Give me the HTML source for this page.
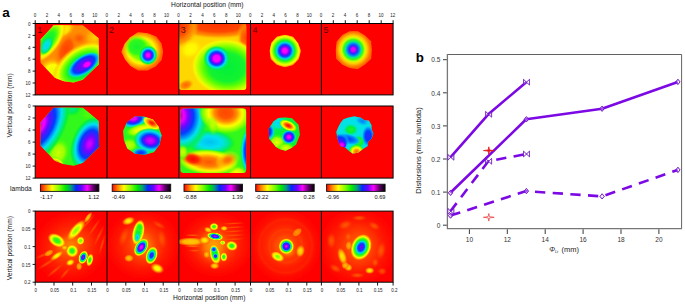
<!DOCTYPE html>
<html><head><meta charset="utf-8"><title>figure</title>
<style>html,body{margin:0;padding:0;background:#fff;width:685px;height:305px;overflow:hidden;font-family:"Liberation Sans",sans-serif}</style></head>
<body>
<svg width="685" height="305" viewBox="0 0 685 305" style="position:absolute;left:0;top:0;font-family:'Liberation Sans',sans-serif">
<defs><filter id="b1" x="-20%" y="-20%" width="140%" height="140%"><feGaussianBlur stdDeviation="1.0"/></filter><filter id="b2" x="-20%" y="-20%" width="140%" height="140%"><feGaussianBlur stdDeviation="2.0"/></filter><filter id="b05" x="-20%" y="-20%" width="140%" height="140%"><feGaussianBlur stdDeviation="0.5"/></filter><filter id="b3" x="-20%" y="-20%" width="140%" height="140%"><feGaussianBlur stdDeviation="3.0"/></filter><filter id="b07" x="-20%" y="-20%" width="140%" height="140%"><feGaussianBlur stdDeviation="0.7"/></filter><clipPath id="c00"><polygon points="18.5,1.8 47.8,1.8 63.6,14.9 64.0,41 47.8,56.7 38.5,59.6 29,58.2 19.8,54.7 5.4,39.6 5.4,16.2"/></clipPath><radialGradient id="g1"><stop offset="0.000" stop-color="#ffff00" stop-opacity="1.00"/><stop offset="0.071" stop-color="#fffa00" stop-opacity="1.00"/><stop offset="0.143" stop-color="#fff500" stop-opacity="1.00"/><stop offset="0.214" stop-color="#fff000" stop-opacity="1.00"/><stop offset="0.286" stop-color="#ffeb00" stop-opacity="1.00"/><stop offset="0.357" stop-color="#ffe600" stop-opacity="1.00"/><stop offset="0.429" stop-color="#ffe100" stop-opacity="1.00"/><stop offset="0.500" stop-color="#ffdc00" stop-opacity="1.00"/><stop offset="0.571" stop-color="#ffd100" stop-opacity="0.86"/><stop offset="0.643" stop-color="#ffc500" stop-opacity="0.71"/><stop offset="0.714" stop-color="#ffba00" stop-opacity="0.57"/><stop offset="0.786" stop-color="#ffae00" stop-opacity="0.43"/><stop offset="0.857" stop-color="#ffa300" stop-opacity="0.29"/><stop offset="0.929" stop-color="#ff9700" stop-opacity="0.14"/><stop offset="1.000" stop-color="#ff8c00" stop-opacity="0.00"/></radialGradient><radialGradient id="g2"><stop offset="0.000" stop-color="#ffd100" stop-opacity="1.00"/><stop offset="0.071" stop-color="#ffcc00" stop-opacity="1.00"/><stop offset="0.143" stop-color="#ffc700" stop-opacity="1.00"/><stop offset="0.214" stop-color="#ffc200" stop-opacity="1.00"/><stop offset="0.286" stop-color="#ffbd00" stop-opacity="1.00"/><stop offset="0.357" stop-color="#ffb800" stop-opacity="1.00"/><stop offset="0.429" stop-color="#ffb300" stop-opacity="1.00"/><stop offset="0.500" stop-color="#ffae00" stop-opacity="1.00"/><stop offset="0.571" stop-color="#ffa900" stop-opacity="0.86"/><stop offset="0.643" stop-color="#ffa400" stop-opacity="0.71"/><stop offset="0.714" stop-color="#ff9f00" stop-opacity="0.57"/><stop offset="0.786" stop-color="#ff9a00" stop-opacity="0.43"/><stop offset="0.857" stop-color="#ff9500" stop-opacity="0.29"/><stop offset="0.929" stop-color="#ff9000" stop-opacity="0.14"/><stop offset="1.000" stop-color="#ff8c00" stop-opacity="0.00"/></radialGradient><radialGradient id="g3"><stop offset="0.000" stop-color="#e6ff00" stop-opacity="1.00"/><stop offset="0.071" stop-color="#e9ff00" stop-opacity="1.00"/><stop offset="0.143" stop-color="#edff00" stop-opacity="1.00"/><stop offset="0.214" stop-color="#f0ff00" stop-opacity="1.00"/><stop offset="0.286" stop-color="#f4ff00" stop-opacity="1.00"/><stop offset="0.357" stop-color="#f8ff00" stop-opacity="1.00"/><stop offset="0.429" stop-color="#fbff00" stop-opacity="1.00"/><stop offset="0.500" stop-color="#ffff00" stop-opacity="1.00"/><stop offset="0.571" stop-color="#ffef00" stop-opacity="0.86"/><stop offset="0.643" stop-color="#ffde00" stop-opacity="0.71"/><stop offset="0.714" stop-color="#ffce00" stop-opacity="0.57"/><stop offset="0.786" stop-color="#ffbd00" stop-opacity="0.43"/><stop offset="0.857" stop-color="#ffad00" stop-opacity="0.29"/><stop offset="0.929" stop-color="#ff9c00" stop-opacity="0.14"/><stop offset="1.000" stop-color="#ff8c00" stop-opacity="0.00"/></radialGradient><radialGradient id="g4"><stop offset="0.000" stop-color="#ff4000" stop-opacity="1.00"/><stop offset="0.071" stop-color="#ff4300" stop-opacity="0.99"/><stop offset="0.143" stop-color="#ff4600" stop-opacity="0.99"/><stop offset="0.214" stop-color="#ff4900" stop-opacity="0.98"/><stop offset="0.286" stop-color="#ff4c00" stop-opacity="0.97"/><stop offset="0.357" stop-color="#ff4f00" stop-opacity="0.96"/><stop offset="0.429" stop-color="#ff5200" stop-opacity="0.96"/><stop offset="0.500" stop-color="#ff5500" stop-opacity="0.95"/><stop offset="0.571" stop-color="#ff5d00" stop-opacity="0.81"/><stop offset="0.643" stop-color="#ff6600" stop-opacity="0.68"/><stop offset="0.714" stop-color="#ff6e00" stop-opacity="0.54"/><stop offset="0.786" stop-color="#ff7600" stop-opacity="0.41"/><stop offset="0.857" stop-color="#ff7e00" stop-opacity="0.27"/><stop offset="0.929" stop-color="#ff8500" stop-opacity="0.14"/><stop offset="1.000" stop-color="#ff8c00" stop-opacity="0.00"/></radialGradient><radialGradient id="g5"><stop offset="0.000" stop-color="#ff5500" stop-opacity="1.00"/><stop offset="0.067" stop-color="#ff5900" stop-opacity="0.98"/><stop offset="0.133" stop-color="#ff5c00" stop-opacity="0.97"/><stop offset="0.200" stop-color="#ff6000" stop-opacity="0.95"/><stop offset="0.267" stop-color="#ff6400" stop-opacity="0.93"/><stop offset="0.333" stop-color="#ff6700" stop-opacity="0.92"/><stop offset="0.400" stop-color="#ff6b00" stop-opacity="0.90"/><stop offset="0.475" stop-color="#ff6f00" stop-opacity="0.79"/><stop offset="0.550" stop-color="#ff7400" stop-opacity="0.68"/><stop offset="0.625" stop-color="#ff7800" stop-opacity="0.56"/><stop offset="0.700" stop-color="#ff7c00" stop-opacity="0.45"/><stop offset="0.775" stop-color="#ff8100" stop-opacity="0.34"/><stop offset="0.850" stop-color="#ff8400" stop-opacity="0.22"/><stop offset="0.925" stop-color="#ff8800" stop-opacity="0.11"/><stop offset="1.000" stop-color="#ff8c00" stop-opacity="0.00"/></radialGradient><radialGradient id="g6"><stop offset="0.000" stop-color="#0af235" stop-opacity="1.00"/><stop offset="0.070" stop-color="#0ef233" stop-opacity="1.00"/><stop offset="0.140" stop-color="#12f330" stop-opacity="1.00"/><stop offset="0.210" stop-color="#16f42d" stop-opacity="1.00"/><stop offset="0.280" stop-color="#1af42b" stop-opacity="1.00"/><stop offset="0.350" stop-color="#1ef528" stop-opacity="1.00"/><stop offset="0.417" stop-color="#39f916" stop-opacity="1.00"/><stop offset="0.483" stop-color="#53fe04" stop-opacity="1.00"/><stop offset="0.550" stop-color="#73ff00" stop-opacity="1.00"/><stop offset="0.635" stop-color="#acff00" stop-opacity="1.00"/><stop offset="0.720" stop-color="#e6ff00" stop-opacity="1.00"/><stop offset="0.800" stop-color="#fff300" stop-opacity="0.90"/><stop offset="0.880" stop-color="#ffd100" stop-opacity="0.80"/><stop offset="0.940" stop-color="#ffba00" stop-opacity="0.40"/><stop offset="1.000" stop-color="#ffa300" stop-opacity="0.00"/></radialGradient><radialGradient id="g7"><stop offset="0.000" stop-color="#00d0f2" stop-opacity="1.00"/><stop offset="0.067" stop-color="#00d6f1" stop-opacity="1.00"/><stop offset="0.133" stop-color="#00dcf0" stop-opacity="1.00"/><stop offset="0.200" stop-color="#00e1f0" stop-opacity="1.00"/><stop offset="0.267" stop-color="#00e2e8" stop-opacity="1.00"/><stop offset="0.333" stop-color="#00e2e1" stop-opacity="1.00"/><stop offset="0.400" stop-color="#00e3d9" stop-opacity="1.00"/><stop offset="0.470" stop-color="#00e5c3" stop-opacity="1.00"/><stop offset="0.540" stop-color="#00e7ac" stop-opacity="1.00"/><stop offset="0.610" stop-color="#00e896" stop-opacity="1.00"/><stop offset="0.680" stop-color="#00ea80" stop-opacity="1.00"/><stop offset="0.750" stop-color="#00ec69" stop-opacity="1.00"/><stop offset="0.812" stop-color="#00ee53" stop-opacity="0.75"/><stop offset="0.875" stop-color="#00f03c" stop-opacity="0.50"/><stop offset="0.938" stop-color="#0af235" stop-opacity="0.25"/><stop offset="1.000" stop-color="#14f32f" stop-opacity="0.00"/></radialGradient><radialGradient id="g8"><stop offset="0.000" stop-color="#00e896" stop-opacity="1.00"/><stop offset="0.067" stop-color="#00e98e" stop-opacity="1.00"/><stop offset="0.133" stop-color="#00ea87" stop-opacity="1.00"/><stop offset="0.200" stop-color="#00ea80" stop-opacity="1.00"/><stop offset="0.267" stop-color="#00eb78" stop-opacity="1.00"/><stop offset="0.333" stop-color="#00ec71" stop-opacity="1.00"/><stop offset="0.400" stop-color="#00ec69" stop-opacity="1.00"/><stop offset="0.460" stop-color="#0af235" stop-opacity="1.00"/><stop offset="0.520" stop-color="#28f721" stop-opacity="1.00"/><stop offset="0.590" stop-color="#50fd07" stop-opacity="1.00"/><stop offset="0.660" stop-color="#80ff00" stop-opacity="1.00"/><stop offset="0.730" stop-color="#b9ff00" stop-opacity="1.00"/><stop offset="0.800" stop-color="#f2ff00" stop-opacity="1.00"/><stop offset="0.900" stop-color="#ffd100" stop-opacity="0.70"/><stop offset="1.000" stop-color="#ffa300" stop-opacity="0.00"/></radialGradient><radialGradient id="g9"><stop offset="0.000" stop-color="#8700ff" stop-opacity="1.00"/><stop offset="0.067" stop-color="#7d00ff" stop-opacity="1.00"/><stop offset="0.133" stop-color="#7402ff" stop-opacity="1.00"/><stop offset="0.200" stop-color="#6c06ff" stop-opacity="1.00"/><stop offset="0.267" stop-color="#640aff" stop-opacity="1.00"/><stop offset="0.333" stop-color="#5c0eff" stop-opacity="1.00"/><stop offset="0.400" stop-color="#5412ff" stop-opacity="1.00"/><stop offset="0.465" stop-color="#3f1cff" stop-opacity="1.00"/><stop offset="0.530" stop-color="#2a27ff" stop-opacity="1.00"/><stop offset="0.595" stop-color="#1532ff" stop-opacity="1.00"/><stop offset="0.660" stop-color="#003cff" stop-opacity="1.00"/><stop offset="0.727" stop-color="#0068fb" stop-opacity="1.00"/><stop offset="0.793" stop-color="#0094f7" stop-opacity="1.00"/><stop offset="0.860" stop-color="#00c0f3" stop-opacity="1.00"/><stop offset="0.930" stop-color="#00e3d9" stop-opacity="0.50"/><stop offset="1.000" stop-color="#00e896" stop-opacity="0.00"/></radialGradient><radialGradient id="g10"><stop offset="0.000" stop-color="#f000f1" stop-opacity="1.00"/><stop offset="0.071" stop-color="#f500f5" stop-opacity="1.00"/><stop offset="0.143" stop-color="#f900f9" stop-opacity="1.00"/><stop offset="0.214" stop-color="#fd00fd" stop-opacity="1.00"/><stop offset="0.286" stop-color="#fd00ff" stop-opacity="1.00"/><stop offset="0.357" stop-color="#f900ff" stop-opacity="1.00"/><stop offset="0.429" stop-color="#f400ff" stop-opacity="1.00"/><stop offset="0.500" stop-color="#f000ff" stop-opacity="1.00"/><stop offset="0.571" stop-color="#e100ff" stop-opacity="0.86"/><stop offset="0.643" stop-color="#d200ff" stop-opacity="0.71"/><stop offset="0.714" stop-color="#c300ff" stop-opacity="0.57"/><stop offset="0.786" stop-color="#b400ff" stop-opacity="0.43"/><stop offset="0.857" stop-color="#a500ff" stop-opacity="0.29"/><stop offset="0.929" stop-color="#9600ff" stop-opacity="0.14"/><stop offset="1.000" stop-color="#8700ff" stop-opacity="0.00"/></radialGradient><clipPath id="c01"><polygon points="56.3,28.5 54.8,36.9 48.8,43.3 40.7,47.4 31.3,47.5 23.6,42.9 18.2,36.4 14.5,28.5 17.7,20.4 23.4,13.9 31.1,8.9 40.6,9.8 49.4,13.0 54.7,20.2"/></clipPath><radialGradient id="g11"><stop offset="0.000" stop-color="#5aff00" stop-opacity="1.00"/><stop offset="0.070" stop-color="#60ff00" stop-opacity="1.00"/><stop offset="0.140" stop-color="#67ff00" stop-opacity="1.00"/><stop offset="0.210" stop-color="#6dff00" stop-opacity="1.00"/><stop offset="0.280" stop-color="#73ff00" stop-opacity="1.00"/><stop offset="0.350" stop-color="#7aff00" stop-opacity="1.00"/><stop offset="0.420" stop-color="#80ff00" stop-opacity="1.00"/><stop offset="0.500" stop-color="#b3ff00" stop-opacity="1.00"/><stop offset="0.580" stop-color="#e6ff00" stop-opacity="1.00"/><stop offset="0.660" stop-color="#ffee00" stop-opacity="1.00"/><stop offset="0.740" stop-color="#ffc500" stop-opacity="1.00"/><stop offset="0.820" stop-color="#ffa300" stop-opacity="1.00"/><stop offset="0.900" stop-color="#ff8000" stop-opacity="1.00"/><stop offset="1.000" stop-color="#ff6400" stop-opacity="0.00"/></radialGradient><radialGradient id="g12"><stop offset="0.000" stop-color="#14f32f" stop-opacity="1.00"/><stop offset="0.075" stop-color="#18f42c" stop-opacity="1.00"/><stop offset="0.150" stop-color="#1bf52a" stop-opacity="1.00"/><stop offset="0.225" stop-color="#1ff527" stop-opacity="1.00"/><stop offset="0.300" stop-color="#23f625" stop-opacity="1.00"/><stop offset="0.375" stop-color="#27f622" stop-opacity="1.00"/><stop offset="0.450" stop-color="#2af720" stop-opacity="1.00"/><stop offset="0.525" stop-color="#2ef81d" stop-opacity="1.00"/><stop offset="0.600" stop-color="#32f81b" stop-opacity="1.00"/><stop offset="0.667" stop-color="#41fb11" stop-opacity="0.83"/><stop offset="0.733" stop-color="#50fd07" stop-opacity="0.67"/><stop offset="0.800" stop-color="#60ff00" stop-opacity="0.50"/><stop offset="0.867" stop-color="#73ff00" stop-opacity="0.33"/><stop offset="0.933" stop-color="#86ff00" stop-opacity="0.17"/><stop offset="1.000" stop-color="#99ff00" stop-opacity="0.00"/></radialGradient><radialGradient id="g13"><stop offset="0.000" stop-color="#f000f1" stop-opacity="1.00"/><stop offset="0.067" stop-color="#ff00ff" stop-opacity="1.00"/><stop offset="0.133" stop-color="#f000ff" stop-opacity="1.00"/><stop offset="0.200" stop-color="#e100ff" stop-opacity="1.00"/><stop offset="0.280" stop-color="#9e00ff" stop-opacity="1.00"/><stop offset="0.360" stop-color="#600cff" stop-opacity="1.00"/><stop offset="0.440" stop-color="#242aff" stop-opacity="1.00"/><stop offset="0.520" stop-color="#005dfc" stop-opacity="1.00"/><stop offset="0.590" stop-color="#009ff6" stop-opacity="1.00"/><stop offset="0.660" stop-color="#00e1f0" stop-opacity="1.00"/><stop offset="0.740" stop-color="#00e896" stop-opacity="1.00"/><stop offset="0.820" stop-color="#00f03c" stop-opacity="1.00"/><stop offset="0.880" stop-color="#17f42c" stop-opacity="0.67"/><stop offset="0.940" stop-color="#2ff81d" stop-opacity="0.33"/><stop offset="1.000" stop-color="#46fc0d" stop-opacity="0.00"/></radialGradient><clipPath id="c02"><path d="M0 0 H64.5 Q67.8 0 67.8 3.3 V63.8 Q67.8 67.1 64.5 67.1 H3.3 Q0 67.1 0 63.8 Z"/></clipPath><radialGradient id="g14"><stop offset="0.000" stop-color="#ff3200" stop-opacity="1.00"/><stop offset="0.071" stop-color="#ff3500" stop-opacity="1.00"/><stop offset="0.143" stop-color="#ff3800" stop-opacity="1.00"/><stop offset="0.214" stop-color="#ff3b00" stop-opacity="1.00"/><stop offset="0.286" stop-color="#ff3e00" stop-opacity="1.00"/><stop offset="0.357" stop-color="#ff4100" stop-opacity="1.00"/><stop offset="0.429" stop-color="#ff4400" stop-opacity="1.00"/><stop offset="0.500" stop-color="#ff4700" stop-opacity="1.00"/><stop offset="0.570" stop-color="#ff5900" stop-opacity="0.97"/><stop offset="0.640" stop-color="#ff6b00" stop-opacity="0.95"/><stop offset="0.710" stop-color="#ff7c00" stop-opacity="0.93"/><stop offset="0.780" stop-color="#ff8c00" stop-opacity="0.90"/><stop offset="0.853" stop-color="#ffa300" stop-opacity="0.60"/><stop offset="0.927" stop-color="#ffba00" stop-opacity="0.30"/><stop offset="1.000" stop-color="#ffd100" stop-opacity="0.00"/></radialGradient><radialGradient id="g15"><stop offset="0.000" stop-color="#ff4700" stop-opacity="1.00"/><stop offset="0.071" stop-color="#ff4d00" stop-opacity="1.00"/><stop offset="0.143" stop-color="#ff5300" stop-opacity="1.00"/><stop offset="0.214" stop-color="#ff5900" stop-opacity="1.00"/><stop offset="0.286" stop-color="#ff5f00" stop-opacity="1.00"/><stop offset="0.357" stop-color="#ff6600" stop-opacity="1.00"/><stop offset="0.429" stop-color="#ff6c00" stop-opacity="1.00"/><stop offset="0.500" stop-color="#ff7200" stop-opacity="1.00"/><stop offset="0.571" stop-color="#ff8200" stop-opacity="0.86"/><stop offset="0.643" stop-color="#ff8f00" stop-opacity="0.71"/><stop offset="0.714" stop-color="#ff9c00" stop-opacity="0.57"/><stop offset="0.786" stop-color="#ffa900" stop-opacity="0.43"/><stop offset="0.857" stop-color="#ffb600" stop-opacity="0.29"/><stop offset="0.929" stop-color="#ffc400" stop-opacity="0.14"/><stop offset="1.000" stop-color="#ffd100" stop-opacity="0.00"/></radialGradient><radialGradient id="g16"><stop offset="0.000" stop-color="#ff2b00" stop-opacity="1.00"/><stop offset="0.075" stop-color="#ff3200" stop-opacity="1.00"/><stop offset="0.150" stop-color="#ff3900" stop-opacity="1.00"/><stop offset="0.225" stop-color="#ff4000" stop-opacity="1.00"/><stop offset="0.300" stop-color="#ff4700" stop-opacity="1.00"/><stop offset="0.375" stop-color="#ff4e00" stop-opacity="1.00"/><stop offset="0.450" stop-color="#ff5500" stop-opacity="1.00"/><stop offset="0.525" stop-color="#ff6700" stop-opacity="0.97"/><stop offset="0.600" stop-color="#ff7900" stop-opacity="0.95"/><stop offset="0.675" stop-color="#ff8900" stop-opacity="0.93"/><stop offset="0.750" stop-color="#ff9700" stop-opacity="0.90"/><stop offset="0.812" stop-color="#ffa600" stop-opacity="0.68"/><stop offset="0.875" stop-color="#ffb400" stop-opacity="0.45"/><stop offset="0.938" stop-color="#ffc200" stop-opacity="0.22"/><stop offset="1.000" stop-color="#ffd100" stop-opacity="0.00"/></radialGradient><radialGradient id="g17"><stop offset="0.000" stop-color="#ff6400" stop-opacity="1.00"/><stop offset="0.071" stop-color="#ff6a00" stop-opacity="1.00"/><stop offset="0.143" stop-color="#ff7000" stop-opacity="1.00"/><stop offset="0.214" stop-color="#ff7600" stop-opacity="1.00"/><stop offset="0.286" stop-color="#ff7c00" stop-opacity="1.00"/><stop offset="0.357" stop-color="#ff8200" stop-opacity="1.00"/><stop offset="0.429" stop-color="#ff8700" stop-opacity="1.00"/><stop offset="0.500" stop-color="#ff8c00" stop-opacity="1.00"/><stop offset="0.571" stop-color="#ff9500" stop-opacity="0.86"/><stop offset="0.643" stop-color="#ff9f00" stop-opacity="0.71"/><stop offset="0.714" stop-color="#ffa900" stop-opacity="0.57"/><stop offset="0.786" stop-color="#ffb300" stop-opacity="0.43"/><stop offset="0.857" stop-color="#ffbd00" stop-opacity="0.29"/><stop offset="0.929" stop-color="#ffc700" stop-opacity="0.14"/><stop offset="1.000" stop-color="#ffd100" stop-opacity="0.00"/></radialGradient><radialGradient id="g18"><stop offset="0.000" stop-color="#ffff00" stop-opacity="1.00"/><stop offset="0.071" stop-color="#fffd00" stop-opacity="1.00"/><stop offset="0.143" stop-color="#fffc00" stop-opacity="1.00"/><stop offset="0.214" stop-color="#fffa00" stop-opacity="1.00"/><stop offset="0.286" stop-color="#fff800" stop-opacity="1.00"/><stop offset="0.357" stop-color="#fff700" stop-opacity="1.00"/><stop offset="0.429" stop-color="#fff500" stop-opacity="1.00"/><stop offset="0.500" stop-color="#fff300" stop-opacity="1.00"/><stop offset="0.571" stop-color="#ffef00" stop-opacity="0.86"/><stop offset="0.643" stop-color="#ffeb00" stop-opacity="0.71"/><stop offset="0.714" stop-color="#ffe700" stop-opacity="0.57"/><stop offset="0.786" stop-color="#ffe300" stop-opacity="0.43"/><stop offset="0.857" stop-color="#ffdf00" stop-opacity="0.29"/><stop offset="0.929" stop-color="#ffdb00" stop-opacity="0.14"/><stop offset="1.000" stop-color="#ffd700" stop-opacity="0.00"/></radialGradient><radialGradient id="g19"><stop offset="0.000" stop-color="#00f03c" stop-opacity="1.00"/><stop offset="0.071" stop-color="#03f03a" stop-opacity="1.00"/><stop offset="0.143" stop-color="#06f138" stop-opacity="1.00"/><stop offset="0.214" stop-color="#09f136" stop-opacity="1.00"/><stop offset="0.286" stop-color="#0bf234" stop-opacity="1.00"/><stop offset="0.357" stop-color="#0ef232" stop-opacity="1.00"/><stop offset="0.429" stop-color="#11f331" stop-opacity="1.00"/><stop offset="0.500" stop-color="#14f32f" stop-opacity="1.00"/><stop offset="0.570" stop-color="#32f81b" stop-opacity="1.00"/><stop offset="0.640" stop-color="#50fd07" stop-opacity="1.00"/><stop offset="0.710" stop-color="#7aff00" stop-opacity="1.00"/><stop offset="0.780" stop-color="#a6ff00" stop-opacity="1.00"/><stop offset="0.840" stop-color="#ccff00" stop-opacity="0.95"/><stop offset="0.900" stop-color="#f2ff00" stop-opacity="0.90"/><stop offset="1.000" stop-color="#ffdc00" stop-opacity="0.00"/></radialGradient><radialGradient id="g20"><stop offset="0.000" stop-color="#f000f1" stop-opacity="1.00"/><stop offset="0.065" stop-color="#f800f8" stop-opacity="1.00"/><stop offset="0.130" stop-color="#ff00ff" stop-opacity="1.00"/><stop offset="0.195" stop-color="#f800ff" stop-opacity="1.00"/><stop offset="0.260" stop-color="#f000ff" stop-opacity="1.00"/><stop offset="0.330" stop-color="#a500ff" stop-opacity="1.00"/><stop offset="0.400" stop-color="#600cff" stop-opacity="1.00"/><stop offset="0.475" stop-color="#242aff" stop-opacity="1.00"/><stop offset="0.550" stop-color="#005dfc" stop-opacity="1.00"/><stop offset="0.615" stop-color="#009ff6" stop-opacity="1.00"/><stop offset="0.680" stop-color="#00e1f0" stop-opacity="1.00"/><stop offset="0.760" stop-color="#00e7ac" stop-opacity="1.00"/><stop offset="0.840" stop-color="#00ec69" stop-opacity="1.00"/><stop offset="0.920" stop-color="#00ef47" stop-opacity="0.50"/><stop offset="1.000" stop-color="#0af235" stop-opacity="0.00"/></radialGradient><clipPath id="c03"><polygon points="51.1,27.6 49.0,35.8 43.1,41.8 34.9,44.2 26.7,41.7 20.6,35.9 19.5,27.6 21.1,19.6 26.6,13.3 34.9,11.4 43.2,13.3 48.3,19.8"/></clipPath><radialGradient id="g21"><stop offset="0.000" stop-color="#f000f1" stop-opacity="1.00"/><stop offset="0.070" stop-color="#ff00ff" stop-opacity="1.00"/><stop offset="0.140" stop-color="#f000ff" stop-opacity="1.00"/><stop offset="0.200" stop-color="#a500ff" stop-opacity="1.00"/><stop offset="0.260" stop-color="#600cff" stop-opacity="1.00"/><stop offset="0.320" stop-color="#242aff" stop-opacity="1.00"/><stop offset="0.380" stop-color="#005dfc" stop-opacity="1.00"/><stop offset="0.440" stop-color="#00aff4" stop-opacity="1.00"/><stop offset="0.500" stop-color="#00e5c3" stop-opacity="1.00"/><stop offset="0.560" stop-color="#00ee53" stop-opacity="1.00"/><stop offset="0.620" stop-color="#28f721" stop-opacity="1.00"/><stop offset="0.680" stop-color="#60ff00" stop-opacity="1.00"/><stop offset="0.740" stop-color="#a6ff00" stop-opacity="1.00"/><stop offset="0.800" stop-color="#dfff00" stop-opacity="1.00"/><stop offset="0.860" stop-color="#ffe800" stop-opacity="1.00"/><stop offset="0.950" stop-color="#ff8c00" stop-opacity="1.00"/><stop offset="1.000" stop-color="#ff7200" stop-opacity="0.00"/></radialGradient><clipPath id="c04"><polygon points="50.6,26.7 50.0,35.5 43.7,41.3 36.7,46.0 28.5,44.8 21.2,41.5 14.9,35.5 14.4,26.7 15.5,18.2 21.0,11.6 28.4,7.9 36.6,7.8 43.7,12.0 49.8,18.0"/></clipPath><radialGradient id="g22"><stop offset="0.000" stop-color="#f000f1" stop-opacity="1.00"/><stop offset="0.100" stop-color="#d200ff" stop-opacity="1.00"/><stop offset="0.200" stop-color="#3024ff" stop-opacity="1.00"/><stop offset="0.300" stop-color="#007ef9" stop-opacity="1.00"/><stop offset="0.400" stop-color="#00e896" stop-opacity="1.00"/><stop offset="0.500" stop-color="#3cfa14" stop-opacity="1.00"/><stop offset="0.600" stop-color="#ccff00" stop-opacity="1.00"/><stop offset="0.700" stop-color="#ffd100" stop-opacity="1.00"/><stop offset="0.775" stop-color="#ffa800" stop-opacity="1.00"/><stop offset="0.850" stop-color="#ff8000" stop-opacity="1.00"/><stop offset="0.925" stop-color="#ff6b00" stop-opacity="0.50"/><stop offset="1.000" stop-color="#ff5500" stop-opacity="0.00"/></radialGradient><radialGradient id="g23"><stop offset="0.000" stop-color="#ccff00" stop-opacity="1.00"/><stop offset="0.071" stop-color="#c5ff00" stop-opacity="1.00"/><stop offset="0.143" stop-color="#beff00" stop-opacity="1.00"/><stop offset="0.214" stop-color="#b6ff00" stop-opacity="1.00"/><stop offset="0.286" stop-color="#afff00" stop-opacity="1.00"/><stop offset="0.357" stop-color="#a8ff00" stop-opacity="1.00"/><stop offset="0.429" stop-color="#a1ff00" stop-opacity="1.00"/><stop offset="0.500" stop-color="#99ff00" stop-opacity="1.00"/><stop offset="0.571" stop-color="#89ff00" stop-opacity="0.86"/><stop offset="0.643" stop-color="#79ff00" stop-opacity="0.71"/><stop offset="0.714" stop-color="#69ff00" stop-opacity="0.57"/><stop offset="0.786" stop-color="#59ff01" stop-opacity="0.43"/><stop offset="0.857" stop-color="#4cfd0a" stop-opacity="0.29"/><stop offset="0.929" stop-color="#3ffa12" stop-opacity="0.14"/><stop offset="1.000" stop-color="#32f81b" stop-opacity="0.00"/></radialGradient><radialGradient id="g24"><stop offset="0.000" stop-color="#00e896" stop-opacity="1.00"/><stop offset="0.071" stop-color="#00e98c" stop-opacity="1.00"/><stop offset="0.143" stop-color="#00ea83" stop-opacity="1.00"/><stop offset="0.214" stop-color="#00eb79" stop-opacity="1.00"/><stop offset="0.286" stop-color="#00ec6f" stop-opacity="1.00"/><stop offset="0.357" stop-color="#00ed66" stop-opacity="1.00"/><stop offset="0.429" stop-color="#00ed5c" stop-opacity="1.00"/><stop offset="0.500" stop-color="#00ee53" stop-opacity="1.00"/><stop offset="0.571" stop-color="#00f03f" stop-opacity="0.86"/><stop offset="0.643" stop-color="#07f137" stop-opacity="0.71"/><stop offset="0.714" stop-color="#10f332" stop-opacity="0.57"/><stop offset="0.786" stop-color="#18f42c" stop-opacity="0.43"/><stop offset="0.857" stop-color="#21f526" stop-opacity="0.29"/><stop offset="0.929" stop-color="#29f720" stop-opacity="0.14"/><stop offset="1.000" stop-color="#32f81b" stop-opacity="0.00"/></radialGradient><radialGradient id="g25"><stop offset="0.000" stop-color="#50fd07" stop-opacity="1.00"/><stop offset="0.071" stop-color="#4ffd08" stop-opacity="1.00"/><stop offset="0.143" stop-color="#4dfd09" stop-opacity="1.00"/><stop offset="0.214" stop-color="#4cfd0a" stop-opacity="1.00"/><stop offset="0.286" stop-color="#4afc0a" stop-opacity="1.00"/><stop offset="0.357" stop-color="#49fc0b" stop-opacity="1.00"/><stop offset="0.429" stop-color="#47fc0c" stop-opacity="1.00"/><stop offset="0.500" stop-color="#46fc0d" stop-opacity="1.00"/><stop offset="0.571" stop-color="#43fb0f" stop-opacity="0.86"/><stop offset="0.643" stop-color="#40fb11" stop-opacity="0.71"/><stop offset="0.714" stop-color="#3dfa13" stop-opacity="0.57"/><stop offset="0.786" stop-color="#3bfa15" stop-opacity="0.43"/><stop offset="0.857" stop-color="#38f917" stop-opacity="0.29"/><stop offset="0.929" stop-color="#35f919" stop-opacity="0.14"/><stop offset="1.000" stop-color="#32f81b" stop-opacity="0.00"/></radialGradient><radialGradient id="g26"><stop offset="0.000" stop-color="#b700bc" stop-opacity="1.00"/><stop offset="0.067" stop-color="#d400d7" stop-opacity="1.00"/><stop offset="0.133" stop-color="#f000f1" stop-opacity="1.00"/><stop offset="0.200" stop-color="#f000ff" stop-opacity="1.00"/><stop offset="0.270" stop-color="#a500ff" stop-opacity="1.00"/><stop offset="0.340" stop-color="#600cff" stop-opacity="1.00"/><stop offset="0.400" stop-color="#401cff" stop-opacity="1.00"/><stop offset="0.460" stop-color="#202cff" stop-opacity="1.00"/><stop offset="0.520" stop-color="#003cff" stop-opacity="1.00"/><stop offset="0.580" stop-color="#0076fa" stop-opacity="1.00"/><stop offset="0.640" stop-color="#00aff4" stop-opacity="1.00"/><stop offset="0.710" stop-color="#00e1f0" stop-opacity="1.00"/><stop offset="0.780" stop-color="#00e7ac" stop-opacity="1.00"/><stop offset="0.840" stop-color="#00eb74" stop-opacity="0.95"/><stop offset="0.900" stop-color="#00f03c" stop-opacity="0.90"/><stop offset="1.000" stop-color="#28f721" stop-opacity="0.00"/></radialGradient><radialGradient id="g27"><stop offset="0.000" stop-color="#e100ff" stop-opacity="1.00"/><stop offset="0.070" stop-color="#ca00ff" stop-opacity="1.00"/><stop offset="0.140" stop-color="#b400ff" stop-opacity="1.00"/><stop offset="0.220" stop-color="#8700ff" stop-opacity="1.00"/><stop offset="0.300" stop-color="#600cff" stop-opacity="1.00"/><stop offset="0.367" stop-color="#401cff" stop-opacity="1.00"/><stop offset="0.433" stop-color="#202cff" stop-opacity="1.00"/><stop offset="0.500" stop-color="#003cff" stop-opacity="1.00"/><stop offset="0.570" stop-color="#0076fa" stop-opacity="1.00"/><stop offset="0.640" stop-color="#00aff4" stop-opacity="1.00"/><stop offset="0.710" stop-color="#00e1f0" stop-opacity="1.00"/><stop offset="0.780" stop-color="#00e7ac" stop-opacity="1.00"/><stop offset="0.840" stop-color="#00eb74" stop-opacity="0.95"/><stop offset="0.900" stop-color="#00f03c" stop-opacity="0.90"/><stop offset="1.000" stop-color="#28f721" stop-opacity="0.00"/></radialGradient><radialGradient id="g28"><stop offset="0.000" stop-color="#ff0000" stop-opacity="1.00"/><stop offset="0.075" stop-color="#ff1c00" stop-opacity="1.00"/><stop offset="0.150" stop-color="#ff3900" stop-opacity="1.00"/><stop offset="0.225" stop-color="#ff5500" stop-opacity="1.00"/><stop offset="0.300" stop-color="#ff7200" stop-opacity="1.00"/><stop offset="0.375" stop-color="#ff9100" stop-opacity="1.00"/><stop offset="0.450" stop-color="#ffae00" stop-opacity="1.00"/><stop offset="0.525" stop-color="#ffcb00" stop-opacity="1.00"/><stop offset="0.600" stop-color="#ffe800" stop-opacity="1.00"/><stop offset="0.667" stop-color="#f2ff00" stop-opacity="0.97"/><stop offset="0.733" stop-color="#ccff00" stop-opacity="0.93"/><stop offset="0.800" stop-color="#a6ff00" stop-opacity="0.90"/><stop offset="0.867" stop-color="#89ff00" stop-opacity="0.60"/><stop offset="0.933" stop-color="#6bff00" stop-opacity="0.30"/><stop offset="1.000" stop-color="#50fd07" stop-opacity="0.00"/></radialGradient><clipPath id="c11"><polygon points="54.7,29.3 52.7,38.5 46.9,46.3 37.6,48.7 28.2,47.6 20.4,42.4 16.9,33.8 16.1,24.6 20.3,16.1 28.0,10.3 37.4,10.8 46.1,13.6 51.7,20.6"/></clipPath><radialGradient id="g29"><stop offset="0.000" stop-color="#c0ff00" stop-opacity="1.00"/><stop offset="0.071" stop-color="#b8ff00" stop-opacity="1.00"/><stop offset="0.143" stop-color="#b1ff00" stop-opacity="1.00"/><stop offset="0.214" stop-color="#aaff00" stop-opacity="1.00"/><stop offset="0.286" stop-color="#a3ff00" stop-opacity="1.00"/><stop offset="0.357" stop-color="#9bff00" stop-opacity="1.00"/><stop offset="0.429" stop-color="#94ff00" stop-opacity="1.00"/><stop offset="0.500" stop-color="#8dff00" stop-opacity="1.00"/><stop offset="0.571" stop-color="#7cff00" stop-opacity="0.86"/><stop offset="0.643" stop-color="#6cff00" stop-opacity="0.71"/><stop offset="0.714" stop-color="#5cff00" stop-opacity="0.57"/><stop offset="0.786" stop-color="#4ffd08" stop-opacity="0.43"/><stop offset="0.857" stop-color="#42fb10" stop-opacity="0.29"/><stop offset="0.929" stop-color="#35f919" stop-opacity="0.14"/><stop offset="1.000" stop-color="#28f721" stop-opacity="0.00"/></radialGradient><radialGradient id="g30"><stop offset="0.000" stop-color="#d400d7" stop-opacity="1.00"/><stop offset="0.062" stop-color="#f100f2" stop-opacity="1.00"/><stop offset="0.125" stop-color="#f000ff" stop-opacity="1.00"/><stop offset="0.188" stop-color="#d200ff" stop-opacity="1.00"/><stop offset="0.250" stop-color="#b400ff" stop-opacity="1.00"/><stop offset="0.317" stop-color="#8200ff" stop-opacity="1.00"/><stop offset="0.383" stop-color="#5810ff" stop-opacity="1.00"/><stop offset="0.450" stop-color="#3024ff" stop-opacity="1.00"/><stop offset="0.517" stop-color="#0838ff" stop-opacity="1.00"/><stop offset="0.583" stop-color="#0068fb" stop-opacity="1.00"/><stop offset="0.650" stop-color="#009ff6" stop-opacity="1.00"/><stop offset="0.717" stop-color="#00d0f2" stop-opacity="1.00"/><stop offset="0.783" stop-color="#00e5c3" stop-opacity="1.00"/><stop offset="0.850" stop-color="#00ea80" stop-opacity="1.00"/><stop offset="0.925" stop-color="#00ef47" stop-opacity="0.50"/><stop offset="1.000" stop-color="#14f32f" stop-opacity="0.00"/></radialGradient><radialGradient id="g31"><stop offset="0.000" stop-color="#ffff00" stop-opacity="1.00"/><stop offset="0.067" stop-color="#fbff00" stop-opacity="1.00"/><stop offset="0.133" stop-color="#f7ff00" stop-opacity="1.00"/><stop offset="0.200" stop-color="#f2ff00" stop-opacity="1.00"/><stop offset="0.267" stop-color="#eeff00" stop-opacity="1.00"/><stop offset="0.333" stop-color="#eaff00" stop-opacity="1.00"/><stop offset="0.400" stop-color="#e6ff00" stop-opacity="1.00"/><stop offset="0.475" stop-color="#cfff00" stop-opacity="1.00"/><stop offset="0.550" stop-color="#b9ff00" stop-opacity="1.00"/><stop offset="0.625" stop-color="#a3ff00" stop-opacity="1.00"/><stop offset="0.700" stop-color="#8dff00" stop-opacity="1.00"/><stop offset="0.775" stop-color="#73ff00" stop-opacity="0.75"/><stop offset="0.850" stop-color="#5aff00" stop-opacity="0.50"/><stop offset="0.925" stop-color="#46fc0d" stop-opacity="0.25"/><stop offset="1.000" stop-color="#32f81b" stop-opacity="0.00"/></radialGradient><radialGradient id="g32"><stop offset="0.000" stop-color="#ff0000" stop-opacity="1.00"/><stop offset="0.075" stop-color="#ff1200" stop-opacity="1.00"/><stop offset="0.150" stop-color="#ff2400" stop-opacity="1.00"/><stop offset="0.225" stop-color="#ff3500" stop-opacity="1.00"/><stop offset="0.300" stop-color="#ff4700" stop-opacity="1.00"/><stop offset="0.362" stop-color="#ff6400" stop-opacity="1.00"/><stop offset="0.425" stop-color="#ff8000" stop-opacity="1.00"/><stop offset="0.488" stop-color="#ff9700" stop-opacity="1.00"/><stop offset="0.550" stop-color="#ffae00" stop-opacity="1.00"/><stop offset="0.613" stop-color="#ffc200" stop-opacity="1.00"/><stop offset="0.675" stop-color="#ffd700" stop-opacity="1.00"/><stop offset="0.738" stop-color="#ffeb00" stop-opacity="1.00"/><stop offset="0.800" stop-color="#ffff00" stop-opacity="1.00"/><stop offset="0.867" stop-color="#eaff00" stop-opacity="0.67"/><stop offset="0.933" stop-color="#d5ff00" stop-opacity="0.33"/><stop offset="1.000" stop-color="#c0ff00" stop-opacity="0.00"/></radialGradient><radialGradient id="g33"><stop offset="0.000" stop-color="#e100ff" stop-opacity="1.00"/><stop offset="0.062" stop-color="#d200ff" stop-opacity="1.00"/><stop offset="0.125" stop-color="#c300ff" stop-opacity="1.00"/><stop offset="0.188" stop-color="#b400ff" stop-opacity="1.00"/><stop offset="0.250" stop-color="#a500ff" stop-opacity="1.00"/><stop offset="0.335" stop-color="#6c06ff" stop-opacity="1.00"/><stop offset="0.420" stop-color="#3c1eff" stop-opacity="1.00"/><stop offset="0.490" stop-color="#0c36ff" stop-opacity="1.00"/><stop offset="0.560" stop-color="#006efa" stop-opacity="1.00"/><stop offset="0.620" stop-color="#0094f7" stop-opacity="1.00"/><stop offset="0.680" stop-color="#00baf4" stop-opacity="1.00"/><stop offset="0.740" stop-color="#00e1f0" stop-opacity="1.00"/><stop offset="0.810" stop-color="#00e6b8" stop-opacity="0.95"/><stop offset="0.880" stop-color="#00ea80" stop-opacity="0.90"/><stop offset="0.940" stop-color="#00ef47" stop-opacity="0.45"/><stop offset="1.000" stop-color="#14f32f" stop-opacity="0.00"/></radialGradient><radialGradient id="g34"><stop offset="0.000" stop-color="#242aff" stop-opacity="1.00"/><stop offset="0.071" stop-color="#1631ff" stop-opacity="1.00"/><stop offset="0.143" stop-color="#0938ff" stop-opacity="1.00"/><stop offset="0.214" stop-color="#0043fe" stop-opacity="1.00"/><stop offset="0.286" stop-color="#0056fd" stop-opacity="1.00"/><stop offset="0.357" stop-color="#0069fb" stop-opacity="1.00"/><stop offset="0.429" stop-color="#007cf9" stop-opacity="1.00"/><stop offset="0.500" stop-color="#008ef8" stop-opacity="1.00"/><stop offset="0.571" stop-color="#00adf5" stop-opacity="0.86"/><stop offset="0.643" stop-color="#00ccf2" stop-opacity="0.71"/><stop offset="0.714" stop-color="#00e2e3" stop-opacity="0.57"/><stop offset="0.786" stop-color="#00e6b9" stop-opacity="0.43"/><stop offset="0.857" stop-color="#00e990" stop-opacity="0.29"/><stop offset="0.929" stop-color="#00ed66" stop-opacity="0.14"/><stop offset="1.000" stop-color="#00f03c" stop-opacity="0.00"/></radialGradient><clipPath id="c12"><rect x="1.6" y="2.5" width="66.0" height="64.4" rx="3.2"/></clipPath><radialGradient id="g35"><stop offset="0.000" stop-color="#00c0f3" stop-opacity="1.00"/><stop offset="0.075" stop-color="#00c5f2" stop-opacity="1.00"/><stop offset="0.150" stop-color="#00cbf2" stop-opacity="1.00"/><stop offset="0.225" stop-color="#00d0f2" stop-opacity="1.00"/><stop offset="0.300" stop-color="#00d6f1" stop-opacity="1.00"/><stop offset="0.375" stop-color="#00dcf0" stop-opacity="1.00"/><stop offset="0.450" stop-color="#00e1f0" stop-opacity="1.00"/><stop offset="0.525" stop-color="#00e3d4" stop-opacity="1.00"/><stop offset="0.600" stop-color="#00e6b8" stop-opacity="1.00"/><stop offset="0.675" stop-color="#00e89c" stop-opacity="1.00"/><stop offset="0.750" stop-color="#00ea80" stop-opacity="1.00"/><stop offset="0.812" stop-color="#00ee58" stop-opacity="0.75"/><stop offset="0.875" stop-color="#05f139" stop-opacity="0.50"/><stop offset="0.938" stop-color="#16f42d" stop-opacity="0.25"/><stop offset="1.000" stop-color="#28f721" stop-opacity="0.00"/></radialGradient><radialGradient id="g36"><stop offset="0.000" stop-color="#9a00a1" stop-opacity="1.00"/><stop offset="0.080" stop-color="#c500c9" stop-opacity="1.00"/><stop offset="0.160" stop-color="#f000f1" stop-opacity="1.00"/><stop offset="0.220" stop-color="#d200ff" stop-opacity="1.00"/><stop offset="0.280" stop-color="#9600ff" stop-opacity="1.00"/><stop offset="0.350" stop-color="#600cff" stop-opacity="1.00"/><stop offset="0.420" stop-color="#3024ff" stop-opacity="1.00"/><stop offset="0.490" stop-color="#0639ff" stop-opacity="1.00"/><stop offset="0.560" stop-color="#006efa" stop-opacity="1.00"/><stop offset="0.630" stop-color="#00a7f5" stop-opacity="1.00"/><stop offset="0.700" stop-color="#00e1f0" stop-opacity="1.00"/><stop offset="0.775" stop-color="#00e7ac" stop-opacity="1.00"/><stop offset="0.850" stop-color="#00ec69" stop-opacity="1.00"/><stop offset="0.925" stop-color="#0af235" stop-opacity="0.50"/><stop offset="1.000" stop-color="#28f721" stop-opacity="0.00"/></radialGradient><radialGradient id="g37"><stop offset="0.000" stop-color="#ff4700" stop-opacity="1.00"/><stop offset="0.062" stop-color="#ff4b00" stop-opacity="1.00"/><stop offset="0.125" stop-color="#ff4e00" stop-opacity="1.00"/><stop offset="0.188" stop-color="#ff5200" stop-opacity="1.00"/><stop offset="0.250" stop-color="#ff5500" stop-opacity="1.00"/><stop offset="0.335" stop-color="#ff7200" stop-opacity="1.00"/><stop offset="0.420" stop-color="#ff8c00" stop-opacity="1.00"/><stop offset="0.500" stop-color="#ffba00" stop-opacity="1.00"/><stop offset="0.580" stop-color="#ffe800" stop-opacity="1.00"/><stop offset="0.640" stop-color="#f7ff00" stop-opacity="1.00"/><stop offset="0.700" stop-color="#d5ff00" stop-opacity="1.00"/><stop offset="0.760" stop-color="#b3ff00" stop-opacity="1.00"/><stop offset="0.830" stop-color="#8dff00" stop-opacity="0.95"/><stop offset="0.900" stop-color="#67ff00" stop-opacity="0.90"/><stop offset="1.000" stop-color="#32f81b" stop-opacity="0.00"/></radialGradient><radialGradient id="g38"><stop offset="0.000" stop-color="#ccff00" stop-opacity="0.80"/><stop offset="0.071" stop-color="#c5ff00" stop-opacity="0.77"/><stop offset="0.143" stop-color="#beff00" stop-opacity="0.74"/><stop offset="0.214" stop-color="#b6ff00" stop-opacity="0.71"/><stop offset="0.286" stop-color="#afff00" stop-opacity="0.69"/><stop offset="0.357" stop-color="#a8ff00" stop-opacity="0.66"/><stop offset="0.429" stop-color="#a1ff00" stop-opacity="0.63"/><stop offset="0.500" stop-color="#99ff00" stop-opacity="0.60"/><stop offset="0.571" stop-color="#8bff00" stop-opacity="0.51"/><stop offset="0.643" stop-color="#7cff00" stop-opacity="0.43"/><stop offset="0.714" stop-color="#6eff00" stop-opacity="0.34"/><stop offset="0.786" stop-color="#5fff00" stop-opacity="0.26"/><stop offset="0.857" stop-color="#53fe05" stop-opacity="0.17"/><stop offset="0.929" stop-color="#47fc0c" stop-opacity="0.09"/><stop offset="1.000" stop-color="#3cfa14" stop-opacity="0.00"/></radialGradient><radialGradient id="g39"><stop offset="0.000" stop-color="#ffff00" stop-opacity="1.00"/><stop offset="0.071" stop-color="#f4ff00" stop-opacity="1.00"/><stop offset="0.143" stop-color="#e9ff00" stop-opacity="1.00"/><stop offset="0.214" stop-color="#deff00" stop-opacity="1.00"/><stop offset="0.286" stop-color="#d3ff00" stop-opacity="1.00"/><stop offset="0.357" stop-color="#c9ff00" stop-opacity="1.00"/><stop offset="0.429" stop-color="#beff00" stop-opacity="1.00"/><stop offset="0.500" stop-color="#b3ff00" stop-opacity="1.00"/><stop offset="0.571" stop-color="#9fff00" stop-opacity="0.86"/><stop offset="0.643" stop-color="#8bff00" stop-opacity="0.71"/><stop offset="0.714" stop-color="#77ff00" stop-opacity="0.57"/><stop offset="0.786" stop-color="#63ff00" stop-opacity="0.43"/><stop offset="0.857" stop-color="#51fe06" stop-opacity="0.29"/><stop offset="0.929" stop-color="#42fb10" stop-opacity="0.14"/><stop offset="1.000" stop-color="#32f81b" stop-opacity="0.00"/></radialGradient><radialGradient id="g40"><stop offset="0.000" stop-color="#ff5500" stop-opacity="1.00"/><stop offset="0.070" stop-color="#ff5e00" stop-opacity="1.00"/><stop offset="0.140" stop-color="#ff6600" stop-opacity="1.00"/><stop offset="0.210" stop-color="#ff6f00" stop-opacity="1.00"/><stop offset="0.280" stop-color="#ff7700" stop-opacity="1.00"/><stop offset="0.350" stop-color="#ff8000" stop-opacity="1.00"/><stop offset="0.417" stop-color="#ff9700" stop-opacity="1.00"/><stop offset="0.483" stop-color="#ffae00" stop-opacity="1.00"/><stop offset="0.550" stop-color="#ffc500" stop-opacity="1.00"/><stop offset="0.635" stop-color="#ffee00" stop-opacity="1.00"/><stop offset="0.720" stop-color="#e6ff00" stop-opacity="1.00"/><stop offset="0.790" stop-color="#b9ff00" stop-opacity="1.00"/><stop offset="0.860" stop-color="#8dff00" stop-opacity="1.00"/><stop offset="0.930" stop-color="#60ff00" stop-opacity="0.50"/><stop offset="1.000" stop-color="#3cfa14" stop-opacity="0.00"/></radialGradient><radialGradient id="g41"><stop offset="0.000" stop-color="#ff6400" stop-opacity="1.00"/><stop offset="0.075" stop-color="#ff6b00" stop-opacity="0.99"/><stop offset="0.150" stop-color="#ff7200" stop-opacity="0.97"/><stop offset="0.225" stop-color="#ff7900" stop-opacity="0.96"/><stop offset="0.300" stop-color="#ff8000" stop-opacity="0.95"/><stop offset="0.375" stop-color="#ff8e00" stop-opacity="0.86"/><stop offset="0.450" stop-color="#ff9d00" stop-opacity="0.77"/><stop offset="0.525" stop-color="#ffab00" stop-opacity="0.69"/><stop offset="0.600" stop-color="#ffba00" stop-opacity="0.60"/><stop offset="0.667" stop-color="#ffc900" stop-opacity="0.50"/><stop offset="0.733" stop-color="#ffd900" stop-opacity="0.40"/><stop offset="0.800" stop-color="#ffe800" stop-opacity="0.30"/><stop offset="0.867" stop-color="#fff700" stop-opacity="0.20"/><stop offset="0.933" stop-color="#f7ff00" stop-opacity="0.10"/><stop offset="1.000" stop-color="#e6ff00" stop-opacity="0.00"/></radialGradient><radialGradient id="g42"><stop offset="0.000" stop-color="#ff0000" stop-opacity="1.00"/><stop offset="0.071" stop-color="#ff0600" stop-opacity="1.00"/><stop offset="0.143" stop-color="#ff0c00" stop-opacity="1.00"/><stop offset="0.214" stop-color="#ff1200" stop-opacity="1.00"/><stop offset="0.286" stop-color="#ff1800" stop-opacity="1.00"/><stop offset="0.357" stop-color="#ff1e00" stop-opacity="1.00"/><stop offset="0.429" stop-color="#ff2500" stop-opacity="1.00"/><stop offset="0.500" stop-color="#ff2b00" stop-opacity="1.00"/><stop offset="0.571" stop-color="#ff3300" stop-opacity="0.86"/><stop offset="0.643" stop-color="#ff3b00" stop-opacity="0.71"/><stop offset="0.714" stop-color="#ff4300" stop-opacity="0.57"/><stop offset="0.786" stop-color="#ff4b00" stop-opacity="0.43"/><stop offset="0.857" stop-color="#ff5300" stop-opacity="0.29"/><stop offset="0.929" stop-color="#ff5b00" stop-opacity="0.14"/><stop offset="1.000" stop-color="#ff6400" stop-opacity="0.00"/></radialGradient><radialGradient id="g43"><stop offset="0.000" stop-color="#ccff00" stop-opacity="1.00"/><stop offset="0.071" stop-color="#c5ff00" stop-opacity="1.00"/><stop offset="0.143" stop-color="#beff00" stop-opacity="1.00"/><stop offset="0.214" stop-color="#b6ff00" stop-opacity="1.00"/><stop offset="0.286" stop-color="#afff00" stop-opacity="1.00"/><stop offset="0.357" stop-color="#a8ff00" stop-opacity="1.00"/><stop offset="0.429" stop-color="#a1ff00" stop-opacity="1.00"/><stop offset="0.500" stop-color="#99ff00" stop-opacity="1.00"/><stop offset="0.571" stop-color="#89ff00" stop-opacity="0.86"/><stop offset="0.643" stop-color="#79ff00" stop-opacity="0.71"/><stop offset="0.714" stop-color="#69ff00" stop-opacity="0.57"/><stop offset="0.786" stop-color="#59ff01" stop-opacity="0.43"/><stop offset="0.857" stop-color="#4cfd0a" stop-opacity="0.29"/><stop offset="0.929" stop-color="#3ffa12" stop-opacity="0.14"/><stop offset="1.000" stop-color="#32f81b" stop-opacity="0.00"/></radialGradient><radialGradient id="g44"><stop offset="0.000" stop-color="#600cff" stop-opacity="1.00"/><stop offset="0.070" stop-color="#5412ff" stop-opacity="1.00"/><stop offset="0.140" stop-color="#4818ff" stop-opacity="1.00"/><stop offset="0.210" stop-color="#3c1eff" stop-opacity="1.00"/><stop offset="0.280" stop-color="#3024ff" stop-opacity="1.00"/><stop offset="0.350" stop-color="#242aff" stop-opacity="1.00"/><stop offset="0.412" stop-color="#0c36ff" stop-opacity="1.00"/><stop offset="0.475" stop-color="#004cfe" stop-opacity="1.00"/><stop offset="0.537" stop-color="#006dfa" stop-opacity="1.00"/><stop offset="0.600" stop-color="#008ef8" stop-opacity="1.00"/><stop offset="0.667" stop-color="#00baf4" stop-opacity="1.00"/><stop offset="0.733" stop-color="#00e2e8" stop-opacity="1.00"/><stop offset="0.800" stop-color="#00e7ac" stop-opacity="1.00"/><stop offset="0.867" stop-color="#00eb78" stop-opacity="0.67"/><stop offset="0.933" stop-color="#00ef44" stop-opacity="0.33"/><stop offset="1.000" stop-color="#14f32f" stop-opacity="0.00"/></radialGradient><clipPath id="c13"><polygon points="28.4,11.9 35.7,11.5 42.3,12.2 48.8,18.8 50.2,28.6 46.4,38.4 41.5,42.0 35.7,44.7 30.0,43.3 25.9,40.9 19.0,32.7 18.5,22.9 23.4,15.5"/></clipPath><radialGradient id="g45"><stop offset="0.000" stop-color="#00d0f2" stop-opacity="1.00"/><stop offset="0.071" stop-color="#00d8f1" stop-opacity="1.00"/><stop offset="0.143" stop-color="#00dff0" stop-opacity="1.00"/><stop offset="0.214" stop-color="#00e2ea" stop-opacity="1.00"/><stop offset="0.286" stop-color="#00e2e0" stop-opacity="1.00"/><stop offset="0.357" stop-color="#00e3d6" stop-opacity="1.00"/><stop offset="0.429" stop-color="#00e4cd" stop-opacity="1.00"/><stop offset="0.500" stop-color="#00e5c3" stop-opacity="1.00"/><stop offset="0.571" stop-color="#00e6b0" stop-opacity="0.86"/><stop offset="0.643" stop-color="#00e89c" stop-opacity="0.71"/><stop offset="0.714" stop-color="#00ea89" stop-opacity="0.57"/><stop offset="0.786" stop-color="#00eb76" stop-opacity="0.43"/><stop offset="0.857" stop-color="#00ed63" stop-opacity="0.29"/><stop offset="0.929" stop-color="#00ee4f" stop-opacity="0.14"/><stop offset="1.000" stop-color="#00f03c" stop-opacity="0.00"/></radialGradient><radialGradient id="g46"><stop offset="0.000" stop-color="#e6ff00" stop-opacity="1.00"/><stop offset="0.071" stop-color="#ddff00" stop-opacity="1.00"/><stop offset="0.143" stop-color="#d3ff00" stop-opacity="1.00"/><stop offset="0.214" stop-color="#caff00" stop-opacity="1.00"/><stop offset="0.286" stop-color="#c1ff00" stop-opacity="1.00"/><stop offset="0.357" stop-color="#b8ff00" stop-opacity="1.00"/><stop offset="0.429" stop-color="#afff00" stop-opacity="1.00"/><stop offset="0.500" stop-color="#a6ff00" stop-opacity="1.00"/><stop offset="0.571" stop-color="#8fff00" stop-opacity="0.86"/><stop offset="0.643" stop-color="#77ff00" stop-opacity="0.71"/><stop offset="0.714" stop-color="#5fff00" stop-opacity="0.57"/><stop offset="0.786" stop-color="#4cfd0a" stop-opacity="0.43"/><stop offset="0.857" stop-color="#39fa16" stop-opacity="0.29"/><stop offset="0.929" stop-color="#27f622" stop-opacity="0.14"/><stop offset="1.000" stop-color="#14f32f" stop-opacity="0.00"/></radialGradient><radialGradient id="g47"><stop offset="0.000" stop-color="#e6ff00" stop-opacity="1.00"/><stop offset="0.071" stop-color="#dbff00" stop-opacity="1.00"/><stop offset="0.143" stop-color="#d0ff00" stop-opacity="1.00"/><stop offset="0.214" stop-color="#c5ff00" stop-opacity="1.00"/><stop offset="0.286" stop-color="#baff00" stop-opacity="1.00"/><stop offset="0.357" stop-color="#afff00" stop-opacity="1.00"/><stop offset="0.429" stop-color="#a4ff00" stop-opacity="1.00"/><stop offset="0.500" stop-color="#99ff00" stop-opacity="1.00"/><stop offset="0.571" stop-color="#84ff00" stop-opacity="0.86"/><stop offset="0.643" stop-color="#6eff00" stop-opacity="0.71"/><stop offset="0.714" stop-color="#59ff01" stop-opacity="0.57"/><stop offset="0.786" stop-color="#47fc0c" stop-opacity="0.43"/><stop offset="0.857" stop-color="#36f918" stop-opacity="0.29"/><stop offset="0.929" stop-color="#25f623" stop-opacity="0.14"/><stop offset="1.000" stop-color="#14f32f" stop-opacity="0.00"/></radialGradient><radialGradient id="g48"><stop offset="0.000" stop-color="#4818ff" stop-opacity="1.00"/><stop offset="0.067" stop-color="#3c1eff" stop-opacity="1.00"/><stop offset="0.133" stop-color="#3024ff" stop-opacity="1.00"/><stop offset="0.200" stop-color="#242aff" stop-opacity="1.00"/><stop offset="0.267" stop-color="#1830ff" stop-opacity="1.00"/><stop offset="0.333" stop-color="#0c36ff" stop-opacity="1.00"/><stop offset="0.400" stop-color="#003cff" stop-opacity="1.00"/><stop offset="0.475" stop-color="#0061fc" stop-opacity="1.00"/><stop offset="0.550" stop-color="#0086f8" stop-opacity="1.00"/><stop offset="0.625" stop-color="#00abf5" stop-opacity="1.00"/><stop offset="0.700" stop-color="#00d0f2" stop-opacity="1.00"/><stop offset="0.775" stop-color="#00e2df" stop-opacity="0.75"/><stop offset="0.850" stop-color="#00e6b8" stop-opacity="0.50"/><stop offset="0.925" stop-color="#00e990" stop-opacity="0.25"/><stop offset="1.000" stop-color="#00ec69" stop-opacity="0.00"/></radialGradient><radialGradient id="g49"><stop offset="0.000" stop-color="#ff0000" stop-opacity="1.00"/><stop offset="0.075" stop-color="#ff1200" stop-opacity="1.00"/><stop offset="0.150" stop-color="#ff2400" stop-opacity="1.00"/><stop offset="0.225" stop-color="#ff3500" stop-opacity="1.00"/><stop offset="0.300" stop-color="#ff4700" stop-opacity="1.00"/><stop offset="0.362" stop-color="#ff6700" stop-opacity="1.00"/><stop offset="0.425" stop-color="#ff8600" stop-opacity="1.00"/><stop offset="0.488" stop-color="#ffa000" stop-opacity="1.00"/><stop offset="0.550" stop-color="#ffba00" stop-opacity="1.00"/><stop offset="0.617" stop-color="#ffe000" stop-opacity="1.00"/><stop offset="0.683" stop-color="#f7ff00" stop-opacity="1.00"/><stop offset="0.750" stop-color="#ccff00" stop-opacity="1.00"/><stop offset="0.825" stop-color="#99ff00" stop-opacity="1.00"/><stop offset="0.900" stop-color="#67ff00" stop-opacity="1.00"/><stop offset="1.000" stop-color="#28f721" stop-opacity="0.00"/></radialGradient><radialGradient id="g50"><stop offset="0.000" stop-color="#f000f1" stop-opacity="1.00"/><stop offset="0.062" stop-color="#fb00fc" stop-opacity="1.00"/><stop offset="0.125" stop-color="#f800ff" stop-opacity="1.00"/><stop offset="0.188" stop-color="#ec00ff" stop-opacity="1.00"/><stop offset="0.250" stop-color="#e100ff" stop-opacity="1.00"/><stop offset="0.335" stop-color="#9e00ff" stop-opacity="1.00"/><stop offset="0.420" stop-color="#600cff" stop-opacity="1.00"/><stop offset="0.480" stop-color="#441aff" stop-opacity="1.00"/><stop offset="0.540" stop-color="#2828ff" stop-opacity="1.00"/><stop offset="0.600" stop-color="#0c36ff" stop-opacity="1.00"/><stop offset="0.660" stop-color="#0057fc" stop-opacity="1.00"/><stop offset="0.720" stop-color="#0084f8" stop-opacity="1.00"/><stop offset="0.780" stop-color="#00aff4" stop-opacity="1.00"/><stop offset="0.853" stop-color="#00e1f0" stop-opacity="0.67"/><stop offset="0.927" stop-color="#00e7ad" stop-opacity="0.33"/><stop offset="1.000" stop-color="#00ec69" stop-opacity="0.00"/></radialGradient><clipPath id="c14"><polygon points="26.2,11.7 32.9,10.3 39.6,11.7 43.6,14.4 47.7,14.4 50.4,19.2 50.4,23.2 52.2,27.3 50.4,32.6 47.1,35.3 46.3,40.2 41.0,43.4 36.9,46.6 31.5,47.4 27.5,44.7 23.5,41.2 19.4,40.2 16.8,35.3 16.0,31.3 14.9,25.9 16.8,21.3 19.4,16.5 22.1,13.3"/></clipPath><radialGradient id="g51"><stop offset="0.000" stop-color="#1ef528" stop-opacity="1.00"/><stop offset="0.071" stop-color="#1af42b" stop-opacity="1.00"/><stop offset="0.143" stop-color="#15f42e" stop-opacity="1.00"/><stop offset="0.214" stop-color="#11f331" stop-opacity="1.00"/><stop offset="0.286" stop-color="#0df233" stop-opacity="1.00"/><stop offset="0.357" stop-color="#09f136" stop-opacity="1.00"/><stop offset="0.429" stop-color="#04f139" stop-opacity="1.00"/><stop offset="0.500" stop-color="#00f03c" stop-opacity="1.00"/><stop offset="0.571" stop-color="#00ee53" stop-opacity="0.86"/><stop offset="0.643" stop-color="#00ec69" stop-opacity="0.71"/><stop offset="0.714" stop-color="#00ea80" stop-opacity="0.57"/><stop offset="0.786" stop-color="#00e896" stop-opacity="0.43"/><stop offset="0.857" stop-color="#00e7ac" stop-opacity="0.29"/><stop offset="0.929" stop-color="#00e5c3" stop-opacity="0.14"/><stop offset="1.000" stop-color="#00e3d9" stop-opacity="0.00"/></radialGradient><radialGradient id="g52"><stop offset="0.000" stop-color="#32f81b" stop-opacity="1.00"/><stop offset="0.071" stop-color="#2cf71e" stop-opacity="1.00"/><stop offset="0.143" stop-color="#27f622" stop-opacity="1.00"/><stop offset="0.214" stop-color="#21f526" stop-opacity="1.00"/><stop offset="0.286" stop-color="#1bf52a" stop-opacity="1.00"/><stop offset="0.357" stop-color="#15f42e" stop-opacity="1.00"/><stop offset="0.429" stop-color="#10f332" stop-opacity="1.00"/><stop offset="0.500" stop-color="#0af235" stop-opacity="1.00"/><stop offset="0.571" stop-color="#00f03f" stop-opacity="0.86"/><stop offset="0.643" stop-color="#00ee59" stop-opacity="0.71"/><stop offset="0.714" stop-color="#00eb73" stop-opacity="0.57"/><stop offset="0.786" stop-color="#00e98c" stop-opacity="0.43"/><stop offset="0.857" stop-color="#00e7a6" stop-opacity="0.29"/><stop offset="0.929" stop-color="#00e5c0" stop-opacity="0.14"/><stop offset="1.000" stop-color="#00e3d9" stop-opacity="0.00"/></radialGradient><radialGradient id="g53"><stop offset="0.000" stop-color="#007ef9" stop-opacity="1.00"/><stop offset="0.071" stop-color="#0085f8" stop-opacity="1.00"/><stop offset="0.143" stop-color="#008cf8" stop-opacity="1.00"/><stop offset="0.214" stop-color="#0093f7" stop-opacity="1.00"/><stop offset="0.286" stop-color="#009af6" stop-opacity="1.00"/><stop offset="0.357" stop-color="#00a1f6" stop-opacity="1.00"/><stop offset="0.429" stop-color="#00a8f5" stop-opacity="1.00"/><stop offset="0.500" stop-color="#00aff4" stop-opacity="1.00"/><stop offset="0.571" stop-color="#00b7f4" stop-opacity="0.86"/><stop offset="0.643" stop-color="#00bef3" stop-opacity="0.71"/><stop offset="0.714" stop-color="#00c5f3" stop-opacity="0.57"/><stop offset="0.786" stop-color="#00ccf2" stop-opacity="0.43"/><stop offset="0.857" stop-color="#00d3f1" stop-opacity="0.29"/><stop offset="0.929" stop-color="#00daf1" stop-opacity="0.14"/><stop offset="1.000" stop-color="#00e1f0" stop-opacity="0.00"/></radialGradient><radialGradient id="g54"><stop offset="0.000" stop-color="#3024ff" stop-opacity="1.00"/><stop offset="0.075" stop-color="#2828ff" stop-opacity="1.00"/><stop offset="0.150" stop-color="#202cff" stop-opacity="1.00"/><stop offset="0.225" stop-color="#1830ff" stop-opacity="1.00"/><stop offset="0.300" stop-color="#1034ff" stop-opacity="1.00"/><stop offset="0.375" stop-color="#0838ff" stop-opacity="1.00"/><stop offset="0.450" stop-color="#003cff" stop-opacity="1.00"/><stop offset="0.525" stop-color="#0055fd" stop-opacity="1.00"/><stop offset="0.600" stop-color="#006dfa" stop-opacity="1.00"/><stop offset="0.675" stop-color="#0086f8" stop-opacity="1.00"/><stop offset="0.750" stop-color="#009ff6" stop-opacity="1.00"/><stop offset="0.812" stop-color="#00aff4" stop-opacity="0.75"/><stop offset="0.875" stop-color="#00c0f3" stop-opacity="0.50"/><stop offset="0.938" stop-color="#00d0f2" stop-opacity="0.25"/><stop offset="1.000" stop-color="#00e1f0" stop-opacity="0.00"/></radialGradient><radialGradient id="g55"><stop offset="0.000" stop-color="#003cff" stop-opacity="1.00"/><stop offset="0.075" stop-color="#0044fe" stop-opacity="1.00"/><stop offset="0.150" stop-color="#004dfe" stop-opacity="1.00"/><stop offset="0.225" stop-color="#0055fd" stop-opacity="1.00"/><stop offset="0.300" stop-color="#005dfc" stop-opacity="1.00"/><stop offset="0.375" stop-color="#0065fb" stop-opacity="1.00"/><stop offset="0.450" stop-color="#006efa" stop-opacity="1.00"/><stop offset="0.525" stop-color="#007ef9" stop-opacity="1.00"/><stop offset="0.600" stop-color="#008ef8" stop-opacity="1.00"/><stop offset="0.675" stop-color="#009ff6" stop-opacity="1.00"/><stop offset="0.750" stop-color="#00aff4" stop-opacity="1.00"/><stop offset="0.812" stop-color="#00bcf3" stop-opacity="0.75"/><stop offset="0.875" stop-color="#00c8f2" stop-opacity="0.50"/><stop offset="0.938" stop-color="#00d5f1" stop-opacity="0.25"/><stop offset="1.000" stop-color="#00e1f0" stop-opacity="0.00"/></radialGradient><radialGradient id="g56"><stop offset="0.000" stop-color="#600cff" stop-opacity="1.00"/><stop offset="0.067" stop-color="#5611ff" stop-opacity="1.00"/><stop offset="0.133" stop-color="#4c16ff" stop-opacity="1.00"/><stop offset="0.200" stop-color="#421bff" stop-opacity="1.00"/><stop offset="0.267" stop-color="#3820ff" stop-opacity="1.00"/><stop offset="0.333" stop-color="#2e25ff" stop-opacity="1.00"/><stop offset="0.400" stop-color="#242aff" stop-opacity="1.00"/><stop offset="0.475" stop-color="#0f34ff" stop-opacity="1.00"/><stop offset="0.550" stop-color="#0044fe" stop-opacity="1.00"/><stop offset="0.625" stop-color="#0061fc" stop-opacity="1.00"/><stop offset="0.700" stop-color="#007ef9" stop-opacity="1.00"/><stop offset="0.775" stop-color="#0097f7" stop-opacity="0.75"/><stop offset="0.850" stop-color="#00aff4" stop-opacity="0.50"/><stop offset="0.925" stop-color="#00c8f2" stop-opacity="0.25"/><stop offset="1.000" stop-color="#00e1f0" stop-opacity="0.00"/></radialGradient><radialGradient id="g57"><stop offset="0.000" stop-color="#d400d7" stop-opacity="1.00"/><stop offset="0.067" stop-color="#e200e4" stop-opacity="1.00"/><stop offset="0.133" stop-color="#f100f2" stop-opacity="1.00"/><stop offset="0.200" stop-color="#ff00ff" stop-opacity="1.00"/><stop offset="0.267" stop-color="#f000ff" stop-opacity="1.00"/><stop offset="0.333" stop-color="#e100ff" stop-opacity="1.00"/><stop offset="0.400" stop-color="#d200ff" stop-opacity="1.00"/><stop offset="0.470" stop-color="#bd00ff" stop-opacity="1.00"/><stop offset="0.540" stop-color="#a800ff" stop-opacity="1.00"/><stop offset="0.610" stop-color="#9300ff" stop-opacity="1.00"/><stop offset="0.680" stop-color="#7e00ff" stop-opacity="1.00"/><stop offset="0.750" stop-color="#6c06ff" stop-opacity="1.00"/><stop offset="0.812" stop-color="#5d0dff" stop-opacity="0.75"/><stop offset="0.875" stop-color="#4e15ff" stop-opacity="0.50"/><stop offset="0.938" stop-color="#3f1cff" stop-opacity="0.25"/><stop offset="1.000" stop-color="#3024ff" stop-opacity="0.00"/></radialGradient><radialGradient id="g58"><stop offset="0.000" stop-color="#ff6400" stop-opacity="1.00"/><stop offset="0.075" stop-color="#ff7500" stop-opacity="1.00"/><stop offset="0.150" stop-color="#ff8600" stop-opacity="1.00"/><stop offset="0.225" stop-color="#ff9400" stop-opacity="1.00"/><stop offset="0.300" stop-color="#ffa300" stop-opacity="1.00"/><stop offset="0.362" stop-color="#ffc000" stop-opacity="1.00"/><stop offset="0.425" stop-color="#ffdc00" stop-opacity="1.00"/><stop offset="0.488" stop-color="#fff900" stop-opacity="1.00"/><stop offset="0.550" stop-color="#e6ff00" stop-opacity="1.00"/><stop offset="0.627" stop-color="#b3ff00" stop-opacity="1.00"/><stop offset="0.703" stop-color="#80ff00" stop-opacity="1.00"/><stop offset="0.780" stop-color="#50fd07" stop-opacity="1.00"/><stop offset="0.853" stop-color="#2bf71f" stop-opacity="0.67"/><stop offset="0.927" stop-color="#07f138" stop-opacity="0.33"/><stop offset="1.000" stop-color="#00ea80" stop-opacity="0.00"/></radialGradient><radialGradient id="g59"><stop offset="0.000" stop-color="#ff4e00" stop-opacity="0.90"/><stop offset="0.071" stop-color="#ff4c00" stop-opacity="0.86"/><stop offset="0.143" stop-color="#ff4a00" stop-opacity="0.82"/><stop offset="0.214" stop-color="#ff4800" stop-opacity="0.78"/><stop offset="0.286" stop-color="#ff4500" stop-opacity="0.75"/><stop offset="0.357" stop-color="#ff4300" stop-opacity="0.71"/><stop offset="0.429" stop-color="#ff4100" stop-opacity="0.67"/><stop offset="0.500" stop-color="#ff3f00" stop-opacity="0.63"/><stop offset="0.571" stop-color="#ff3c00" stop-opacity="0.54"/><stop offset="0.643" stop-color="#ff3900" stop-opacity="0.45"/><stop offset="0.714" stop-color="#ff3600" stop-opacity="0.36"/><stop offset="0.786" stop-color="#ff3300" stop-opacity="0.27"/><stop offset="0.857" stop-color="#ff3000" stop-opacity="0.18"/><stop offset="0.929" stop-color="#ff2e00" stop-opacity="0.09"/><stop offset="1.000" stop-color="#ff2b00" stop-opacity="0.00"/></radialGradient><radialGradient id="g60"><stop offset="0.000" stop-color="#ff6b00" stop-opacity="0.80"/><stop offset="0.071" stop-color="#ff6800" stop-opacity="0.77"/><stop offset="0.143" stop-color="#ff6500" stop-opacity="0.73"/><stop offset="0.214" stop-color="#ff6200" stop-opacity="0.70"/><stop offset="0.286" stop-color="#ff5e00" stop-opacity="0.66"/><stop offset="0.357" stop-color="#ff5b00" stop-opacity="0.63"/><stop offset="0.429" stop-color="#ff5800" stop-opacity="0.59"/><stop offset="0.500" stop-color="#ff5500" stop-opacity="0.56"/><stop offset="0.571" stop-color="#ff4f00" stop-opacity="0.48"/><stop offset="0.643" stop-color="#ff4900" stop-opacity="0.40"/><stop offset="0.714" stop-color="#ff4300" stop-opacity="0.32"/><stop offset="0.786" stop-color="#ff3d00" stop-opacity="0.24"/><stop offset="0.857" stop-color="#ff3700" stop-opacity="0.16"/><stop offset="0.929" stop-color="#ff3100" stop-opacity="0.08"/><stop offset="1.000" stop-color="#ff2b00" stop-opacity="0.00"/></radialGradient><radialGradient id="g61"><stop offset="0.000" stop-color="#ff6400" stop-opacity="0.70"/><stop offset="0.071" stop-color="#ff6100" stop-opacity="0.67"/><stop offset="0.143" stop-color="#ff5e00" stop-opacity="0.64"/><stop offset="0.214" stop-color="#ff5b00" stop-opacity="0.61"/><stop offset="0.286" stop-color="#ff5800" stop-opacity="0.58"/><stop offset="0.357" stop-color="#ff5500" stop-opacity="0.55"/><stop offset="0.429" stop-color="#ff5200" stop-opacity="0.52"/><stop offset="0.500" stop-color="#ff5000" stop-opacity="0.49"/><stop offset="0.571" stop-color="#ff4a00" stop-opacity="0.42"/><stop offset="0.643" stop-color="#ff4500" stop-opacity="0.35"/><stop offset="0.714" stop-color="#ff4000" stop-opacity="0.28"/><stop offset="0.786" stop-color="#ff3b00" stop-opacity="0.21"/><stop offset="0.857" stop-color="#ff3500" stop-opacity="0.14"/><stop offset="0.929" stop-color="#ff3000" stop-opacity="0.07"/><stop offset="1.000" stop-color="#ff2b00" stop-opacity="0.00"/></radialGradient><radialGradient id="g62"><stop offset="0.000" stop-color="#ff6400" stop-opacity="0.70"/><stop offset="0.071" stop-color="#ff6100" stop-opacity="0.67"/><stop offset="0.143" stop-color="#ff5e00" stop-opacity="0.64"/><stop offset="0.214" stop-color="#ff5b00" stop-opacity="0.61"/><stop offset="0.286" stop-color="#ff5800" stop-opacity="0.58"/><stop offset="0.357" stop-color="#ff5500" stop-opacity="0.55"/><stop offset="0.429" stop-color="#ff5200" stop-opacity="0.52"/><stop offset="0.500" stop-color="#ff5000" stop-opacity="0.49"/><stop offset="0.571" stop-color="#ff4a00" stop-opacity="0.42"/><stop offset="0.643" stop-color="#ff4500" stop-opacity="0.35"/><stop offset="0.714" stop-color="#ff4000" stop-opacity="0.28"/><stop offset="0.786" stop-color="#ff3b00" stop-opacity="0.21"/><stop offset="0.857" stop-color="#ff3500" stop-opacity="0.14"/><stop offset="0.929" stop-color="#ff3000" stop-opacity="0.07"/><stop offset="1.000" stop-color="#ff2b00" stop-opacity="0.00"/></radialGradient><radialGradient id="g63"><stop offset="0.000" stop-color="#ff6400" stop-opacity="0.70"/><stop offset="0.071" stop-color="#ff6100" stop-opacity="0.67"/><stop offset="0.143" stop-color="#ff5e00" stop-opacity="0.64"/><stop offset="0.214" stop-color="#ff5b00" stop-opacity="0.61"/><stop offset="0.286" stop-color="#ff5800" stop-opacity="0.58"/><stop offset="0.357" stop-color="#ff5500" stop-opacity="0.55"/><stop offset="0.429" stop-color="#ff5200" stop-opacity="0.52"/><stop offset="0.500" stop-color="#ff5000" stop-opacity="0.49"/><stop offset="0.571" stop-color="#ff4a00" stop-opacity="0.42"/><stop offset="0.643" stop-color="#ff4500" stop-opacity="0.35"/><stop offset="0.714" stop-color="#ff4000" stop-opacity="0.28"/><stop offset="0.786" stop-color="#ff3b00" stop-opacity="0.21"/><stop offset="0.857" stop-color="#ff3500" stop-opacity="0.14"/><stop offset="0.929" stop-color="#ff3000" stop-opacity="0.07"/><stop offset="1.000" stop-color="#ff2b00" stop-opacity="0.00"/></radialGradient><radialGradient id="g64"><stop offset="0.000" stop-color="#ff6400" stop-opacity="0.70"/><stop offset="0.071" stop-color="#ff6100" stop-opacity="0.67"/><stop offset="0.143" stop-color="#ff5e00" stop-opacity="0.64"/><stop offset="0.214" stop-color="#ff5b00" stop-opacity="0.61"/><stop offset="0.286" stop-color="#ff5800" stop-opacity="0.58"/><stop offset="0.357" stop-color="#ff5500" stop-opacity="0.55"/><stop offset="0.429" stop-color="#ff5200" stop-opacity="0.52"/><stop offset="0.500" stop-color="#ff5000" stop-opacity="0.49"/><stop offset="0.571" stop-color="#ff4a00" stop-opacity="0.42"/><stop offset="0.643" stop-color="#ff4500" stop-opacity="0.35"/><stop offset="0.714" stop-color="#ff4000" stop-opacity="0.28"/><stop offset="0.786" stop-color="#ff3b00" stop-opacity="0.21"/><stop offset="0.857" stop-color="#ff3500" stop-opacity="0.14"/><stop offset="0.929" stop-color="#ff3000" stop-opacity="0.07"/><stop offset="1.000" stop-color="#ff2b00" stop-opacity="0.00"/></radialGradient><radialGradient id="g65"><stop offset="0.000" stop-color="#ff6b00" stop-opacity="0.70"/><stop offset="0.071" stop-color="#ff6800" stop-opacity="0.67"/><stop offset="0.143" stop-color="#ff6500" stop-opacity="0.64"/><stop offset="0.214" stop-color="#ff6200" stop-opacity="0.61"/><stop offset="0.286" stop-color="#ff5e00" stop-opacity="0.58"/><stop offset="0.357" stop-color="#ff5b00" stop-opacity="0.55"/><stop offset="0.429" stop-color="#ff5800" stop-opacity="0.52"/><stop offset="0.500" stop-color="#ff5500" stop-opacity="0.49"/><stop offset="0.571" stop-color="#ff4f00" stop-opacity="0.42"/><stop offset="0.643" stop-color="#ff4900" stop-opacity="0.35"/><stop offset="0.714" stop-color="#ff4300" stop-opacity="0.28"/><stop offset="0.786" stop-color="#ff3d00" stop-opacity="0.21"/><stop offset="0.857" stop-color="#ff3700" stop-opacity="0.14"/><stop offset="0.929" stop-color="#ff3100" stop-opacity="0.07"/><stop offset="1.000" stop-color="#ff2b00" stop-opacity="0.00"/></radialGradient><radialGradient id="g66"><stop offset="0.000" stop-color="#ff6b00" stop-opacity="0.70"/><stop offset="0.071" stop-color="#ff6800" stop-opacity="0.67"/><stop offset="0.143" stop-color="#ff6500" stop-opacity="0.64"/><stop offset="0.214" stop-color="#ff6200" stop-opacity="0.61"/><stop offset="0.286" stop-color="#ff5e00" stop-opacity="0.58"/><stop offset="0.357" stop-color="#ff5b00" stop-opacity="0.55"/><stop offset="0.429" stop-color="#ff5800" stop-opacity="0.52"/><stop offset="0.500" stop-color="#ff5500" stop-opacity="0.49"/><stop offset="0.571" stop-color="#ff4f00" stop-opacity="0.42"/><stop offset="0.643" stop-color="#ff4900" stop-opacity="0.35"/><stop offset="0.714" stop-color="#ff4300" stop-opacity="0.28"/><stop offset="0.786" stop-color="#ff3d00" stop-opacity="0.21"/><stop offset="0.857" stop-color="#ff3700" stop-opacity="0.14"/><stop offset="0.929" stop-color="#ff3100" stop-opacity="0.07"/><stop offset="1.000" stop-color="#ff2b00" stop-opacity="0.00"/></radialGradient><radialGradient id="g67"><stop offset="0.000" stop-color="#ff6b00" stop-opacity="0.70"/><stop offset="0.071" stop-color="#ff6800" stop-opacity="0.67"/><stop offset="0.143" stop-color="#ff6500" stop-opacity="0.64"/><stop offset="0.214" stop-color="#ff6200" stop-opacity="0.61"/><stop offset="0.286" stop-color="#ff5e00" stop-opacity="0.58"/><stop offset="0.357" stop-color="#ff5b00" stop-opacity="0.55"/><stop offset="0.429" stop-color="#ff5800" stop-opacity="0.52"/><stop offset="0.500" stop-color="#ff5500" stop-opacity="0.49"/><stop offset="0.571" stop-color="#ff4f00" stop-opacity="0.42"/><stop offset="0.643" stop-color="#ff4900" stop-opacity="0.35"/><stop offset="0.714" stop-color="#ff4300" stop-opacity="0.28"/><stop offset="0.786" stop-color="#ff3d00" stop-opacity="0.21"/><stop offset="0.857" stop-color="#ff3700" stop-opacity="0.14"/><stop offset="0.929" stop-color="#ff3100" stop-opacity="0.07"/><stop offset="1.000" stop-color="#ff2b00" stop-opacity="0.00"/></radialGradient><radialGradient id="g68"><stop offset="0.000" stop-color="#ff6b00" stop-opacity="0.70"/><stop offset="0.071" stop-color="#ff6800" stop-opacity="0.67"/><stop offset="0.143" stop-color="#ff6500" stop-opacity="0.64"/><stop offset="0.214" stop-color="#ff6200" stop-opacity="0.61"/><stop offset="0.286" stop-color="#ff5e00" stop-opacity="0.58"/><stop offset="0.357" stop-color="#ff5b00" stop-opacity="0.55"/><stop offset="0.429" stop-color="#ff5800" stop-opacity="0.52"/><stop offset="0.500" stop-color="#ff5500" stop-opacity="0.49"/><stop offset="0.571" stop-color="#ff4f00" stop-opacity="0.42"/><stop offset="0.643" stop-color="#ff4900" stop-opacity="0.35"/><stop offset="0.714" stop-color="#ff4300" stop-opacity="0.28"/><stop offset="0.786" stop-color="#ff3d00" stop-opacity="0.21"/><stop offset="0.857" stop-color="#ff3700" stop-opacity="0.14"/><stop offset="0.929" stop-color="#ff3100" stop-opacity="0.07"/><stop offset="1.000" stop-color="#ff2b00" stop-opacity="0.00"/></radialGradient><radialGradient id="g69"><stop offset="0.000" stop-color="#ff9700" stop-opacity="0.65"/><stop offset="0.071" stop-color="#ff9300" stop-opacity="0.62"/><stop offset="0.143" stop-color="#ff9000" stop-opacity="0.59"/><stop offset="0.214" stop-color="#ff8c00" stop-opacity="0.57"/><stop offset="0.286" stop-color="#ff8900" stop-opacity="0.54"/><stop offset="0.357" stop-color="#ff8500" stop-opacity="0.51"/><stop offset="0.429" stop-color="#ff8100" stop-opacity="0.48"/><stop offset="0.500" stop-color="#ff7d00" stop-opacity="0.45"/><stop offset="0.571" stop-color="#ff7100" stop-opacity="0.39"/><stop offset="0.643" stop-color="#ff6600" stop-opacity="0.32"/><stop offset="0.714" stop-color="#ff5a00" stop-opacity="0.26"/><stop offset="0.786" stop-color="#ff4e00" stop-opacity="0.20"/><stop offset="0.857" stop-color="#ff4200" stop-opacity="0.13"/><stop offset="0.929" stop-color="#ff3600" stop-opacity="0.07"/><stop offset="1.000" stop-color="#ff2b00" stop-opacity="0.00"/></radialGradient><radialGradient id="g70"><stop offset="0.000" stop-color="#1ef528" stop-opacity="1.00"/><stop offset="0.075" stop-color="#25f623" stop-opacity="1.00"/><stop offset="0.150" stop-color="#2df81e" stop-opacity="1.00"/><stop offset="0.225" stop-color="#35f919" stop-opacity="1.00"/><stop offset="0.300" stop-color="#3cfa14" stop-opacity="1.00"/><stop offset="0.367" stop-color="#62ff00" stop-opacity="1.00"/><stop offset="0.433" stop-color="#91ff00" stop-opacity="1.00"/><stop offset="0.500" stop-color="#c0ff00" stop-opacity="1.00"/><stop offset="0.560" stop-color="#ddff00" stop-opacity="1.00"/><stop offset="0.620" stop-color="#fbff00" stop-opacity="1.00"/><stop offset="0.680" stop-color="#ffe800" stop-opacity="1.00"/><stop offset="0.760" stop-color="#ffc000" stop-opacity="0.90"/><stop offset="0.840" stop-color="#ff9700" stop-opacity="0.80"/><stop offset="0.920" stop-color="#ff7200" stop-opacity="0.40"/><stop offset="1.000" stop-color="#ff4700" stop-opacity="0.00"/></radialGradient><radialGradient id="g71"><stop offset="0.000" stop-color="#80ff00" stop-opacity="1.00"/><stop offset="0.075" stop-color="#8dff00" stop-opacity="1.00"/><stop offset="0.150" stop-color="#99ff00" stop-opacity="1.00"/><stop offset="0.225" stop-color="#a6ff00" stop-opacity="1.00"/><stop offset="0.300" stop-color="#b3ff00" stop-opacity="1.00"/><stop offset="0.362" stop-color="#c9ff00" stop-opacity="1.00"/><stop offset="0.425" stop-color="#dfff00" stop-opacity="1.00"/><stop offset="0.488" stop-color="#f5ff00" stop-opacity="1.00"/><stop offset="0.550" stop-color="#fff300" stop-opacity="1.00"/><stop offset="0.613" stop-color="#ffdc00" stop-opacity="0.95"/><stop offset="0.675" stop-color="#ffc500" stop-opacity="0.90"/><stop offset="0.738" stop-color="#ffae00" stop-opacity="0.85"/><stop offset="0.800" stop-color="#ff9700" stop-opacity="0.80"/><stop offset="0.867" stop-color="#ff8000" stop-opacity="0.53"/><stop offset="0.933" stop-color="#ff6400" stop-opacity="0.27"/><stop offset="1.000" stop-color="#ff4700" stop-opacity="0.00"/></radialGradient><radialGradient id="g72"><stop offset="0.000" stop-color="#ffc500" stop-opacity="1.00"/><stop offset="0.067" stop-color="#ffc100" stop-opacity="1.00"/><stop offset="0.133" stop-color="#ffbd00" stop-opacity="1.00"/><stop offset="0.200" stop-color="#ffb800" stop-opacity="1.00"/><stop offset="0.267" stop-color="#ffb400" stop-opacity="1.00"/><stop offset="0.333" stop-color="#ffb000" stop-opacity="1.00"/><stop offset="0.400" stop-color="#ffab00" stop-opacity="1.00"/><stop offset="0.475" stop-color="#ffa300" stop-opacity="0.95"/><stop offset="0.550" stop-color="#ff9b00" stop-opacity="0.90"/><stop offset="0.625" stop-color="#ff9300" stop-opacity="0.85"/><stop offset="0.700" stop-color="#ff8c00" stop-opacity="0.80"/><stop offset="0.775" stop-color="#ff7900" stop-opacity="0.60"/><stop offset="0.850" stop-color="#ff6400" stop-opacity="0.40"/><stop offset="0.925" stop-color="#ff4e00" stop-opacity="0.20"/><stop offset="1.000" stop-color="#ff3900" stop-opacity="0.00"/></radialGradient><radialGradient id="g73"><stop offset="0.000" stop-color="#73ff00" stop-opacity="1.00"/><stop offset="0.075" stop-color="#7dff00" stop-opacity="1.00"/><stop offset="0.150" stop-color="#86ff00" stop-opacity="1.00"/><stop offset="0.225" stop-color="#90ff00" stop-opacity="1.00"/><stop offset="0.300" stop-color="#99ff00" stop-opacity="1.00"/><stop offset="0.367" stop-color="#a6ff00" stop-opacity="1.00"/><stop offset="0.433" stop-color="#b3ff00" stop-opacity="1.00"/><stop offset="0.500" stop-color="#c0ff00" stop-opacity="1.00"/><stop offset="0.560" stop-color="#ddff00" stop-opacity="1.00"/><stop offset="0.620" stop-color="#fbff00" stop-opacity="1.00"/><stop offset="0.680" stop-color="#ffe800" stop-opacity="1.00"/><stop offset="0.760" stop-color="#ffc000" stop-opacity="0.90"/><stop offset="0.840" stop-color="#ff9700" stop-opacity="0.80"/><stop offset="0.920" stop-color="#ff7200" stop-opacity="0.40"/><stop offset="1.000" stop-color="#ff4700" stop-opacity="0.00"/></radialGradient><radialGradient id="g74"><stop offset="0.000" stop-color="#14f32f" stop-opacity="1.00"/><stop offset="0.075" stop-color="#1bf52a" stop-opacity="1.00"/><stop offset="0.150" stop-color="#23f625" stop-opacity="1.00"/><stop offset="0.225" stop-color="#2af720" stop-opacity="1.00"/><stop offset="0.300" stop-color="#32f81b" stop-opacity="1.00"/><stop offset="0.367" stop-color="#5aff00" stop-opacity="1.00"/><stop offset="0.433" stop-color="#8dff00" stop-opacity="1.00"/><stop offset="0.500" stop-color="#c0ff00" stop-opacity="1.00"/><stop offset="0.560" stop-color="#ddff00" stop-opacity="1.00"/><stop offset="0.620" stop-color="#fbff00" stop-opacity="1.00"/><stop offset="0.680" stop-color="#ffe800" stop-opacity="1.00"/><stop offset="0.760" stop-color="#ffc000" stop-opacity="0.90"/><stop offset="0.840" stop-color="#ff9700" stop-opacity="0.80"/><stop offset="0.920" stop-color="#ff7200" stop-opacity="0.40"/><stop offset="1.000" stop-color="#ff4700" stop-opacity="0.00"/></radialGradient><radialGradient id="g75"><stop offset="0.000" stop-color="#b400ff" stop-opacity="1.00"/><stop offset="0.073" stop-color="#9600ff" stop-opacity="1.00"/><stop offset="0.147" stop-color="#7800ff" stop-opacity="1.00"/><stop offset="0.220" stop-color="#600cff" stop-opacity="1.00"/><stop offset="0.300" stop-color="#242aff" stop-opacity="1.00"/><stop offset="0.380" stop-color="#005dfc" stop-opacity="1.00"/><stop offset="0.440" stop-color="#00aff4" stop-opacity="1.00"/><stop offset="0.500" stop-color="#00e5c3" stop-opacity="1.00"/><stop offset="0.560" stop-color="#00ee53" stop-opacity="1.00"/><stop offset="0.620" stop-color="#28f721" stop-opacity="1.00"/><stop offset="0.680" stop-color="#73ff00" stop-opacity="1.00"/><stop offset="0.740" stop-color="#ccff00" stop-opacity="1.00"/><stop offset="0.805" stop-color="#fff900" stop-opacity="0.95"/><stop offset="0.870" stop-color="#ffc500" stop-opacity="0.90"/><stop offset="0.935" stop-color="#ff9100" stop-opacity="0.45"/><stop offset="1.000" stop-color="#ff5500" stop-opacity="0.00"/></radialGradient><radialGradient id="g76"><stop offset="0.000" stop-color="#14f32f" stop-opacity="1.00"/><stop offset="0.075" stop-color="#1bf52a" stop-opacity="1.00"/><stop offset="0.150" stop-color="#23f625" stop-opacity="1.00"/><stop offset="0.225" stop-color="#2af720" stop-opacity="1.00"/><stop offset="0.300" stop-color="#32f81b" stop-opacity="1.00"/><stop offset="0.367" stop-color="#5aff00" stop-opacity="1.00"/><stop offset="0.433" stop-color="#8dff00" stop-opacity="1.00"/><stop offset="0.500" stop-color="#c0ff00" stop-opacity="1.00"/><stop offset="0.560" stop-color="#ddff00" stop-opacity="1.00"/><stop offset="0.620" stop-color="#fbff00" stop-opacity="1.00"/><stop offset="0.680" stop-color="#ffe800" stop-opacity="1.00"/><stop offset="0.760" stop-color="#ffc000" stop-opacity="0.90"/><stop offset="0.840" stop-color="#ff9700" stop-opacity="0.80"/><stop offset="0.920" stop-color="#ff7200" stop-opacity="0.40"/><stop offset="1.000" stop-color="#ff4700" stop-opacity="0.00"/></radialGradient><radialGradient id="g77"><stop offset="0.000" stop-color="#ffff00" stop-opacity="1.00"/><stop offset="0.067" stop-color="#fff900" stop-opacity="1.00"/><stop offset="0.133" stop-color="#fff300" stop-opacity="1.00"/><stop offset="0.200" stop-color="#ffee00" stop-opacity="1.00"/><stop offset="0.267" stop-color="#ffe800" stop-opacity="1.00"/><stop offset="0.333" stop-color="#ffe200" stop-opacity="1.00"/><stop offset="0.400" stop-color="#ffdc00" stop-opacity="1.00"/><stop offset="0.475" stop-color="#ffc800" stop-opacity="0.95"/><stop offset="0.550" stop-color="#ffb400" stop-opacity="0.90"/><stop offset="0.625" stop-color="#ffa000" stop-opacity="0.85"/><stop offset="0.700" stop-color="#ff8c00" stop-opacity="0.80"/><stop offset="0.775" stop-color="#ff7900" stop-opacity="0.60"/><stop offset="0.850" stop-color="#ff6400" stop-opacity="0.40"/><stop offset="0.925" stop-color="#ff4e00" stop-opacity="0.20"/><stop offset="1.000" stop-color="#ff3900" stop-opacity="0.00"/></radialGradient><radialGradient id="g78"><stop offset="0.000" stop-color="#f2ff00" stop-opacity="1.00"/><stop offset="0.067" stop-color="#f9ff00" stop-opacity="1.00"/><stop offset="0.133" stop-color="#fffe00" stop-opacity="1.00"/><stop offset="0.200" stop-color="#fff800" stop-opacity="1.00"/><stop offset="0.267" stop-color="#fff200" stop-opacity="1.00"/><stop offset="0.333" stop-color="#ffec00" stop-opacity="1.00"/><stop offset="0.400" stop-color="#ffe600" stop-opacity="1.00"/><stop offset="0.475" stop-color="#ffd000" stop-opacity="0.95"/><stop offset="0.550" stop-color="#ffb900" stop-opacity="0.90"/><stop offset="0.625" stop-color="#ffa200" stop-opacity="0.85"/><stop offset="0.700" stop-color="#ff8c00" stop-opacity="0.80"/><stop offset="0.775" stop-color="#ff7900" stop-opacity="0.60"/><stop offset="0.850" stop-color="#ff6400" stop-opacity="0.40"/><stop offset="0.925" stop-color="#ff4e00" stop-opacity="0.20"/><stop offset="1.000" stop-color="#ff3900" stop-opacity="0.00"/></radialGradient><radialGradient id="g79"><stop offset="0.000" stop-color="#ffae00" stop-opacity="1.00"/><stop offset="0.067" stop-color="#ffaa00" stop-opacity="1.00"/><stop offset="0.133" stop-color="#ffa700" stop-opacity="1.00"/><stop offset="0.200" stop-color="#ffa300" stop-opacity="1.00"/><stop offset="0.267" stop-color="#ff9f00" stop-opacity="1.00"/><stop offset="0.333" stop-color="#ff9b00" stop-opacity="1.00"/><stop offset="0.400" stop-color="#ff9800" stop-opacity="1.00"/><stop offset="0.475" stop-color="#ff9500" stop-opacity="0.95"/><stop offset="0.550" stop-color="#ff9200" stop-opacity="0.90"/><stop offset="0.625" stop-color="#ff8f00" stop-opacity="0.85"/><stop offset="0.700" stop-color="#ff8c00" stop-opacity="0.80"/><stop offset="0.775" stop-color="#ff7900" stop-opacity="0.60"/><stop offset="0.850" stop-color="#ff6400" stop-opacity="0.40"/><stop offset="0.925" stop-color="#ff4e00" stop-opacity="0.20"/><stop offset="1.000" stop-color="#ff3900" stop-opacity="0.00"/></radialGradient><radialGradient id="g80"><stop offset="0.000" stop-color="#ffd100" stop-opacity="1.00"/><stop offset="0.067" stop-color="#ffcc00" stop-opacity="1.00"/><stop offset="0.133" stop-color="#ffc800" stop-opacity="1.00"/><stop offset="0.200" stop-color="#ffc300" stop-opacity="1.00"/><stop offset="0.267" stop-color="#ffbe00" stop-opacity="1.00"/><stop offset="0.333" stop-color="#ffba00" stop-opacity="1.00"/><stop offset="0.400" stop-color="#ffb500" stop-opacity="1.00"/><stop offset="0.475" stop-color="#ffab00" stop-opacity="0.95"/><stop offset="0.550" stop-color="#ffa000" stop-opacity="0.90"/><stop offset="0.625" stop-color="#ff9600" stop-opacity="0.85"/><stop offset="0.700" stop-color="#ff8c00" stop-opacity="0.80"/><stop offset="0.775" stop-color="#ff7900" stop-opacity="0.60"/><stop offset="0.850" stop-color="#ff6400" stop-opacity="0.40"/><stop offset="0.925" stop-color="#ff4e00" stop-opacity="0.20"/><stop offset="1.000" stop-color="#ff3900" stop-opacity="0.00"/></radialGradient><radialGradient id="g81"><stop offset="0.000" stop-color="#ffae00" stop-opacity="1.00"/><stop offset="0.067" stop-color="#ffaa00" stop-opacity="1.00"/><stop offset="0.133" stop-color="#ffa700" stop-opacity="1.00"/><stop offset="0.200" stop-color="#ffa300" stop-opacity="1.00"/><stop offset="0.267" stop-color="#ff9f00" stop-opacity="1.00"/><stop offset="0.333" stop-color="#ff9b00" stop-opacity="1.00"/><stop offset="0.400" stop-color="#ff9800" stop-opacity="1.00"/><stop offset="0.475" stop-color="#ff9500" stop-opacity="0.95"/><stop offset="0.550" stop-color="#ff9200" stop-opacity="0.90"/><stop offset="0.625" stop-color="#ff8f00" stop-opacity="0.85"/><stop offset="0.700" stop-color="#ff8c00" stop-opacity="0.80"/><stop offset="0.775" stop-color="#ff7900" stop-opacity="0.60"/><stop offset="0.850" stop-color="#ff6400" stop-opacity="0.40"/><stop offset="0.925" stop-color="#ff4e00" stop-opacity="0.20"/><stop offset="1.000" stop-color="#ff3900" stop-opacity="0.00"/></radialGradient><radialGradient id="g82"><stop offset="0.000" stop-color="#ff4e00" stop-opacity="0.90"/><stop offset="0.071" stop-color="#ff4c00" stop-opacity="0.86"/><stop offset="0.143" stop-color="#ff4a00" stop-opacity="0.82"/><stop offset="0.214" stop-color="#ff4800" stop-opacity="0.78"/><stop offset="0.286" stop-color="#ff4500" stop-opacity="0.75"/><stop offset="0.357" stop-color="#ff4300" stop-opacity="0.71"/><stop offset="0.429" stop-color="#ff4100" stop-opacity="0.67"/><stop offset="0.500" stop-color="#ff3f00" stop-opacity="0.63"/><stop offset="0.571" stop-color="#ff3c00" stop-opacity="0.54"/><stop offset="0.643" stop-color="#ff3900" stop-opacity="0.45"/><stop offset="0.714" stop-color="#ff3600" stop-opacity="0.36"/><stop offset="0.786" stop-color="#ff3300" stop-opacity="0.27"/><stop offset="0.857" stop-color="#ff3000" stop-opacity="0.18"/><stop offset="0.929" stop-color="#ff2e00" stop-opacity="0.09"/><stop offset="1.000" stop-color="#ff2b00" stop-opacity="0.00"/></radialGradient><radialGradient id="g83"><stop offset="0.000" stop-color="#ff6b00" stop-opacity="0.80"/><stop offset="0.071" stop-color="#ff6800" stop-opacity="0.77"/><stop offset="0.143" stop-color="#ff6500" stop-opacity="0.73"/><stop offset="0.214" stop-color="#ff6200" stop-opacity="0.70"/><stop offset="0.286" stop-color="#ff5e00" stop-opacity="0.66"/><stop offset="0.357" stop-color="#ff5b00" stop-opacity="0.63"/><stop offset="0.429" stop-color="#ff5800" stop-opacity="0.59"/><stop offset="0.500" stop-color="#ff5500" stop-opacity="0.56"/><stop offset="0.571" stop-color="#ff4f00" stop-opacity="0.48"/><stop offset="0.643" stop-color="#ff4900" stop-opacity="0.40"/><stop offset="0.714" stop-color="#ff4300" stop-opacity="0.32"/><stop offset="0.786" stop-color="#ff3d00" stop-opacity="0.24"/><stop offset="0.857" stop-color="#ff3700" stop-opacity="0.16"/><stop offset="0.929" stop-color="#ff3100" stop-opacity="0.08"/><stop offset="1.000" stop-color="#ff2b00" stop-opacity="0.00"/></radialGradient><radialGradient id="g84"><stop offset="0.000" stop-color="#ff9700" stop-opacity="0.70"/><stop offset="0.071" stop-color="#ff9300" stop-opacity="0.67"/><stop offset="0.143" stop-color="#ff9000" stop-opacity="0.64"/><stop offset="0.214" stop-color="#ff8c00" stop-opacity="0.61"/><stop offset="0.286" stop-color="#ff8900" stop-opacity="0.58"/><stop offset="0.357" stop-color="#ff8500" stop-opacity="0.55"/><stop offset="0.429" stop-color="#ff8100" stop-opacity="0.52"/><stop offset="0.500" stop-color="#ff7d00" stop-opacity="0.49"/><stop offset="0.571" stop-color="#ff7100" stop-opacity="0.42"/><stop offset="0.643" stop-color="#ff6600" stop-opacity="0.35"/><stop offset="0.714" stop-color="#ff5a00" stop-opacity="0.28"/><stop offset="0.786" stop-color="#ff4e00" stop-opacity="0.21"/><stop offset="0.857" stop-color="#ff4200" stop-opacity="0.14"/><stop offset="0.929" stop-color="#ff3600" stop-opacity="0.07"/><stop offset="1.000" stop-color="#ff2b00" stop-opacity="0.00"/></radialGradient><radialGradient id="g85"><stop offset="0.000" stop-color="#ff6b00" stop-opacity="0.70"/><stop offset="0.071" stop-color="#ff6800" stop-opacity="0.67"/><stop offset="0.143" stop-color="#ff6500" stop-opacity="0.64"/><stop offset="0.214" stop-color="#ff6200" stop-opacity="0.61"/><stop offset="0.286" stop-color="#ff5e00" stop-opacity="0.58"/><stop offset="0.357" stop-color="#ff5b00" stop-opacity="0.55"/><stop offset="0.429" stop-color="#ff5800" stop-opacity="0.52"/><stop offset="0.500" stop-color="#ff5500" stop-opacity="0.49"/><stop offset="0.571" stop-color="#ff4f00" stop-opacity="0.42"/><stop offset="0.643" stop-color="#ff4900" stop-opacity="0.35"/><stop offset="0.714" stop-color="#ff4300" stop-opacity="0.28"/><stop offset="0.786" stop-color="#ff3d00" stop-opacity="0.21"/><stop offset="0.857" stop-color="#ff3700" stop-opacity="0.14"/><stop offset="0.929" stop-color="#ff3100" stop-opacity="0.07"/><stop offset="1.000" stop-color="#ff2b00" stop-opacity="0.00"/></radialGradient><radialGradient id="g86"><stop offset="0.000" stop-color="#ff6b00" stop-opacity="0.70"/><stop offset="0.071" stop-color="#ff6800" stop-opacity="0.67"/><stop offset="0.143" stop-color="#ff6500" stop-opacity="0.64"/><stop offset="0.214" stop-color="#ff6200" stop-opacity="0.61"/><stop offset="0.286" stop-color="#ff5e00" stop-opacity="0.58"/><stop offset="0.357" stop-color="#ff5b00" stop-opacity="0.55"/><stop offset="0.429" stop-color="#ff5800" stop-opacity="0.52"/><stop offset="0.500" stop-color="#ff5500" stop-opacity="0.49"/><stop offset="0.571" stop-color="#ff4f00" stop-opacity="0.42"/><stop offset="0.643" stop-color="#ff4900" stop-opacity="0.35"/><stop offset="0.714" stop-color="#ff4300" stop-opacity="0.28"/><stop offset="0.786" stop-color="#ff3d00" stop-opacity="0.21"/><stop offset="0.857" stop-color="#ff3700" stop-opacity="0.14"/><stop offset="0.929" stop-color="#ff3100" stop-opacity="0.07"/><stop offset="1.000" stop-color="#ff2b00" stop-opacity="0.00"/></radialGradient><radialGradient id="g87"><stop offset="0.000" stop-color="#ff6400" stop-opacity="0.70"/><stop offset="0.071" stop-color="#ff6100" stop-opacity="0.67"/><stop offset="0.143" stop-color="#ff5e00" stop-opacity="0.64"/><stop offset="0.214" stop-color="#ff5b00" stop-opacity="0.61"/><stop offset="0.286" stop-color="#ff5800" stop-opacity="0.58"/><stop offset="0.357" stop-color="#ff5500" stop-opacity="0.55"/><stop offset="0.429" stop-color="#ff5200" stop-opacity="0.52"/><stop offset="0.500" stop-color="#ff5000" stop-opacity="0.49"/><stop offset="0.571" stop-color="#ff4a00" stop-opacity="0.42"/><stop offset="0.643" stop-color="#ff4500" stop-opacity="0.35"/><stop offset="0.714" stop-color="#ff4000" stop-opacity="0.28"/><stop offset="0.786" stop-color="#ff3b00" stop-opacity="0.21"/><stop offset="0.857" stop-color="#ff3500" stop-opacity="0.14"/><stop offset="0.929" stop-color="#ff3000" stop-opacity="0.07"/><stop offset="1.000" stop-color="#ff2b00" stop-opacity="0.00"/></radialGradient><radialGradient id="g88"><stop offset="0.000" stop-color="#fff300" stop-opacity="1.00"/><stop offset="0.067" stop-color="#ffee00" stop-opacity="1.00"/><stop offset="0.133" stop-color="#ffe800" stop-opacity="1.00"/><stop offset="0.200" stop-color="#ffe300" stop-opacity="1.00"/><stop offset="0.267" stop-color="#ffde00" stop-opacity="1.00"/><stop offset="0.333" stop-color="#ffd800" stop-opacity="1.00"/><stop offset="0.400" stop-color="#ffd300" stop-opacity="1.00"/><stop offset="0.475" stop-color="#ffc100" stop-opacity="0.95"/><stop offset="0.550" stop-color="#ffaf00" stop-opacity="0.90"/><stop offset="0.625" stop-color="#ff9d00" stop-opacity="0.85"/><stop offset="0.700" stop-color="#ff8c00" stop-opacity="0.80"/><stop offset="0.775" stop-color="#ff7900" stop-opacity="0.60"/><stop offset="0.850" stop-color="#ff6400" stop-opacity="0.40"/><stop offset="0.925" stop-color="#ff4e00" stop-opacity="0.20"/><stop offset="1.000" stop-color="#ff3900" stop-opacity="0.00"/></radialGradient><radialGradient id="g89"><stop offset="0.000" stop-color="#ecff00" stop-opacity="1.00"/><stop offset="0.067" stop-color="#f3ff00" stop-opacity="1.00"/><stop offset="0.133" stop-color="#faff00" stop-opacity="1.00"/><stop offset="0.200" stop-color="#fffe00" stop-opacity="1.00"/><stop offset="0.267" stop-color="#fff700" stop-opacity="1.00"/><stop offset="0.333" stop-color="#fff100" stop-opacity="1.00"/><stop offset="0.400" stop-color="#ffeb00" stop-opacity="1.00"/><stop offset="0.475" stop-color="#ffd300" stop-opacity="0.95"/><stop offset="0.550" stop-color="#ffbb00" stop-opacity="0.90"/><stop offset="0.625" stop-color="#ffa300" stop-opacity="0.85"/><stop offset="0.700" stop-color="#ff8c00" stop-opacity="0.80"/><stop offset="0.775" stop-color="#ff7900" stop-opacity="0.60"/><stop offset="0.850" stop-color="#ff6400" stop-opacity="0.40"/><stop offset="0.925" stop-color="#ff4e00" stop-opacity="0.20"/><stop offset="1.000" stop-color="#ff3900" stop-opacity="0.00"/></radialGradient><radialGradient id="g90"><stop offset="0.000" stop-color="#ffc500" stop-opacity="1.00"/><stop offset="0.067" stop-color="#ffc100" stop-opacity="1.00"/><stop offset="0.133" stop-color="#ffbd00" stop-opacity="1.00"/><stop offset="0.200" stop-color="#ffb800" stop-opacity="1.00"/><stop offset="0.267" stop-color="#ffb400" stop-opacity="1.00"/><stop offset="0.333" stop-color="#ffb000" stop-opacity="1.00"/><stop offset="0.400" stop-color="#ffab00" stop-opacity="1.00"/><stop offset="0.475" stop-color="#ffa300" stop-opacity="0.95"/><stop offset="0.550" stop-color="#ff9b00" stop-opacity="0.90"/><stop offset="0.625" stop-color="#ff9300" stop-opacity="0.85"/><stop offset="0.700" stop-color="#ff8c00" stop-opacity="0.80"/><stop offset="0.775" stop-color="#ff7900" stop-opacity="0.60"/><stop offset="0.850" stop-color="#ff6400" stop-opacity="0.40"/><stop offset="0.925" stop-color="#ff4e00" stop-opacity="0.20"/><stop offset="1.000" stop-color="#ff3900" stop-opacity="0.00"/></radialGradient><radialGradient id="g91"><stop offset="0.000" stop-color="#00ec69" stop-opacity="1.00"/><stop offset="0.075" stop-color="#00ee53" stop-opacity="1.00"/><stop offset="0.150" stop-color="#00f03c" stop-opacity="1.00"/><stop offset="0.225" stop-color="#0af235" stop-opacity="1.00"/><stop offset="0.300" stop-color="#14f32f" stop-opacity="1.00"/><stop offset="0.367" stop-color="#2ff81d" stop-opacity="1.00"/><stop offset="0.433" stop-color="#49fc0b" stop-opacity="1.00"/><stop offset="0.500" stop-color="#67ff00" stop-opacity="1.00"/><stop offset="0.580" stop-color="#99ff00" stop-opacity="1.00"/><stop offset="0.660" stop-color="#ccff00" stop-opacity="1.00"/><stop offset="0.730" stop-color="#f9ff00" stop-opacity="1.00"/><stop offset="0.800" stop-color="#ffdc00" stop-opacity="1.00"/><stop offset="0.900" stop-color="#ff9700" stop-opacity="0.80"/><stop offset="1.000" stop-color="#ff4700" stop-opacity="0.00"/></radialGradient><radialGradient id="g92"><stop offset="0.000" stop-color="#14f32f" stop-opacity="1.00"/><stop offset="0.071" stop-color="#17f42d" stop-opacity="1.00"/><stop offset="0.143" stop-color="#1af42b" stop-opacity="1.00"/><stop offset="0.214" stop-color="#1df529" stop-opacity="1.00"/><stop offset="0.286" stop-color="#1ff527" stop-opacity="1.00"/><stop offset="0.357" stop-color="#22f625" stop-opacity="1.00"/><stop offset="0.429" stop-color="#25f623" stop-opacity="1.00"/><stop offset="0.500" stop-color="#28f721" stop-opacity="1.00"/><stop offset="0.571" stop-color="#2ff81d" stop-opacity="0.86"/><stop offset="0.643" stop-color="#36f918" stop-opacity="0.71"/><stop offset="0.714" stop-color="#3dfa13" stop-opacity="0.57"/><stop offset="0.786" stop-color="#45fb0e" stop-opacity="0.43"/><stop offset="0.857" stop-color="#4cfd0a" stop-opacity="0.29"/><stop offset="0.929" stop-color="#53fe05" stop-opacity="0.14"/><stop offset="1.000" stop-color="#5aff00" stop-opacity="0.00"/></radialGradient><radialGradient id="g93"><stop offset="0.000" stop-color="#00aff4" stop-opacity="1.00"/><stop offset="0.071" stop-color="#00b9f4" stop-opacity="1.00"/><stop offset="0.143" stop-color="#00c2f3" stop-opacity="1.00"/><stop offset="0.214" stop-color="#00ccf2" stop-opacity="1.00"/><stop offset="0.286" stop-color="#00d5f1" stop-opacity="1.00"/><stop offset="0.357" stop-color="#00dff0" stop-opacity="1.00"/><stop offset="0.429" stop-color="#00e2e6" stop-opacity="1.00"/><stop offset="0.500" stop-color="#00e3d9" stop-opacity="1.00"/><stop offset="0.571" stop-color="#00e5c3" stop-opacity="0.86"/><stop offset="0.643" stop-color="#00e7ac" stop-opacity="0.71"/><stop offset="0.714" stop-color="#00e896" stop-opacity="0.57"/><stop offset="0.786" stop-color="#00ea80" stop-opacity="0.43"/><stop offset="0.857" stop-color="#00ec69" stop-opacity="0.29"/><stop offset="0.929" stop-color="#00ee53" stop-opacity="0.14"/><stop offset="1.000" stop-color="#00f03c" stop-opacity="0.00"/></radialGradient><radialGradient id="g94"><stop offset="0.000" stop-color="#f000f1" stop-opacity="1.00"/><stop offset="0.067" stop-color="#fa00ff" stop-opacity="1.00"/><stop offset="0.133" stop-color="#e600ff" stop-opacity="1.00"/><stop offset="0.200" stop-color="#d200ff" stop-opacity="1.00"/><stop offset="0.280" stop-color="#9600ff" stop-opacity="1.00"/><stop offset="0.360" stop-color="#600cff" stop-opacity="1.00"/><stop offset="0.430" stop-color="#242aff" stop-opacity="1.00"/><stop offset="0.500" stop-color="#005dfc" stop-opacity="1.00"/><stop offset="0.560" stop-color="#00b8f4" stop-opacity="1.00"/><stop offset="0.620" stop-color="#00e7ac" stop-opacity="1.00"/><stop offset="0.675" stop-color="#05f139" stop-opacity="1.00"/><stop offset="0.730" stop-color="#3cfa14" stop-opacity="1.00"/><stop offset="0.830" stop-color="#e6ff00" stop-opacity="1.00"/><stop offset="0.920" stop-color="#ffba00" stop-opacity="0.90"/><stop offset="1.000" stop-color="#ff5500" stop-opacity="0.00"/></radialGradient><radialGradient id="g95"><stop offset="0.000" stop-color="#4818ff" stop-opacity="1.00"/><stop offset="0.073" stop-color="#3820ff" stop-opacity="1.00"/><stop offset="0.147" stop-color="#2828ff" stop-opacity="1.00"/><stop offset="0.220" stop-color="#1830ff" stop-opacity="1.00"/><stop offset="0.300" stop-color="#005dfc" stop-opacity="1.00"/><stop offset="0.380" stop-color="#009ff6" stop-opacity="1.00"/><stop offset="0.450" stop-color="#00e1f0" stop-opacity="1.00"/><stop offset="0.520" stop-color="#00e896" stop-opacity="1.00"/><stop offset="0.580" stop-color="#0af235" stop-opacity="1.00"/><stop offset="0.640" stop-color="#3cfa14" stop-opacity="1.00"/><stop offset="0.710" stop-color="#8dff00" stop-opacity="1.00"/><stop offset="0.780" stop-color="#e6ff00" stop-opacity="1.00"/><stop offset="0.840" stop-color="#ffe200" stop-opacity="0.95"/><stop offset="0.900" stop-color="#ffae00" stop-opacity="0.90"/><stop offset="1.000" stop-color="#ff5500" stop-opacity="0.00"/></radialGradient><radialGradient id="g96"><stop offset="0.000" stop-color="#ff4e00" stop-opacity="0.90"/><stop offset="0.071" stop-color="#ff4c00" stop-opacity="0.86"/><stop offset="0.143" stop-color="#ff4a00" stop-opacity="0.82"/><stop offset="0.214" stop-color="#ff4800" stop-opacity="0.78"/><stop offset="0.286" stop-color="#ff4500" stop-opacity="0.75"/><stop offset="0.357" stop-color="#ff4300" stop-opacity="0.71"/><stop offset="0.429" stop-color="#ff4100" stop-opacity="0.67"/><stop offset="0.500" stop-color="#ff3f00" stop-opacity="0.63"/><stop offset="0.571" stop-color="#ff3c00" stop-opacity="0.54"/><stop offset="0.643" stop-color="#ff3900" stop-opacity="0.45"/><stop offset="0.714" stop-color="#ff3600" stop-opacity="0.36"/><stop offset="0.786" stop-color="#ff3300" stop-opacity="0.27"/><stop offset="0.857" stop-color="#ff3000" stop-opacity="0.18"/><stop offset="0.929" stop-color="#ff2e00" stop-opacity="0.09"/><stop offset="1.000" stop-color="#ff2b00" stop-opacity="0.00"/></radialGradient><radialGradient id="g97"><stop offset="0.000" stop-color="#ff7200" stop-opacity="0.80"/><stop offset="0.071" stop-color="#ff6f00" stop-opacity="0.77"/><stop offset="0.143" stop-color="#ff6b00" stop-opacity="0.73"/><stop offset="0.214" stop-color="#ff6800" stop-opacity="0.70"/><stop offset="0.286" stop-color="#ff6500" stop-opacity="0.66"/><stop offset="0.357" stop-color="#ff6200" stop-opacity="0.63"/><stop offset="0.429" stop-color="#ff5e00" stop-opacity="0.59"/><stop offset="0.500" stop-color="#ff5b00" stop-opacity="0.56"/><stop offset="0.571" stop-color="#ff5400" stop-opacity="0.48"/><stop offset="0.643" stop-color="#ff4d00" stop-opacity="0.40"/><stop offset="0.714" stop-color="#ff4600" stop-opacity="0.32"/><stop offset="0.786" stop-color="#ff3f00" stop-opacity="0.24"/><stop offset="0.857" stop-color="#ff3800" stop-opacity="0.16"/><stop offset="0.929" stop-color="#ff3200" stop-opacity="0.08"/><stop offset="1.000" stop-color="#ff2b00" stop-opacity="0.00"/></radialGradient><radialGradient id="g98"><stop offset="0.000" stop-color="#ffba00" stop-opacity="0.80"/><stop offset="0.071" stop-color="#ffb500" stop-opacity="0.77"/><stop offset="0.143" stop-color="#ffb000" stop-opacity="0.73"/><stop offset="0.214" stop-color="#ffac00" stop-opacity="0.70"/><stop offset="0.286" stop-color="#ffa700" stop-opacity="0.66"/><stop offset="0.357" stop-color="#ffa300" stop-opacity="0.63"/><stop offset="0.429" stop-color="#ff9e00" stop-opacity="0.59"/><stop offset="0.500" stop-color="#ff9900" stop-opacity="0.56"/><stop offset="0.571" stop-color="#ff8c00" stop-opacity="0.48"/><stop offset="0.643" stop-color="#ff7e00" stop-opacity="0.40"/><stop offset="0.714" stop-color="#ff6d00" stop-opacity="0.32"/><stop offset="0.786" stop-color="#ff5d00" stop-opacity="0.24"/><stop offset="0.857" stop-color="#ff4c00" stop-opacity="0.16"/><stop offset="0.929" stop-color="#ff3b00" stop-opacity="0.08"/><stop offset="1.000" stop-color="#ff2b00" stop-opacity="0.00"/></radialGradient><radialGradient id="g99"><stop offset="0.000" stop-color="#ff6b00" stop-opacity="0.70"/><stop offset="0.071" stop-color="#ff6800" stop-opacity="0.67"/><stop offset="0.143" stop-color="#ff6500" stop-opacity="0.64"/><stop offset="0.214" stop-color="#ff6200" stop-opacity="0.61"/><stop offset="0.286" stop-color="#ff5e00" stop-opacity="0.58"/><stop offset="0.357" stop-color="#ff5b00" stop-opacity="0.55"/><stop offset="0.429" stop-color="#ff5800" stop-opacity="0.52"/><stop offset="0.500" stop-color="#ff5500" stop-opacity="0.49"/><stop offset="0.571" stop-color="#ff4f00" stop-opacity="0.42"/><stop offset="0.643" stop-color="#ff4900" stop-opacity="0.35"/><stop offset="0.714" stop-color="#ff4300" stop-opacity="0.28"/><stop offset="0.786" stop-color="#ff3d00" stop-opacity="0.21"/><stop offset="0.857" stop-color="#ff3700" stop-opacity="0.14"/><stop offset="0.929" stop-color="#ff3100" stop-opacity="0.07"/><stop offset="1.000" stop-color="#ff2b00" stop-opacity="0.00"/></radialGradient><radialGradient id="g100"><stop offset="0.000" stop-color="#ff6b00" stop-opacity="0.70"/><stop offset="0.071" stop-color="#ff6800" stop-opacity="0.67"/><stop offset="0.143" stop-color="#ff6500" stop-opacity="0.64"/><stop offset="0.214" stop-color="#ff6200" stop-opacity="0.61"/><stop offset="0.286" stop-color="#ff5e00" stop-opacity="0.58"/><stop offset="0.357" stop-color="#ff5b00" stop-opacity="0.55"/><stop offset="0.429" stop-color="#ff5800" stop-opacity="0.52"/><stop offset="0.500" stop-color="#ff5500" stop-opacity="0.49"/><stop offset="0.571" stop-color="#ff4f00" stop-opacity="0.42"/><stop offset="0.643" stop-color="#ff4900" stop-opacity="0.35"/><stop offset="0.714" stop-color="#ff4300" stop-opacity="0.28"/><stop offset="0.786" stop-color="#ff3d00" stop-opacity="0.21"/><stop offset="0.857" stop-color="#ff3700" stop-opacity="0.14"/><stop offset="0.929" stop-color="#ff3100" stop-opacity="0.07"/><stop offset="1.000" stop-color="#ff2b00" stop-opacity="0.00"/></radialGradient><radialGradient id="g101"><stop offset="0.000" stop-color="#ff6b00" stop-opacity="0.70"/><stop offset="0.071" stop-color="#ff6800" stop-opacity="0.67"/><stop offset="0.143" stop-color="#ff6500" stop-opacity="0.64"/><stop offset="0.214" stop-color="#ff6200" stop-opacity="0.61"/><stop offset="0.286" stop-color="#ff5e00" stop-opacity="0.58"/><stop offset="0.357" stop-color="#ff5b00" stop-opacity="0.55"/><stop offset="0.429" stop-color="#ff5800" stop-opacity="0.52"/><stop offset="0.500" stop-color="#ff5500" stop-opacity="0.49"/><stop offset="0.571" stop-color="#ff4f00" stop-opacity="0.42"/><stop offset="0.643" stop-color="#ff4900" stop-opacity="0.35"/><stop offset="0.714" stop-color="#ff4300" stop-opacity="0.28"/><stop offset="0.786" stop-color="#ff3d00" stop-opacity="0.21"/><stop offset="0.857" stop-color="#ff3700" stop-opacity="0.14"/><stop offset="0.929" stop-color="#ff3100" stop-opacity="0.07"/><stop offset="1.000" stop-color="#ff2b00" stop-opacity="0.00"/></radialGradient><radialGradient id="g102"><stop offset="0.000" stop-color="#ff6b00" stop-opacity="0.70"/><stop offset="0.071" stop-color="#ff6800" stop-opacity="0.67"/><stop offset="0.143" stop-color="#ff6500" stop-opacity="0.64"/><stop offset="0.214" stop-color="#ff6200" stop-opacity="0.61"/><stop offset="0.286" stop-color="#ff5e00" stop-opacity="0.58"/><stop offset="0.357" stop-color="#ff5b00" stop-opacity="0.55"/><stop offset="0.429" stop-color="#ff5800" stop-opacity="0.52"/><stop offset="0.500" stop-color="#ff5500" stop-opacity="0.49"/><stop offset="0.571" stop-color="#ff4f00" stop-opacity="0.42"/><stop offset="0.643" stop-color="#ff4900" stop-opacity="0.35"/><stop offset="0.714" stop-color="#ff4300" stop-opacity="0.28"/><stop offset="0.786" stop-color="#ff3d00" stop-opacity="0.21"/><stop offset="0.857" stop-color="#ff3700" stop-opacity="0.14"/><stop offset="0.929" stop-color="#ff3100" stop-opacity="0.07"/><stop offset="1.000" stop-color="#ff2b00" stop-opacity="0.00"/></radialGradient><radialGradient id="g103"><stop offset="0.000" stop-color="#ff6b00" stop-opacity="0.70"/><stop offset="0.071" stop-color="#ff6800" stop-opacity="0.67"/><stop offset="0.143" stop-color="#ff6500" stop-opacity="0.64"/><stop offset="0.214" stop-color="#ff6200" stop-opacity="0.61"/><stop offset="0.286" stop-color="#ff5e00" stop-opacity="0.58"/><stop offset="0.357" stop-color="#ff5b00" stop-opacity="0.55"/><stop offset="0.429" stop-color="#ff5800" stop-opacity="0.52"/><stop offset="0.500" stop-color="#ff5500" stop-opacity="0.49"/><stop offset="0.571" stop-color="#ff4f00" stop-opacity="0.42"/><stop offset="0.643" stop-color="#ff4900" stop-opacity="0.35"/><stop offset="0.714" stop-color="#ff4300" stop-opacity="0.28"/><stop offset="0.786" stop-color="#ff3d00" stop-opacity="0.21"/><stop offset="0.857" stop-color="#ff3700" stop-opacity="0.14"/><stop offset="0.929" stop-color="#ff3100" stop-opacity="0.07"/><stop offset="1.000" stop-color="#ff2b00" stop-opacity="0.00"/></radialGradient><radialGradient id="g104"><stop offset="0.000" stop-color="#ffcb00" stop-opacity="1.00"/><stop offset="0.071" stop-color="#ffc900" stop-opacity="0.99"/><stop offset="0.143" stop-color="#ffc800" stop-opacity="0.99"/><stop offset="0.214" stop-color="#ffc600" stop-opacity="0.98"/><stop offset="0.286" stop-color="#ffc400" stop-opacity="0.97"/><stop offset="0.357" stop-color="#ffc300" stop-opacity="0.96"/><stop offset="0.429" stop-color="#ffc100" stop-opacity="0.96"/><stop offset="0.500" stop-color="#ffc000" stop-opacity="0.95"/><stop offset="0.575" stop-color="#ffb300" stop-opacity="0.89"/><stop offset="0.650" stop-color="#ffa600" stop-opacity="0.82"/><stop offset="0.725" stop-color="#ff9900" stop-opacity="0.76"/><stop offset="0.800" stop-color="#ff8c00" stop-opacity="0.70"/><stop offset="0.867" stop-color="#ff7200" stop-opacity="0.47"/><stop offset="0.933" stop-color="#ff5500" stop-opacity="0.23"/><stop offset="1.000" stop-color="#ff3900" stop-opacity="0.00"/></radialGradient><radialGradient id="g105"><stop offset="0.000" stop-color="#ff8c00" stop-opacity="0.80"/><stop offset="0.071" stop-color="#ff8800" stop-opacity="0.77"/><stop offset="0.143" stop-color="#ff8500" stop-opacity="0.73"/><stop offset="0.214" stop-color="#ff8200" stop-opacity="0.70"/><stop offset="0.286" stop-color="#ff7e00" stop-opacity="0.66"/><stop offset="0.357" stop-color="#ff7a00" stop-opacity="0.63"/><stop offset="0.429" stop-color="#ff7600" stop-opacity="0.59"/><stop offset="0.500" stop-color="#ff7200" stop-opacity="0.56"/><stop offset="0.571" stop-color="#ff6800" stop-opacity="0.48"/><stop offset="0.643" stop-color="#ff5d00" stop-opacity="0.40"/><stop offset="0.714" stop-color="#ff5300" stop-opacity="0.32"/><stop offset="0.786" stop-color="#ff4900" stop-opacity="0.24"/><stop offset="0.857" stop-color="#ff3f00" stop-opacity="0.16"/><stop offset="0.929" stop-color="#ff3500" stop-opacity="0.08"/><stop offset="1.000" stop-color="#ff2b00" stop-opacity="0.00"/></radialGradient><radialGradient id="g106"><stop offset="0.000" stop-color="#ff7900" stop-opacity="0.70"/><stop offset="0.071" stop-color="#ff7500" stop-opacity="0.67"/><stop offset="0.143" stop-color="#ff7200" stop-opacity="0.64"/><stop offset="0.214" stop-color="#ff6f00" stop-opacity="0.61"/><stop offset="0.286" stop-color="#ff6b00" stop-opacity="0.58"/><stop offset="0.357" stop-color="#ff6800" stop-opacity="0.55"/><stop offset="0.429" stop-color="#ff6400" stop-opacity="0.52"/><stop offset="0.500" stop-color="#ff6100" stop-opacity="0.49"/><stop offset="0.571" stop-color="#ff5900" stop-opacity="0.42"/><stop offset="0.643" stop-color="#ff5100" stop-opacity="0.35"/><stop offset="0.714" stop-color="#ff4a00" stop-opacity="0.28"/><stop offset="0.786" stop-color="#ff4200" stop-opacity="0.21"/><stop offset="0.857" stop-color="#ff3a00" stop-opacity="0.14"/><stop offset="0.929" stop-color="#ff3200" stop-opacity="0.07"/><stop offset="1.000" stop-color="#ff2b00" stop-opacity="0.00"/></radialGradient><radialGradient id="g107"><stop offset="0.000" stop-color="#ff7200" stop-opacity="0.70"/><stop offset="0.071" stop-color="#ff6f00" stop-opacity="0.67"/><stop offset="0.143" stop-color="#ff6b00" stop-opacity="0.64"/><stop offset="0.214" stop-color="#ff6800" stop-opacity="0.61"/><stop offset="0.286" stop-color="#ff6500" stop-opacity="0.58"/><stop offset="0.357" stop-color="#ff6200" stop-opacity="0.55"/><stop offset="0.429" stop-color="#ff5e00" stop-opacity="0.52"/><stop offset="0.500" stop-color="#ff5b00" stop-opacity="0.49"/><stop offset="0.571" stop-color="#ff5400" stop-opacity="0.42"/><stop offset="0.643" stop-color="#ff4d00" stop-opacity="0.35"/><stop offset="0.714" stop-color="#ff4600" stop-opacity="0.28"/><stop offset="0.786" stop-color="#ff3f00" stop-opacity="0.21"/><stop offset="0.857" stop-color="#ff3800" stop-opacity="0.14"/><stop offset="0.929" stop-color="#ff3200" stop-opacity="0.07"/><stop offset="1.000" stop-color="#ff2b00" stop-opacity="0.00"/></radialGradient><radialGradient id="g108"><stop offset="0.000" stop-color="#fff300" stop-opacity="1.00"/><stop offset="0.067" stop-color="#ffee00" stop-opacity="1.00"/><stop offset="0.133" stop-color="#ffe800" stop-opacity="1.00"/><stop offset="0.200" stop-color="#ffe300" stop-opacity="1.00"/><stop offset="0.267" stop-color="#ffde00" stop-opacity="1.00"/><stop offset="0.333" stop-color="#ffd800" stop-opacity="1.00"/><stop offset="0.400" stop-color="#ffd300" stop-opacity="1.00"/><stop offset="0.475" stop-color="#ffc100" stop-opacity="0.95"/><stop offset="0.550" stop-color="#ffaf00" stop-opacity="0.90"/><stop offset="0.625" stop-color="#ff9d00" stop-opacity="0.85"/><stop offset="0.700" stop-color="#ff8c00" stop-opacity="0.80"/><stop offset="0.775" stop-color="#ff7900" stop-opacity="0.60"/><stop offset="0.850" stop-color="#ff6400" stop-opacity="0.40"/><stop offset="0.925" stop-color="#ff4e00" stop-opacity="0.20"/><stop offset="1.000" stop-color="#ff3900" stop-opacity="0.00"/></radialGradient><radialGradient id="g109"><stop offset="0.000" stop-color="#ffdc00" stop-opacity="1.00"/><stop offset="0.067" stop-color="#ffd700" stop-opacity="1.00"/><stop offset="0.133" stop-color="#ffd300" stop-opacity="1.00"/><stop offset="0.200" stop-color="#ffce00" stop-opacity="1.00"/><stop offset="0.267" stop-color="#ffc900" stop-opacity="1.00"/><stop offset="0.333" stop-color="#ffc400" stop-opacity="1.00"/><stop offset="0.400" stop-color="#ffbf00" stop-opacity="1.00"/><stop offset="0.475" stop-color="#ffb200" stop-opacity="0.95"/><stop offset="0.550" stop-color="#ffa500" stop-opacity="0.90"/><stop offset="0.625" stop-color="#ff9800" stop-opacity="0.85"/><stop offset="0.700" stop-color="#ff8c00" stop-opacity="0.80"/><stop offset="0.775" stop-color="#ff7900" stop-opacity="0.60"/><stop offset="0.850" stop-color="#ff6400" stop-opacity="0.40"/><stop offset="0.925" stop-color="#ff4e00" stop-opacity="0.20"/><stop offset="1.000" stop-color="#ff3900" stop-opacity="0.00"/></radialGradient><radialGradient id="g110"><stop offset="0.000" stop-color="#ffe800" stop-opacity="1.00"/><stop offset="0.067" stop-color="#ffe300" stop-opacity="1.00"/><stop offset="0.133" stop-color="#ffde00" stop-opacity="1.00"/><stop offset="0.200" stop-color="#ffd800" stop-opacity="1.00"/><stop offset="0.267" stop-color="#ffd300" stop-opacity="1.00"/><stop offset="0.333" stop-color="#ffce00" stop-opacity="1.00"/><stop offset="0.400" stop-color="#ffc900" stop-opacity="1.00"/><stop offset="0.475" stop-color="#ffb900" stop-opacity="0.95"/><stop offset="0.550" stop-color="#ffaa00" stop-opacity="0.90"/><stop offset="0.625" stop-color="#ff9b00" stop-opacity="0.85"/><stop offset="0.700" stop-color="#ff8c00" stop-opacity="0.80"/><stop offset="0.775" stop-color="#ff7900" stop-opacity="0.60"/><stop offset="0.850" stop-color="#ff6400" stop-opacity="0.40"/><stop offset="0.925" stop-color="#ff4e00" stop-opacity="0.20"/><stop offset="1.000" stop-color="#ff3900" stop-opacity="0.00"/></radialGradient><radialGradient id="g111"><stop offset="0.000" stop-color="#ffe800" stop-opacity="1.00"/><stop offset="0.067" stop-color="#ffe300" stop-opacity="1.00"/><stop offset="0.133" stop-color="#ffde00" stop-opacity="1.00"/><stop offset="0.200" stop-color="#ffd800" stop-opacity="1.00"/><stop offset="0.267" stop-color="#ffd300" stop-opacity="1.00"/><stop offset="0.333" stop-color="#ffce00" stop-opacity="1.00"/><stop offset="0.400" stop-color="#ffc900" stop-opacity="1.00"/><stop offset="0.475" stop-color="#ffb900" stop-opacity="0.95"/><stop offset="0.550" stop-color="#ffaa00" stop-opacity="0.90"/><stop offset="0.625" stop-color="#ff9b00" stop-opacity="0.85"/><stop offset="0.700" stop-color="#ff8c00" stop-opacity="0.80"/><stop offset="0.775" stop-color="#ff7900" stop-opacity="0.60"/><stop offset="0.850" stop-color="#ff6400" stop-opacity="0.40"/><stop offset="0.925" stop-color="#ff4e00" stop-opacity="0.20"/><stop offset="1.000" stop-color="#ff3900" stop-opacity="0.00"/></radialGradient><radialGradient id="g112"><stop offset="0.000" stop-color="#ffc500" stop-opacity="1.00"/><stop offset="0.067" stop-color="#ffc100" stop-opacity="1.00"/><stop offset="0.133" stop-color="#ffbd00" stop-opacity="1.00"/><stop offset="0.200" stop-color="#ffb800" stop-opacity="1.00"/><stop offset="0.267" stop-color="#ffb400" stop-opacity="1.00"/><stop offset="0.333" stop-color="#ffb000" stop-opacity="1.00"/><stop offset="0.400" stop-color="#ffab00" stop-opacity="1.00"/><stop offset="0.475" stop-color="#ffa300" stop-opacity="0.95"/><stop offset="0.550" stop-color="#ff9b00" stop-opacity="0.90"/><stop offset="0.625" stop-color="#ff9300" stop-opacity="0.85"/><stop offset="0.700" stop-color="#ff8c00" stop-opacity="0.80"/><stop offset="0.775" stop-color="#ff7900" stop-opacity="0.60"/><stop offset="0.850" stop-color="#ff6400" stop-opacity="0.40"/><stop offset="0.925" stop-color="#ff4e00" stop-opacity="0.20"/><stop offset="1.000" stop-color="#ff3900" stop-opacity="0.00"/></radialGradient><radialGradient id="g113"><stop offset="0.000" stop-color="#28f721" stop-opacity="1.00"/><stop offset="0.075" stop-color="#30f81c" stop-opacity="1.00"/><stop offset="0.150" stop-color="#37f917" stop-opacity="1.00"/><stop offset="0.225" stop-color="#3ffa12" stop-opacity="1.00"/><stop offset="0.300" stop-color="#46fc0d" stop-opacity="1.00"/><stop offset="0.367" stop-color="#6bff00" stop-opacity="1.00"/><stop offset="0.433" stop-color="#95ff00" stop-opacity="1.00"/><stop offset="0.500" stop-color="#c0ff00" stop-opacity="1.00"/><stop offset="0.560" stop-color="#ddff00" stop-opacity="1.00"/><stop offset="0.620" stop-color="#fbff00" stop-opacity="1.00"/><stop offset="0.680" stop-color="#ffe800" stop-opacity="1.00"/><stop offset="0.760" stop-color="#ffc000" stop-opacity="0.90"/><stop offset="0.840" stop-color="#ff9700" stop-opacity="0.80"/><stop offset="0.920" stop-color="#ff7200" stop-opacity="0.40"/><stop offset="1.000" stop-color="#ff4700" stop-opacity="0.00"/></radialGradient><radialGradient id="g114"><stop offset="0.000" stop-color="#d200ff" stop-opacity="1.00"/><stop offset="0.075" stop-color="#b400ff" stop-opacity="1.00"/><stop offset="0.150" stop-color="#9600ff" stop-opacity="1.00"/><stop offset="0.225" stop-color="#7800ff" stop-opacity="1.00"/><stop offset="0.300" stop-color="#600cff" stop-opacity="1.00"/><stop offset="0.380" stop-color="#242aff" stop-opacity="1.00"/><stop offset="0.460" stop-color="#005dfc" stop-opacity="1.00"/><stop offset="0.520" stop-color="#00c0f3" stop-opacity="1.00"/><stop offset="0.580" stop-color="#00e896" stop-opacity="1.00"/><stop offset="0.640" stop-color="#14f32f" stop-opacity="1.00"/><stop offset="0.700" stop-color="#50fd07" stop-opacity="1.00"/><stop offset="0.760" stop-color="#a6ff00" stop-opacity="1.00"/><stop offset="0.820" stop-color="#ffff00" stop-opacity="1.00"/><stop offset="0.920" stop-color="#ffa300" stop-opacity="0.90"/><stop offset="1.000" stop-color="#ff5500" stop-opacity="0.00"/></radialGradient><radialGradient id="g115"><stop offset="0.000" stop-color="#14f32f" stop-opacity="1.00"/><stop offset="0.075" stop-color="#1bf52a" stop-opacity="1.00"/><stop offset="0.150" stop-color="#23f625" stop-opacity="1.00"/><stop offset="0.225" stop-color="#2af720" stop-opacity="1.00"/><stop offset="0.300" stop-color="#32f81b" stop-opacity="1.00"/><stop offset="0.367" stop-color="#5aff00" stop-opacity="1.00"/><stop offset="0.433" stop-color="#8dff00" stop-opacity="1.00"/><stop offset="0.500" stop-color="#c0ff00" stop-opacity="1.00"/><stop offset="0.560" stop-color="#ddff00" stop-opacity="1.00"/><stop offset="0.620" stop-color="#fbff00" stop-opacity="1.00"/><stop offset="0.680" stop-color="#ffe800" stop-opacity="1.00"/><stop offset="0.760" stop-color="#ffc000" stop-opacity="0.90"/><stop offset="0.840" stop-color="#ff9700" stop-opacity="0.80"/><stop offset="0.920" stop-color="#ff7200" stop-opacity="0.40"/><stop offset="1.000" stop-color="#ff4700" stop-opacity="0.00"/></radialGradient><radialGradient id="g116"><stop offset="0.000" stop-color="#00ec69" stop-opacity="1.00"/><stop offset="0.067" stop-color="#00ed5e" stop-opacity="1.00"/><stop offset="0.133" stop-color="#00ee53" stop-opacity="1.00"/><stop offset="0.200" stop-color="#00ef47" stop-opacity="1.00"/><stop offset="0.267" stop-color="#00f03c" stop-opacity="1.00"/><stop offset="0.333" stop-color="#05f139" stop-opacity="1.00"/><stop offset="0.400" stop-color="#0af235" stop-opacity="1.00"/><stop offset="0.460" stop-color="#2ff81d" stop-opacity="1.00"/><stop offset="0.520" stop-color="#53fe04" stop-opacity="1.00"/><stop offset="0.580" stop-color="#80ff00" stop-opacity="1.00"/><stop offset="0.660" stop-color="#c6ff00" stop-opacity="1.00"/><stop offset="0.740" stop-color="#fff300" stop-opacity="1.00"/><stop offset="0.810" stop-color="#ffcb00" stop-opacity="0.95"/><stop offset="0.880" stop-color="#ffa300" stop-opacity="0.90"/><stop offset="0.940" stop-color="#ff8000" stop-opacity="0.45"/><stop offset="1.000" stop-color="#ff5500" stop-opacity="0.00"/></radialGradient><radialGradient id="g117"><stop offset="0.000" stop-color="#4818ff" stop-opacity="1.00"/><stop offset="0.067" stop-color="#3820ff" stop-opacity="1.00"/><stop offset="0.133" stop-color="#2828ff" stop-opacity="1.00"/><stop offset="0.200" stop-color="#1830ff" stop-opacity="1.00"/><stop offset="0.267" stop-color="#0838ff" stop-opacity="1.00"/><stop offset="0.333" stop-color="#0047fe" stop-opacity="1.00"/><stop offset="0.400" stop-color="#005dfc" stop-opacity="1.00"/><stop offset="0.475" stop-color="#007ef9" stop-opacity="1.00"/><stop offset="0.550" stop-color="#009ff6" stop-opacity="1.00"/><stop offset="0.625" stop-color="#00c0f3" stop-opacity="1.00"/><stop offset="0.700" stop-color="#00e1f0" stop-opacity="1.00"/><stop offset="0.775" stop-color="#00e4c9" stop-opacity="0.75"/><stop offset="0.850" stop-color="#00e8a1" stop-opacity="0.50"/><stop offset="0.925" stop-color="#00eb7a" stop-opacity="0.25"/><stop offset="1.000" stop-color="#00ee53" stop-opacity="0.00"/></radialGradient><radialGradient id="g118"><stop offset="0.000" stop-color="#b400ff" stop-opacity="1.00"/><stop offset="0.067" stop-color="#9600ff" stop-opacity="1.00"/><stop offset="0.133" stop-color="#7800ff" stop-opacity="1.00"/><stop offset="0.200" stop-color="#600cff" stop-opacity="1.00"/><stop offset="0.267" stop-color="#4818ff" stop-opacity="1.00"/><stop offset="0.333" stop-color="#3024ff" stop-opacity="1.00"/><stop offset="0.400" stop-color="#1830ff" stop-opacity="1.00"/><stop offset="0.475" stop-color="#0044fe" stop-opacity="1.00"/><stop offset="0.550" stop-color="#006dfa" stop-opacity="1.00"/><stop offset="0.625" stop-color="#0097f7" stop-opacity="1.00"/><stop offset="0.700" stop-color="#00c0f3" stop-opacity="1.00"/><stop offset="0.775" stop-color="#00e1ea" stop-opacity="0.75"/><stop offset="0.850" stop-color="#00e6b8" stop-opacity="0.50"/><stop offset="0.925" stop-color="#00ea85" stop-opacity="0.25"/><stop offset="1.000" stop-color="#00ee53" stop-opacity="0.00"/></radialGradient><radialGradient id="g119"><stop offset="0.000" stop-color="#14f32f" stop-opacity="1.00"/><stop offset="0.075" stop-color="#1bf52a" stop-opacity="1.00"/><stop offset="0.150" stop-color="#23f625" stop-opacity="1.00"/><stop offset="0.225" stop-color="#2af720" stop-opacity="1.00"/><stop offset="0.300" stop-color="#32f81b" stop-opacity="1.00"/><stop offset="0.367" stop-color="#5aff00" stop-opacity="1.00"/><stop offset="0.433" stop-color="#8dff00" stop-opacity="1.00"/><stop offset="0.500" stop-color="#c0ff00" stop-opacity="1.00"/><stop offset="0.560" stop-color="#ddff00" stop-opacity="1.00"/><stop offset="0.620" stop-color="#fbff00" stop-opacity="1.00"/><stop offset="0.680" stop-color="#ffe800" stop-opacity="1.00"/><stop offset="0.760" stop-color="#ffc000" stop-opacity="0.90"/><stop offset="0.840" stop-color="#ff9700" stop-opacity="0.80"/><stop offset="0.920" stop-color="#ff7200" stop-opacity="0.40"/><stop offset="1.000" stop-color="#ff4700" stop-opacity="0.00"/></radialGradient><radialGradient id="g120"><stop offset="0.000" stop-color="#80ff00" stop-opacity="1.00"/><stop offset="0.075" stop-color="#8aff00" stop-opacity="1.00"/><stop offset="0.150" stop-color="#93ff00" stop-opacity="1.00"/><stop offset="0.225" stop-color="#9dff00" stop-opacity="1.00"/><stop offset="0.300" stop-color="#a6ff00" stop-opacity="1.00"/><stop offset="0.367" stop-color="#afff00" stop-opacity="1.00"/><stop offset="0.433" stop-color="#b7ff00" stop-opacity="1.00"/><stop offset="0.500" stop-color="#c0ff00" stop-opacity="1.00"/><stop offset="0.560" stop-color="#ddff00" stop-opacity="1.00"/><stop offset="0.620" stop-color="#fbff00" stop-opacity="1.00"/><stop offset="0.680" stop-color="#ffe800" stop-opacity="1.00"/><stop offset="0.760" stop-color="#ffc000" stop-opacity="0.90"/><stop offset="0.840" stop-color="#ff9700" stop-opacity="0.80"/><stop offset="0.920" stop-color="#ff7200" stop-opacity="0.40"/><stop offset="1.000" stop-color="#ff4700" stop-opacity="0.00"/></radialGradient><radialGradient id="g121"><stop offset="0.000" stop-color="#ff4e00" stop-opacity="0.90"/><stop offset="0.071" stop-color="#ff4c00" stop-opacity="0.86"/><stop offset="0.143" stop-color="#ff4a00" stop-opacity="0.82"/><stop offset="0.214" stop-color="#ff4800" stop-opacity="0.78"/><stop offset="0.286" stop-color="#ff4500" stop-opacity="0.75"/><stop offset="0.357" stop-color="#ff4300" stop-opacity="0.71"/><stop offset="0.429" stop-color="#ff4100" stop-opacity="0.67"/><stop offset="0.500" stop-color="#ff3f00" stop-opacity="0.63"/><stop offset="0.571" stop-color="#ff3c00" stop-opacity="0.54"/><stop offset="0.643" stop-color="#ff3900" stop-opacity="0.45"/><stop offset="0.714" stop-color="#ff3600" stop-opacity="0.36"/><stop offset="0.786" stop-color="#ff3300" stop-opacity="0.27"/><stop offset="0.857" stop-color="#ff3000" stop-opacity="0.18"/><stop offset="0.929" stop-color="#ff2e00" stop-opacity="0.09"/><stop offset="1.000" stop-color="#ff2b00" stop-opacity="0.00"/></radialGradient><radialGradient id="g122"><stop offset="0.000" stop-color="#ff7200" stop-opacity="0.80"/><stop offset="0.071" stop-color="#ff6f00" stop-opacity="0.77"/><stop offset="0.143" stop-color="#ff6b00" stop-opacity="0.73"/><stop offset="0.214" stop-color="#ff6800" stop-opacity="0.70"/><stop offset="0.286" stop-color="#ff6500" stop-opacity="0.66"/><stop offset="0.357" stop-color="#ff6200" stop-opacity="0.63"/><stop offset="0.429" stop-color="#ff5e00" stop-opacity="0.59"/><stop offset="0.500" stop-color="#ff5b00" stop-opacity="0.56"/><stop offset="0.571" stop-color="#ff5400" stop-opacity="0.48"/><stop offset="0.643" stop-color="#ff4d00" stop-opacity="0.40"/><stop offset="0.714" stop-color="#ff4600" stop-opacity="0.32"/><stop offset="0.786" stop-color="#ff3f00" stop-opacity="0.24"/><stop offset="0.857" stop-color="#ff3800" stop-opacity="0.16"/><stop offset="0.929" stop-color="#ff3200" stop-opacity="0.08"/><stop offset="1.000" stop-color="#ff2b00" stop-opacity="0.00"/></radialGradient><radialGradient id="g123"><stop offset="0.000" stop-color="#ff2b00" stop-opacity="0.00"/><stop offset="0.069" stop-color="#ff2b00" stop-opacity="0.00"/><stop offset="0.138" stop-color="#ff2b00" stop-opacity="0.00"/><stop offset="0.207" stop-color="#ff2b00" stop-opacity="0.00"/><stop offset="0.276" stop-color="#ff2b00" stop-opacity="0.00"/><stop offset="0.344" stop-color="#ff2b00" stop-opacity="0.00"/><stop offset="0.413" stop-color="#ff2b00" stop-opacity="0.00"/><stop offset="0.482" stop-color="#ff2b00" stop-opacity="0.00"/><stop offset="0.551" stop-color="#ff2b00" stop-opacity="0.00"/><stop offset="0.620" stop-color="#ff2b00" stop-opacity="0.00"/><stop offset="0.690" stop-color="#ff4400" stop-opacity="0.15"/><stop offset="0.760" stop-color="#ff5c00" stop-opacity="0.30"/><stop offset="0.830" stop-color="#ff4400" stop-opacity="0.15"/><stop offset="0.900" stop-color="#ff2b00" stop-opacity="0.00"/><stop offset="1.000" stop-color="#ff2b00" stop-opacity="0.00"/></radialGradient><radialGradient id="g124"><stop offset="0.000" stop-color="#ff2b00" stop-opacity="0.00"/><stop offset="0.069" stop-color="#ff2b00" stop-opacity="0.00"/><stop offset="0.138" stop-color="#ff2b00" stop-opacity="0.00"/><stop offset="0.207" stop-color="#ff2b00" stop-opacity="0.00"/><stop offset="0.276" stop-color="#ff2b00" stop-opacity="0.00"/><stop offset="0.345" stop-color="#ff2b00" stop-opacity="0.00"/><stop offset="0.415" stop-color="#ff2b00" stop-opacity="0.00"/><stop offset="0.484" stop-color="#ff2b00" stop-opacity="0.00"/><stop offset="0.553" stop-color="#ff2b00" stop-opacity="0.00"/><stop offset="0.622" stop-color="#ff2b00" stop-opacity="0.00"/><stop offset="0.691" stop-color="#ff2b00" stop-opacity="0.00"/><stop offset="0.760" stop-color="#ff2b00" stop-opacity="0.00"/><stop offset="0.815" stop-color="#ff4000" stop-opacity="0.11"/><stop offset="0.870" stop-color="#ff5500" stop-opacity="0.22"/><stop offset="0.970" stop-color="#ff2b00" stop-opacity="0.00"/><stop offset="1.000" stop-color="#ff2b00" stop-opacity="0.00"/></radialGradient><radialGradient id="g125"><stop offset="0.000" stop-color="#ff9700" stop-opacity="1.00"/><stop offset="0.067" stop-color="#ff9400" stop-opacity="1.00"/><stop offset="0.133" stop-color="#ff9100" stop-opacity="1.00"/><stop offset="0.200" stop-color="#ff8e00" stop-opacity="1.00"/><stop offset="0.267" stop-color="#ff8a00" stop-opacity="1.00"/><stop offset="0.333" stop-color="#ff8700" stop-opacity="1.00"/><stop offset="0.400" stop-color="#ff8400" stop-opacity="1.00"/><stop offset="0.475" stop-color="#ff8600" stop-opacity="0.95"/><stop offset="0.550" stop-color="#ff8800" stop-opacity="0.90"/><stop offset="0.625" stop-color="#ff8a00" stop-opacity="0.85"/><stop offset="0.700" stop-color="#ff8c00" stop-opacity="0.80"/><stop offset="0.775" stop-color="#ff7900" stop-opacity="0.60"/><stop offset="0.850" stop-color="#ff6400" stop-opacity="0.40"/><stop offset="0.925" stop-color="#ff4e00" stop-opacity="0.20"/><stop offset="1.000" stop-color="#ff3900" stop-opacity="0.00"/></radialGradient><radialGradient id="g126"><stop offset="0.000" stop-color="#73ff00" stop-opacity="1.00"/><stop offset="0.075" stop-color="#80ff00" stop-opacity="1.00"/><stop offset="0.150" stop-color="#8dff00" stop-opacity="1.00"/><stop offset="0.225" stop-color="#99ff00" stop-opacity="1.00"/><stop offset="0.300" stop-color="#a6ff00" stop-opacity="1.00"/><stop offset="0.362" stop-color="#c0ff00" stop-opacity="1.00"/><stop offset="0.425" stop-color="#d9ff00" stop-opacity="1.00"/><stop offset="0.488" stop-color="#f2ff00" stop-opacity="1.00"/><stop offset="0.550" stop-color="#fff300" stop-opacity="1.00"/><stop offset="0.613" stop-color="#ffdf00" stop-opacity="0.97"/><stop offset="0.675" stop-color="#ffcb00" stop-opacity="0.95"/><stop offset="0.738" stop-color="#ffb700" stop-opacity="0.93"/><stop offset="0.800" stop-color="#ffa300" stop-opacity="0.90"/><stop offset="0.867" stop-color="#ff8800" stop-opacity="0.60"/><stop offset="0.933" stop-color="#ff6800" stop-opacity="0.30"/><stop offset="1.000" stop-color="#ff4700" stop-opacity="0.00"/></radialGradient><radialGradient id="g127"><stop offset="0.000" stop-color="#ffe200" stop-opacity="1.00"/><stop offset="0.067" stop-color="#ffdd00" stop-opacity="1.00"/><stop offset="0.133" stop-color="#ffd800" stop-opacity="1.00"/><stop offset="0.200" stop-color="#ffd300" stop-opacity="1.00"/><stop offset="0.267" stop-color="#ffce00" stop-opacity="1.00"/><stop offset="0.333" stop-color="#ffc900" stop-opacity="1.00"/><stop offset="0.400" stop-color="#ffc400" stop-opacity="1.00"/><stop offset="0.475" stop-color="#ffb600" stop-opacity="0.95"/><stop offset="0.550" stop-color="#ffa800" stop-opacity="0.90"/><stop offset="0.625" stop-color="#ff9a00" stop-opacity="0.85"/><stop offset="0.700" stop-color="#ff8c00" stop-opacity="0.80"/><stop offset="0.775" stop-color="#ff7900" stop-opacity="0.60"/><stop offset="0.850" stop-color="#ff6400" stop-opacity="0.40"/><stop offset="0.925" stop-color="#ff4e00" stop-opacity="0.20"/><stop offset="1.000" stop-color="#ff3900" stop-opacity="0.00"/></radialGradient><radialGradient id="g128"><stop offset="0.000" stop-color="#ffae00" stop-opacity="0.70"/><stop offset="0.071" stop-color="#ffaa00" stop-opacity="0.67"/><stop offset="0.143" stop-color="#ffa600" stop-opacity="0.64"/><stop offset="0.214" stop-color="#ffa100" stop-opacity="0.61"/><stop offset="0.286" stop-color="#ff9d00" stop-opacity="0.58"/><stop offset="0.357" stop-color="#ff9900" stop-opacity="0.55"/><stop offset="0.429" stop-color="#ff9400" stop-opacity="0.52"/><stop offset="0.500" stop-color="#ff9000" stop-opacity="0.49"/><stop offset="0.571" stop-color="#ff8400" stop-opacity="0.42"/><stop offset="0.643" stop-color="#ff7600" stop-opacity="0.35"/><stop offset="0.714" stop-color="#ff6700" stop-opacity="0.28"/><stop offset="0.786" stop-color="#ff5800" stop-opacity="0.21"/><stop offset="0.857" stop-color="#ff4900" stop-opacity="0.14"/><stop offset="0.929" stop-color="#ff3a00" stop-opacity="0.07"/><stop offset="1.000" stop-color="#ff2b00" stop-opacity="0.00"/></radialGradient><radialGradient id="g129"><stop offset="0.000" stop-color="#f000f1" stop-opacity="1.00"/><stop offset="0.100" stop-color="#f000ff" stop-opacity="1.00"/><stop offset="0.200" stop-color="#7800ff" stop-opacity="1.00"/><stop offset="0.273" stop-color="#5810ff" stop-opacity="1.00"/><stop offset="0.347" stop-color="#3820ff" stop-opacity="1.00"/><stop offset="0.420" stop-color="#1830ff" stop-opacity="1.00"/><stop offset="0.520" stop-color="#00c0f3" stop-opacity="1.00"/><stop offset="0.620" stop-color="#14f32f" stop-opacity="1.00"/><stop offset="0.680" stop-color="#60ff00" stop-opacity="1.00"/><stop offset="0.740" stop-color="#c0ff00" stop-opacity="1.00"/><stop offset="0.795" stop-color="#f2ff00" stop-opacity="0.95"/><stop offset="0.850" stop-color="#ffdc00" stop-opacity="0.90"/><stop offset="0.925" stop-color="#ff9d00" stop-opacity="0.45"/><stop offset="1.000" stop-color="#ff5500" stop-opacity="0.00"/></radialGradient><radialGradient id="g130"><stop offset="0.000" stop-color="#ff4e00" stop-opacity="0.90"/><stop offset="0.071" stop-color="#ff4c00" stop-opacity="0.86"/><stop offset="0.143" stop-color="#ff4a00" stop-opacity="0.82"/><stop offset="0.214" stop-color="#ff4800" stop-opacity="0.78"/><stop offset="0.286" stop-color="#ff4500" stop-opacity="0.75"/><stop offset="0.357" stop-color="#ff4300" stop-opacity="0.71"/><stop offset="0.429" stop-color="#ff4100" stop-opacity="0.67"/><stop offset="0.500" stop-color="#ff3f00" stop-opacity="0.63"/><stop offset="0.571" stop-color="#ff3c00" stop-opacity="0.54"/><stop offset="0.643" stop-color="#ff3900" stop-opacity="0.45"/><stop offset="0.714" stop-color="#ff3600" stop-opacity="0.36"/><stop offset="0.786" stop-color="#ff3300" stop-opacity="0.27"/><stop offset="0.857" stop-color="#ff3000" stop-opacity="0.18"/><stop offset="0.929" stop-color="#ff2e00" stop-opacity="0.09"/><stop offset="1.000" stop-color="#ff2b00" stop-opacity="0.00"/></radialGradient><radialGradient id="g131"><stop offset="0.000" stop-color="#ff6b00" stop-opacity="0.80"/><stop offset="0.071" stop-color="#ff6800" stop-opacity="0.77"/><stop offset="0.143" stop-color="#ff6500" stop-opacity="0.73"/><stop offset="0.214" stop-color="#ff6200" stop-opacity="0.70"/><stop offset="0.286" stop-color="#ff5e00" stop-opacity="0.66"/><stop offset="0.357" stop-color="#ff5b00" stop-opacity="0.63"/><stop offset="0.429" stop-color="#ff5800" stop-opacity="0.59"/><stop offset="0.500" stop-color="#ff5500" stop-opacity="0.56"/><stop offset="0.571" stop-color="#ff4f00" stop-opacity="0.48"/><stop offset="0.643" stop-color="#ff4900" stop-opacity="0.40"/><stop offset="0.714" stop-color="#ff4300" stop-opacity="0.32"/><stop offset="0.786" stop-color="#ff3d00" stop-opacity="0.24"/><stop offset="0.857" stop-color="#ff3700" stop-opacity="0.16"/><stop offset="0.929" stop-color="#ff3100" stop-opacity="0.08"/><stop offset="1.000" stop-color="#ff2b00" stop-opacity="0.00"/></radialGradient><radialGradient id="g132"><stop offset="0.000" stop-color="#ff7200" stop-opacity="0.75"/><stop offset="0.071" stop-color="#ff6f00" stop-opacity="0.72"/><stop offset="0.143" stop-color="#ff6b00" stop-opacity="0.69"/><stop offset="0.214" stop-color="#ff6800" stop-opacity="0.65"/><stop offset="0.286" stop-color="#ff6500" stop-opacity="0.62"/><stop offset="0.357" stop-color="#ff6200" stop-opacity="0.59"/><stop offset="0.429" stop-color="#ff5e00" stop-opacity="0.56"/><stop offset="0.500" stop-color="#ff5b00" stop-opacity="0.52"/><stop offset="0.571" stop-color="#ff5400" stop-opacity="0.45"/><stop offset="0.643" stop-color="#ff4d00" stop-opacity="0.37"/><stop offset="0.714" stop-color="#ff4600" stop-opacity="0.30"/><stop offset="0.786" stop-color="#ff3f00" stop-opacity="0.22"/><stop offset="0.857" stop-color="#ff3800" stop-opacity="0.15"/><stop offset="0.929" stop-color="#ff3200" stop-opacity="0.08"/><stop offset="1.000" stop-color="#ff2b00" stop-opacity="0.00"/></radialGradient><radialGradient id="g133"><stop offset="0.000" stop-color="#ff7200" stop-opacity="0.75"/><stop offset="0.071" stop-color="#ff6f00" stop-opacity="0.72"/><stop offset="0.143" stop-color="#ff6b00" stop-opacity="0.69"/><stop offset="0.214" stop-color="#ff6800" stop-opacity="0.65"/><stop offset="0.286" stop-color="#ff6500" stop-opacity="0.62"/><stop offset="0.357" stop-color="#ff6200" stop-opacity="0.59"/><stop offset="0.429" stop-color="#ff5e00" stop-opacity="0.56"/><stop offset="0.500" stop-color="#ff5b00" stop-opacity="0.52"/><stop offset="0.571" stop-color="#ff5400" stop-opacity="0.45"/><stop offset="0.643" stop-color="#ff4d00" stop-opacity="0.37"/><stop offset="0.714" stop-color="#ff4600" stop-opacity="0.30"/><stop offset="0.786" stop-color="#ff3f00" stop-opacity="0.22"/><stop offset="0.857" stop-color="#ff3800" stop-opacity="0.15"/><stop offset="0.929" stop-color="#ff3200" stop-opacity="0.08"/><stop offset="1.000" stop-color="#ff2b00" stop-opacity="0.00"/></radialGradient><radialGradient id="g134"><stop offset="0.000" stop-color="#ff7200" stop-opacity="0.75"/><stop offset="0.071" stop-color="#ff6f00" stop-opacity="0.72"/><stop offset="0.143" stop-color="#ff6b00" stop-opacity="0.69"/><stop offset="0.214" stop-color="#ff6800" stop-opacity="0.65"/><stop offset="0.286" stop-color="#ff6500" stop-opacity="0.62"/><stop offset="0.357" stop-color="#ff6200" stop-opacity="0.59"/><stop offset="0.429" stop-color="#ff5e00" stop-opacity="0.56"/><stop offset="0.500" stop-color="#ff5b00" stop-opacity="0.52"/><stop offset="0.571" stop-color="#ff5400" stop-opacity="0.45"/><stop offset="0.643" stop-color="#ff4d00" stop-opacity="0.37"/><stop offset="0.714" stop-color="#ff4600" stop-opacity="0.30"/><stop offset="0.786" stop-color="#ff3f00" stop-opacity="0.22"/><stop offset="0.857" stop-color="#ff3800" stop-opacity="0.15"/><stop offset="0.929" stop-color="#ff3200" stop-opacity="0.08"/><stop offset="1.000" stop-color="#ff2b00" stop-opacity="0.00"/></radialGradient><radialGradient id="g135"><stop offset="0.000" stop-color="#ff7200" stop-opacity="0.75"/><stop offset="0.071" stop-color="#ff6f00" stop-opacity="0.72"/><stop offset="0.143" stop-color="#ff6b00" stop-opacity="0.69"/><stop offset="0.214" stop-color="#ff6800" stop-opacity="0.65"/><stop offset="0.286" stop-color="#ff6500" stop-opacity="0.62"/><stop offset="0.357" stop-color="#ff6200" stop-opacity="0.59"/><stop offset="0.429" stop-color="#ff5e00" stop-opacity="0.56"/><stop offset="0.500" stop-color="#ff5b00" stop-opacity="0.52"/><stop offset="0.571" stop-color="#ff5400" stop-opacity="0.45"/><stop offset="0.643" stop-color="#ff4d00" stop-opacity="0.37"/><stop offset="0.714" stop-color="#ff4600" stop-opacity="0.30"/><stop offset="0.786" stop-color="#ff3f00" stop-opacity="0.22"/><stop offset="0.857" stop-color="#ff3800" stop-opacity="0.15"/><stop offset="0.929" stop-color="#ff3200" stop-opacity="0.08"/><stop offset="1.000" stop-color="#ff2b00" stop-opacity="0.00"/></radialGradient><radialGradient id="g136"><stop offset="0.000" stop-color="#ff7200" stop-opacity="0.75"/><stop offset="0.071" stop-color="#ff6f00" stop-opacity="0.72"/><stop offset="0.143" stop-color="#ff6b00" stop-opacity="0.69"/><stop offset="0.214" stop-color="#ff6800" stop-opacity="0.65"/><stop offset="0.286" stop-color="#ff6500" stop-opacity="0.62"/><stop offset="0.357" stop-color="#ff6200" stop-opacity="0.59"/><stop offset="0.429" stop-color="#ff5e00" stop-opacity="0.56"/><stop offset="0.500" stop-color="#ff5b00" stop-opacity="0.52"/><stop offset="0.571" stop-color="#ff5400" stop-opacity="0.45"/><stop offset="0.643" stop-color="#ff4d00" stop-opacity="0.37"/><stop offset="0.714" stop-color="#ff4600" stop-opacity="0.30"/><stop offset="0.786" stop-color="#ff3f00" stop-opacity="0.22"/><stop offset="0.857" stop-color="#ff3800" stop-opacity="0.15"/><stop offset="0.929" stop-color="#ff3200" stop-opacity="0.08"/><stop offset="1.000" stop-color="#ff2b00" stop-opacity="0.00"/></radialGradient><radialGradient id="g137"><stop offset="0.000" stop-color="#ff7200" stop-opacity="0.75"/><stop offset="0.071" stop-color="#ff6f00" stop-opacity="0.72"/><stop offset="0.143" stop-color="#ff6b00" stop-opacity="0.69"/><stop offset="0.214" stop-color="#ff6800" stop-opacity="0.65"/><stop offset="0.286" stop-color="#ff6500" stop-opacity="0.62"/><stop offset="0.357" stop-color="#ff6200" stop-opacity="0.59"/><stop offset="0.429" stop-color="#ff5e00" stop-opacity="0.56"/><stop offset="0.500" stop-color="#ff5b00" stop-opacity="0.52"/><stop offset="0.571" stop-color="#ff5400" stop-opacity="0.45"/><stop offset="0.643" stop-color="#ff4d00" stop-opacity="0.37"/><stop offset="0.714" stop-color="#ff4600" stop-opacity="0.30"/><stop offset="0.786" stop-color="#ff3f00" stop-opacity="0.22"/><stop offset="0.857" stop-color="#ff3800" stop-opacity="0.15"/><stop offset="0.929" stop-color="#ff3200" stop-opacity="0.08"/><stop offset="1.000" stop-color="#ff2b00" stop-opacity="0.00"/></radialGradient><radialGradient id="g138"><stop offset="0.000" stop-color="#ff7200" stop-opacity="0.75"/><stop offset="0.071" stop-color="#ff6f00" stop-opacity="0.72"/><stop offset="0.143" stop-color="#ff6b00" stop-opacity="0.69"/><stop offset="0.214" stop-color="#ff6800" stop-opacity="0.65"/><stop offset="0.286" stop-color="#ff6500" stop-opacity="0.62"/><stop offset="0.357" stop-color="#ff6200" stop-opacity="0.59"/><stop offset="0.429" stop-color="#ff5e00" stop-opacity="0.56"/><stop offset="0.500" stop-color="#ff5b00" stop-opacity="0.52"/><stop offset="0.571" stop-color="#ff5400" stop-opacity="0.45"/><stop offset="0.643" stop-color="#ff4d00" stop-opacity="0.37"/><stop offset="0.714" stop-color="#ff4600" stop-opacity="0.30"/><stop offset="0.786" stop-color="#ff3f00" stop-opacity="0.22"/><stop offset="0.857" stop-color="#ff3800" stop-opacity="0.15"/><stop offset="0.929" stop-color="#ff3200" stop-opacity="0.08"/><stop offset="1.000" stop-color="#ff2b00" stop-opacity="0.00"/></radialGradient><radialGradient id="g139"><stop offset="0.000" stop-color="#ff7200" stop-opacity="0.75"/><stop offset="0.071" stop-color="#ff6f00" stop-opacity="0.72"/><stop offset="0.143" stop-color="#ff6b00" stop-opacity="0.69"/><stop offset="0.214" stop-color="#ff6800" stop-opacity="0.65"/><stop offset="0.286" stop-color="#ff6500" stop-opacity="0.62"/><stop offset="0.357" stop-color="#ff6200" stop-opacity="0.59"/><stop offset="0.429" stop-color="#ff5e00" stop-opacity="0.56"/><stop offset="0.500" stop-color="#ff5b00" stop-opacity="0.52"/><stop offset="0.571" stop-color="#ff5400" stop-opacity="0.45"/><stop offset="0.643" stop-color="#ff4d00" stop-opacity="0.37"/><stop offset="0.714" stop-color="#ff4600" stop-opacity="0.30"/><stop offset="0.786" stop-color="#ff3f00" stop-opacity="0.22"/><stop offset="0.857" stop-color="#ff3800" stop-opacity="0.15"/><stop offset="0.929" stop-color="#ff3200" stop-opacity="0.08"/><stop offset="1.000" stop-color="#ff2b00" stop-opacity="0.00"/></radialGradient><radialGradient id="g140"><stop offset="0.000" stop-color="#ff7200" stop-opacity="0.75"/><stop offset="0.071" stop-color="#ff6f00" stop-opacity="0.72"/><stop offset="0.143" stop-color="#ff6b00" stop-opacity="0.69"/><stop offset="0.214" stop-color="#ff6800" stop-opacity="0.65"/><stop offset="0.286" stop-color="#ff6500" stop-opacity="0.62"/><stop offset="0.357" stop-color="#ff6200" stop-opacity="0.59"/><stop offset="0.429" stop-color="#ff5e00" stop-opacity="0.56"/><stop offset="0.500" stop-color="#ff5b00" stop-opacity="0.52"/><stop offset="0.571" stop-color="#ff5400" stop-opacity="0.45"/><stop offset="0.643" stop-color="#ff4d00" stop-opacity="0.37"/><stop offset="0.714" stop-color="#ff4600" stop-opacity="0.30"/><stop offset="0.786" stop-color="#ff3f00" stop-opacity="0.22"/><stop offset="0.857" stop-color="#ff3800" stop-opacity="0.15"/><stop offset="0.929" stop-color="#ff3200" stop-opacity="0.08"/><stop offset="1.000" stop-color="#ff2b00" stop-opacity="0.00"/></radialGradient><radialGradient id="g141"><stop offset="0.000" stop-color="#ff7200" stop-opacity="0.75"/><stop offset="0.071" stop-color="#ff6f00" stop-opacity="0.72"/><stop offset="0.143" stop-color="#ff6b00" stop-opacity="0.69"/><stop offset="0.214" stop-color="#ff6800" stop-opacity="0.65"/><stop offset="0.286" stop-color="#ff6500" stop-opacity="0.62"/><stop offset="0.357" stop-color="#ff6200" stop-opacity="0.59"/><stop offset="0.429" stop-color="#ff5e00" stop-opacity="0.56"/><stop offset="0.500" stop-color="#ff5b00" stop-opacity="0.52"/><stop offset="0.571" stop-color="#ff5400" stop-opacity="0.45"/><stop offset="0.643" stop-color="#ff4d00" stop-opacity="0.37"/><stop offset="0.714" stop-color="#ff4600" stop-opacity="0.30"/><stop offset="0.786" stop-color="#ff3f00" stop-opacity="0.22"/><stop offset="0.857" stop-color="#ff3800" stop-opacity="0.15"/><stop offset="0.929" stop-color="#ff3200" stop-opacity="0.08"/><stop offset="1.000" stop-color="#ff2b00" stop-opacity="0.00"/></radialGradient><radialGradient id="g142"><stop offset="0.000" stop-color="#ffee00" stop-opacity="1.00"/><stop offset="0.067" stop-color="#ffe800" stop-opacity="1.00"/><stop offset="0.133" stop-color="#ffe300" stop-opacity="1.00"/><stop offset="0.200" stop-color="#ffde00" stop-opacity="1.00"/><stop offset="0.267" stop-color="#ffd800" stop-opacity="1.00"/><stop offset="0.333" stop-color="#ffd300" stop-opacity="1.00"/><stop offset="0.400" stop-color="#ffce00" stop-opacity="1.00"/><stop offset="0.475" stop-color="#ffbd00" stop-opacity="0.95"/><stop offset="0.550" stop-color="#ffad00" stop-opacity="0.90"/><stop offset="0.625" stop-color="#ff9c00" stop-opacity="0.85"/><stop offset="0.700" stop-color="#ff8c00" stop-opacity="0.80"/><stop offset="0.775" stop-color="#ff7900" stop-opacity="0.60"/><stop offset="0.850" stop-color="#ff6400" stop-opacity="0.40"/><stop offset="0.925" stop-color="#ff4e00" stop-opacity="0.20"/><stop offset="1.000" stop-color="#ff3900" stop-opacity="0.00"/></radialGradient><radialGradient id="g143"><stop offset="0.000" stop-color="#ffdc00" stop-opacity="1.00"/><stop offset="0.067" stop-color="#ffd700" stop-opacity="1.00"/><stop offset="0.133" stop-color="#ffd300" stop-opacity="1.00"/><stop offset="0.200" stop-color="#ffce00" stop-opacity="1.00"/><stop offset="0.267" stop-color="#ffc900" stop-opacity="1.00"/><stop offset="0.333" stop-color="#ffc400" stop-opacity="1.00"/><stop offset="0.400" stop-color="#ffbf00" stop-opacity="1.00"/><stop offset="0.475" stop-color="#ffb200" stop-opacity="0.95"/><stop offset="0.550" stop-color="#ffa500" stop-opacity="0.90"/><stop offset="0.625" stop-color="#ff9800" stop-opacity="0.85"/><stop offset="0.700" stop-color="#ff8c00" stop-opacity="0.80"/><stop offset="0.775" stop-color="#ff7900" stop-opacity="0.60"/><stop offset="0.850" stop-color="#ff6400" stop-opacity="0.40"/><stop offset="0.925" stop-color="#ff4e00" stop-opacity="0.20"/><stop offset="1.000" stop-color="#ff3900" stop-opacity="0.00"/></radialGradient><radialGradient id="g144"><stop offset="0.000" stop-color="#ffba00" stop-opacity="1.00"/><stop offset="0.067" stop-color="#ffb600" stop-opacity="1.00"/><stop offset="0.133" stop-color="#ffb200" stop-opacity="1.00"/><stop offset="0.200" stop-color="#ffae00" stop-opacity="1.00"/><stop offset="0.267" stop-color="#ffaa00" stop-opacity="1.00"/><stop offset="0.333" stop-color="#ffa600" stop-opacity="1.00"/><stop offset="0.400" stop-color="#ffa100" stop-opacity="1.00"/><stop offset="0.475" stop-color="#ff9c00" stop-opacity="0.95"/><stop offset="0.550" stop-color="#ff9700" stop-opacity="0.90"/><stop offset="0.625" stop-color="#ff9100" stop-opacity="0.85"/><stop offset="0.700" stop-color="#ff8c00" stop-opacity="0.80"/><stop offset="0.775" stop-color="#ff7900" stop-opacity="0.60"/><stop offset="0.850" stop-color="#ff6400" stop-opacity="0.40"/><stop offset="0.925" stop-color="#ff4e00" stop-opacity="0.20"/><stop offset="1.000" stop-color="#ff3900" stop-opacity="0.00"/></radialGradient><radialGradient id="g145"><stop offset="0.000" stop-color="#ffe800" stop-opacity="1.00"/><stop offset="0.067" stop-color="#ffe300" stop-opacity="1.00"/><stop offset="0.133" stop-color="#ffde00" stop-opacity="1.00"/><stop offset="0.200" stop-color="#ffd800" stop-opacity="1.00"/><stop offset="0.267" stop-color="#ffd300" stop-opacity="1.00"/><stop offset="0.333" stop-color="#ffce00" stop-opacity="1.00"/><stop offset="0.400" stop-color="#ffc900" stop-opacity="1.00"/><stop offset="0.475" stop-color="#ffb900" stop-opacity="0.95"/><stop offset="0.550" stop-color="#ffaa00" stop-opacity="0.90"/><stop offset="0.625" stop-color="#ff9b00" stop-opacity="0.85"/><stop offset="0.700" stop-color="#ff8c00" stop-opacity="0.80"/><stop offset="0.775" stop-color="#ff7900" stop-opacity="0.60"/><stop offset="0.850" stop-color="#ff6400" stop-opacity="0.40"/><stop offset="0.925" stop-color="#ff4e00" stop-opacity="0.20"/><stop offset="1.000" stop-color="#ff3900" stop-opacity="0.00"/></radialGradient><radialGradient id="g146"><stop offset="0.000" stop-color="#ffae00" stop-opacity="1.00"/><stop offset="0.067" stop-color="#ffaa00" stop-opacity="1.00"/><stop offset="0.133" stop-color="#ffa700" stop-opacity="1.00"/><stop offset="0.200" stop-color="#ffa300" stop-opacity="1.00"/><stop offset="0.267" stop-color="#ff9f00" stop-opacity="1.00"/><stop offset="0.333" stop-color="#ff9b00" stop-opacity="1.00"/><stop offset="0.400" stop-color="#ff9800" stop-opacity="1.00"/><stop offset="0.475" stop-color="#ff9500" stop-opacity="0.95"/><stop offset="0.550" stop-color="#ff9200" stop-opacity="0.90"/><stop offset="0.625" stop-color="#ff8f00" stop-opacity="0.85"/><stop offset="0.700" stop-color="#ff8c00" stop-opacity="0.80"/><stop offset="0.775" stop-color="#ff7900" stop-opacity="0.60"/><stop offset="0.850" stop-color="#ff6400" stop-opacity="0.40"/><stop offset="0.925" stop-color="#ff4e00" stop-opacity="0.20"/><stop offset="1.000" stop-color="#ff3900" stop-opacity="0.00"/></radialGradient><radialGradient id="g147"><stop offset="0.000" stop-color="#7800ff" stop-opacity="1.00"/><stop offset="0.080" stop-color="#600cff" stop-opacity="1.00"/><stop offset="0.160" stop-color="#4818ff" stop-opacity="1.00"/><stop offset="0.240" stop-color="#1830ff" stop-opacity="1.00"/><stop offset="0.320" stop-color="#005dfc" stop-opacity="1.00"/><stop offset="0.380" stop-color="#009ff6" stop-opacity="1.00"/><stop offset="0.440" stop-color="#00e1f0" stop-opacity="1.00"/><stop offset="0.500" stop-color="#00ea80" stop-opacity="1.00"/><stop offset="0.560" stop-color="#14f32f" stop-opacity="1.00"/><stop offset="0.620" stop-color="#3cfa14" stop-opacity="1.00"/><stop offset="0.680" stop-color="#67ff00" stop-opacity="1.00"/><stop offset="0.780" stop-color="#ffff00" stop-opacity="1.00"/><stop offset="0.840" stop-color="#ffd100" stop-opacity="0.95"/><stop offset="0.900" stop-color="#ffa300" stop-opacity="0.90"/><stop offset="1.000" stop-color="#ff4700" stop-opacity="0.00"/></radialGradient><linearGradient id="cb" x1="0" x2="1" y1="0" y2="0"><stop offset="0.00" stop-color="#ff0000"/><stop offset="0.09" stop-color="#ff8000"/><stop offset="0.20" stop-color="#ffff00"/><stop offset="0.32" stop-color="#80ff00"/><stop offset="0.43" stop-color="#00eb00"/><stop offset="0.52" stop-color="#00a078"/><stop offset="0.61" stop-color="#0028ff"/><stop offset="0.71" stop-color="#6e00ff"/><stop offset="0.80" stop-color="#ff00ff"/><stop offset="0.90" stop-color="#64006e"/><stop offset="1.00" stop-color="#000000"/></linearGradient><clipPath id="chartclip"><rect x="444.4" y="54.5" width="240.2" height="174.2"/></clipPath></defs>
<svg x="35.2" y="23.5" width="71.8" height="71.4" viewBox="0 0 72 72" preserveAspectRatio="none" overflow="hidden"><rect width="72" height="72" fill="#ff0000"/><g clip-path="url(#c00)"><rect width="72" height="72" fill="#ff8c00"/><ellipse cx="0" cy="0" rx="14.00" ry="9.00" transform="translate(28.00 6.00) rotate(-30.0)" fill="url(#g1)"/><ellipse cx="0" cy="0" rx="12.00" ry="14.00" transform="translate(60.00 14.00) rotate(30.0)" fill="url(#g2)"/><ellipse cx="0" cy="0" rx="18.00" ry="16.00" transform="translate(19.00 50.00) rotate(40.0)" fill="url(#g3)"/><ellipse cx="0" cy="0" rx="10.00" ry="19.00" transform="translate(31.00 26.00) rotate(25.0)" fill="url(#g4)"/><ellipse cx="0" cy="0" rx="9.00" ry="8.00" transform="translate(44.00 15.00) rotate(0.0)" fill="url(#g5)"/><ellipse cx="0" cy="0" rx="12.50" ry="27.00" transform="translate(12.50 17.00) rotate(36.0)" fill="url(#g6)"/><ellipse cx="0" cy="0" rx="5.80" ry="10.50" transform="translate(11.30 22.10) rotate(28.0)" fill="url(#g7)"/><ellipse cx="0" cy="0" rx="34.00" ry="21.00" transform="translate(47.00 43.50) rotate(-36.0)" fill="url(#g8)"/><ellipse cx="0" cy="0" rx="18.50" ry="9.20" transform="translate(48.80 41.60) rotate(-34.0)" fill="url(#g9)"/><ellipse cx="0" cy="0" rx="6.00" ry="3.80" transform="translate(52.00 41.40) rotate(-28.0)" fill="url(#g10)"/></g></svg>
<svg x="107.0" y="23.5" width="71.8" height="71.4" viewBox="0 0 72 72" preserveAspectRatio="none" overflow="hidden"><rect width="72" height="72" fill="#ff0000"/><g clip-path="url(#c01)"><rect width="72" height="72" fill="#ff6400"/><ellipse cx="0" cy="0" rx="21.50" ry="20.00" transform="translate(34.50 27.50) rotate(0.0)" fill="url(#g11)"/><ellipse cx="0" cy="0" rx="13.00" ry="12.00" transform="translate(30.00 23.50) rotate(0.0)" fill="url(#g12)"/><ellipse cx="0" cy="0" rx="9.80" ry="10.20" transform="translate(41.20 32.00) rotate(20.0)" fill="url(#g13)"/></g></svg>
<svg x="178.8" y="23.5" width="71.7" height="71.4" viewBox="0 0 72 72" preserveAspectRatio="none" overflow="hidden"><rect width="72" height="72" fill="#ff0000"/><g clip-path="url(#c02)"><rect width="72" height="72" fill="#ffd700"/><ellipse cx="0" cy="0" rx="50.00" ry="15.00" transform="translate(40.00 1.00) rotate(0.0)" fill="url(#g14)"/><ellipse cx="0" cy="0" rx="9.00" ry="16.00" transform="translate(67.00 14.00) rotate(0.0)" fill="url(#g15)"/><ellipse cx="0" cy="0" rx="20.00" ry="24.00" transform="translate(0.00 2.00) rotate(0.0)" fill="url(#g16)"/><ellipse cx="0" cy="0" rx="9.00" ry="6.00" transform="translate(7.00 62.00) rotate(-20.0)" fill="url(#g17)"/><ellipse cx="0" cy="0" rx="13.00" ry="10.00" transform="translate(12.00 26.00) rotate(-30.0)" fill="url(#g18)"/><ellipse cx="0" cy="0" rx="36.00" ry="29.00" transform="translate(48.00 44.00) rotate(6.0)" fill="url(#g19)"/><ellipse cx="0" cy="0" rx="13.50" ry="13.00" transform="translate(38.00 35.30) rotate(0.0)" fill="url(#g20)"/></g></svg>
<svg x="250.5" y="23.5" width="70.9" height="71.4" viewBox="0 0 72 72" preserveAspectRatio="none" overflow="hidden"><rect width="72" height="72" fill="#ff0000"/><g clip-path="url(#c03)"><rect width="72" height="72" fill="#ff7200"/><ellipse cx="0" cy="0" rx="17.20" ry="17.20" transform="translate(34.90 27.40) rotate(0.0)" fill="url(#g21)"/></g></svg>
<svg x="321.4" y="23.5" width="71.7" height="71.4" viewBox="0 0 72 72" preserveAspectRatio="none" overflow="hidden"><rect width="72" height="72" fill="#ff0000"/><g clip-path="url(#c04)"><rect width="72" height="72" fill="#ff6400"/><ellipse cx="0" cy="0" rx="19.50" ry="20.00" transform="translate(32.00 26.30) rotate(0.0)" fill="url(#g22)"/></g></svg>
<svg x="35.2" y="106.0" width="71.8" height="72.1" viewBox="0 0 72 72" preserveAspectRatio="none" overflow="hidden"><rect width="72" height="72" fill="#ff0000"/><g clip-path="url(#c00)"><rect width="72" height="72" fill="#32f81b"/><ellipse cx="0" cy="0" rx="12.00" ry="16.00" transform="translate(23.00 47.00) rotate(20.0)" fill="url(#g23)"/><ellipse cx="0" cy="0" rx="12.00" ry="8.00" transform="translate(36.00 3.00) rotate(0.0)" fill="url(#g24)"/><ellipse cx="0" cy="0" rx="12.00" ry="9.00" transform="translate(56.00 8.00) rotate(0.0)" fill="url(#g25)"/><ellipse cx="0" cy="0" rx="27.00" ry="47.00" transform="translate(3.00 19.00) rotate(30.0)" fill="url(#g26)"/><ellipse cx="0" cy="0" rx="18.50" ry="29.00" transform="translate(54.50 38.00) rotate(20.0)" fill="url(#g27)"/><ellipse cx="0" cy="0" rx="9.00" ry="7.00" transform="translate(21.00 58.00) rotate(30.0)" fill="url(#g28)"/></g></svg>
<svg x="107.0" y="106.0" width="71.8" height="72.1" viewBox="0 0 72 72" preserveAspectRatio="none" overflow="hidden"><rect width="72" height="72" fill="#ff0000"/><g clip-path="url(#c11)"><rect width="72" height="72" fill="#28f721"/><ellipse cx="0" cy="0" rx="10.00" ry="8.00" transform="translate(22.50 39.00) rotate(0.0)" fill="url(#g29)"/><ellipse cx="0" cy="0" rx="15.00" ry="10.00" transform="translate(26.50 12.50) rotate(-10.0)" fill="url(#g30)"/><ellipse cx="0" cy="0" rx="19.00" ry="6.50" transform="translate(36.00 23.50) rotate(-12.0)" fill="url(#g31)"/><ellipse cx="0" cy="0" rx="10.00" ry="5.50" transform="translate(45.00 17.00) rotate(30.0)" fill="url(#g32)"/><ellipse cx="0" cy="0" rx="17.00" ry="12.50" transform="translate(43.50 34.50) rotate(8.0)" fill="url(#g33)"/><ellipse cx="0" cy="0" rx="11.00" ry="6.50" transform="translate(34.00 47.00) rotate(0.0)" fill="url(#g34)"/></g></svg>
<svg x="178.8" y="106.0" width="71.7" height="72.1" viewBox="0 0 72 72" preserveAspectRatio="none" overflow="hidden"><rect width="72" height="72" fill="#ff0000"/><g clip-path="url(#c12)"><rect width="72" height="72" fill="#32f81b"/><ellipse cx="0" cy="0" rx="27.00" ry="13.00" transform="translate(31.00 36.00) rotate(3.0)" fill="url(#g35)"/><ellipse cx="0" cy="0" rx="30.00" ry="38.00" transform="translate(0.00 9.00) rotate(-8.0)" fill="url(#g36)"/><ellipse cx="0" cy="0" rx="27.00" ry="21.00" transform="translate(47.00 7.00) rotate(5.0)" fill="url(#g37)"/><ellipse cx="0" cy="0" rx="6.00" ry="10.00" transform="translate(34.00 20.00) rotate(-10.0)" fill="url(#g38)"/><ellipse cx="0" cy="0" rx="12.00" ry="7.00" transform="translate(58.00 66.00) rotate(0.0)" fill="url(#g39)"/><ellipse cx="0" cy="0" rx="31.00" ry="13.00" transform="translate(30.00 56.00) rotate(4.0)" fill="url(#g40)"/><ellipse cx="0" cy="0" rx="13.00" ry="9.00" transform="translate(49.00 54.00) rotate(-20.0)" fill="url(#g41)"/><ellipse cx="0" cy="0" rx="12.00" ry="7.00" transform="translate(14.00 53.00) rotate(12.0)" fill="url(#g42)"/><ellipse cx="0" cy="0" rx="6.00" ry="8.00" transform="translate(4.00 46.00) rotate(0.0)" fill="url(#g43)"/><ellipse cx="0" cy="0" rx="8.50" ry="24.00" transform="translate(70.00 45.00) rotate(0.0)" fill="url(#g44)"/></g></svg>
<svg x="250.5" y="106.0" width="70.9" height="72.1" viewBox="0 0 72 72" preserveAspectRatio="none" overflow="hidden"><rect width="72" height="72" fill="#ff0000"/><g clip-path="url(#c13)"><rect width="72" height="72" fill="#0af235"/><ellipse cx="0" cy="0" rx="12.00" ry="9.00" transform="translate(28.00 17.00) rotate(0.0)" fill="url(#g45)"/><ellipse cx="0" cy="0" rx="10.00" ry="9.00" transform="translate(27.00 36.50) rotate(0.0)" fill="url(#g46)"/><ellipse cx="0" cy="0" rx="10.00" ry="6.00" transform="translate(36.00 42.00) rotate(0.0)" fill="url(#g47)"/><ellipse cx="0" cy="0" rx="8.00" ry="10.00" transform="translate(17.50 25.50) rotate(0.0)" fill="url(#g48)"/><ellipse cx="0" cy="0" rx="9.50" ry="5.00" transform="translate(38.30 19.60) rotate(25.0)" fill="url(#g49)"/><ellipse cx="0" cy="0" rx="7.60" ry="7.20" transform="translate(39.00 31.00) rotate(0.0)" fill="url(#g50)"/></g></svg>
<svg x="321.4" y="106.0" width="71.7" height="72.1" viewBox="0 0 72 72" preserveAspectRatio="none" overflow="hidden"><rect width="72" height="72" fill="#ff0000"/><g clip-path="url(#c14)"><rect width="72" height="72" fill="#00e2e5"/><ellipse cx="0" cy="0" rx="8.00" ry="6.50" transform="translate(29.50 23.70) rotate(0.0)" fill="url(#g51)"/><ellipse cx="0" cy="0" rx="7.50" ry="7.00" transform="translate(37.70 35.50) rotate(0.0)" fill="url(#g52)"/><ellipse cx="0" cy="0" rx="8.00" ry="5.00" transform="translate(41.00 15.00) rotate(20.0)" fill="url(#g53)"/><ellipse cx="0" cy="0" rx="6.50" ry="11.00" transform="translate(47.00 30.00) rotate(0.0)" fill="url(#g54)"/><ellipse cx="0" cy="0" rx="13.00" ry="5.50" transform="translate(27.00 33.00) rotate(12.0)" fill="url(#g55)"/><ellipse cx="0" cy="0" rx="10.00" ry="8.50" transform="translate(18.50 35.50) rotate(0.0)" fill="url(#g56)"/><ellipse cx="0" cy="0" rx="5.00" ry="4.60" transform="translate(20.30 39.00) rotate(0.0)" fill="url(#g57)"/><ellipse cx="0" cy="0" rx="8.50" ry="7.50" transform="translate(35.30 45.50) rotate(0.0)" fill="url(#g58)"/></g></svg>
<svg x="35.2" y="211.1" width="71.8" height="71.1" viewBox="0 0 72 72" preserveAspectRatio="none" overflow="hidden"><rect width="72" height="72" fill="#ff0000"/><g filter="url(#b05)"><ellipse cx="0" cy="0" rx="40.00" ry="36.00" transform="translate(36.00 36.00) rotate(-30.0)" fill="url(#g59)"/><ellipse cx="0" cy="0" rx="26.00" ry="20.00" transform="translate(36.00 36.00) rotate(-30.0)" fill="url(#g60)"/><ellipse cx="0" cy="0" rx="12.00" ry="1.80" transform="translate(53.00 11.00) rotate(-50.0)" fill="url(#g61)"/><ellipse cx="0" cy="0" rx="13.00" ry="1.80" transform="translate(59.00 17.00) rotate(-56.0)" fill="url(#g62)"/><ellipse cx="0" cy="0" rx="13.00" ry="1.80" transform="translate(64.00 25.00) rotate(-64.0)" fill="url(#g63)"/><ellipse cx="0" cy="0" rx="12.00" ry="1.80" transform="translate(67.00 34.00) rotate(-74.0)" fill="url(#g64)"/><ellipse cx="0" cy="0" rx="13.00" ry="2.00" transform="translate(12.00 53.00) rotate(-32.0)" fill="url(#g65)"/><ellipse cx="0" cy="0" rx="12.00" ry="2.00" transform="translate(20.00 60.00) rotate(-40.0)" fill="url(#g66)"/><ellipse cx="0" cy="0" rx="8.00" ry="2.00" transform="translate(7.00 45.00) rotate(-25.0)" fill="url(#g67)"/><ellipse cx="0" cy="0" rx="9.00" ry="2.00" transform="translate(30.00 63.00) rotate(-50.0)" fill="url(#g68)"/><ellipse cx="0" cy="0" rx="18.00" ry="13.00" transform="translate(34.00 34.00) rotate(-20.0)" fill="url(#g69)"/><ellipse cx="0" cy="0" rx="10.20" ry="6.40" transform="translate(21.70 29.80) rotate(32.0)" fill="url(#g70)"/><ellipse cx="0" cy="0" rx="13.50" ry="5.20" transform="translate(41.00 19.50) rotate(-50.0)" fill="url(#g71)"/><ellipse cx="0" cy="0" rx="7.00" ry="2.40" transform="translate(53.00 6.50) rotate(-55.0)" fill="url(#g72)"/><ellipse cx="0" cy="0" rx="4.00" ry="4.40" transform="translate(45.50 30.00) rotate(10.0)" fill="url(#g73)"/><ellipse cx="0" cy="0" rx="6.60" ry="7.00" transform="translate(37.00 40.30) rotate(-15.0)" fill="url(#g74)"/><ellipse cx="0" cy="0" rx="4.70" ry="7.30" transform="translate(48.10 46.80) rotate(20.0)" fill="url(#g75)"/><ellipse cx="0" cy="0" rx="3.50" ry="6.80" transform="translate(54.80 49.50) rotate(14.0)" fill="url(#g76)"/><ellipse cx="0" cy="0" rx="8.50" ry="3.20" transform="translate(21.70 45.20) rotate(-35.0)" fill="url(#g77)"/><ellipse cx="0" cy="0" rx="5.00" ry="3.60" transform="translate(35.20 52.00) rotate(-25.0)" fill="url(#g78)"/><ellipse cx="0" cy="0" rx="5.50" ry="3.00" transform="translate(13.70 42.50) rotate(-30.0)" fill="url(#g79)"/><ellipse cx="0" cy="0" rx="3.80" ry="2.80" transform="translate(29.50 37.00) rotate(0.0)" fill="url(#g80)"/><ellipse cx="0" cy="0" rx="3.20" ry="4.20" transform="translate(44.00 56.00) rotate(0.0)" fill="url(#g81)"/></g></svg>
<svg x="107.0" y="211.1" width="71.8" height="71.1" viewBox="0 0 72 72" preserveAspectRatio="none" overflow="hidden"><rect width="72" height="72" fill="#ff0000"/><g filter="url(#b05)"><ellipse cx="0" cy="0" rx="38.00" ry="36.00" transform="translate(36.00 34.00) rotate(0.0)" fill="url(#g82)"/><ellipse cx="0" cy="0" rx="22.00" ry="26.00" transform="translate(36.00 33.00) rotate(-20.0)" fill="url(#g83)"/><ellipse cx="0" cy="0" rx="15.00" ry="19.00" transform="translate(36.00 34.00) rotate(-20.0)" fill="url(#g84)"/><ellipse cx="0" cy="0" rx="5.00" ry="11.00" transform="translate(17.00 26.00) rotate(20.0)" fill="url(#g85)"/><ellipse cx="0" cy="0" rx="5.00" ry="11.00" transform="translate(55.00 28.00) rotate(-10.0)" fill="url(#g86)"/><ellipse cx="0" cy="0" rx="8.00" ry="3.00" transform="translate(52.00 14.00) rotate(30.0)" fill="url(#g87)"/><ellipse cx="0" cy="0" rx="7.00" ry="4.20" transform="translate(21.50 10.00) rotate(-20.0)" fill="url(#g88)"/><ellipse cx="0" cy="0" rx="7.50" ry="5.20" transform="translate(50.40 58.00) rotate(25.0)" fill="url(#g89)"/><ellipse cx="0" cy="0" rx="5.00" ry="4.00" transform="translate(22.00 47.70) rotate(0.0)" fill="url(#g90)"/><ellipse cx="0" cy="0" rx="6.20" ry="13.50" transform="translate(31.40 21.80) rotate(12.0)" fill="url(#g91)"/><ellipse cx="0" cy="0" rx="3.80" ry="4.80" transform="translate(32.70 16.50) rotate(0.0)" fill="url(#g92)"/><ellipse cx="0" cy="0" rx="3.20" ry="5.50" transform="translate(30.40 26.50) rotate(10.0)" fill="url(#g93)"/><ellipse cx="0" cy="0" rx="10.00" ry="6.40" transform="translate(34.40 36.60) rotate(-58.0)" fill="url(#g94)"/><ellipse cx="0" cy="0" rx="6.00" ry="9.40" transform="translate(44.70 44.80) rotate(18.0)" fill="url(#g95)"/></g></svg>
<svg x="178.8" y="211.1" width="71.7" height="71.1" viewBox="0 0 72 72" preserveAspectRatio="none" overflow="hidden"><rect width="72" height="72" fill="#ff0000"/><g filter="url(#b05)"><ellipse cx="0" cy="0" rx="38.00" ry="34.00" transform="translate(38.00 34.00) rotate(0.0)" fill="url(#g96)"/><ellipse cx="0" cy="0" rx="24.00" ry="24.00" transform="translate(36.00 35.00) rotate(0.0)" fill="url(#g97)"/><ellipse cx="0" cy="0" rx="17.00" ry="20.00" transform="translate(35.00 35.00) rotate(0.0)" fill="url(#g98)"/><ellipse cx="0" cy="0" rx="13.00" ry="1.30" transform="translate(55.00 12.50) rotate(-3.0)" fill="url(#g99)"/><ellipse cx="0" cy="0" rx="13.00" ry="1.30" transform="translate(55.00 16.50) rotate(-3.0)" fill="url(#g100)"/><ellipse cx="0" cy="0" rx="13.00" ry="1.30" transform="translate(55.00 20.50) rotate(-3.0)" fill="url(#g101)"/><ellipse cx="0" cy="0" rx="13.00" ry="1.30" transform="translate(55.00 24.50) rotate(-3.0)" fill="url(#g102)"/><ellipse cx="0" cy="0" rx="13.00" ry="1.30" transform="translate(55.00 28.50) rotate(-3.0)" fill="url(#g103)"/><ellipse cx="0" cy="0" rx="15.00" ry="4.40" transform="translate(12.00 31.00) rotate(0.0)" fill="url(#g104)"/><ellipse cx="0" cy="0" rx="10.00" ry="1.70" transform="translate(14.00 35.50) rotate(0.0)" fill="url(#g105)"/><ellipse cx="0" cy="0" rx="9.00" ry="1.50" transform="translate(14.00 24.50) rotate(0.0)" fill="url(#g106)"/><ellipse cx="0" cy="0" rx="8.00" ry="1.50" transform="translate(16.00 40.00) rotate(0.0)" fill="url(#g107)"/><ellipse cx="0" cy="0" rx="6.00" ry="4.50" transform="translate(26.00 29.60) rotate(0.0)" fill="url(#g108)"/><ellipse cx="0" cy="0" rx="5.00" ry="3.50" transform="translate(36.00 55.50) rotate(0.0)" fill="url(#g109)"/><ellipse cx="0" cy="0" rx="4.00" ry="2.80" transform="translate(45.50 17.50) rotate(0.0)" fill="url(#g110)"/><ellipse cx="0" cy="0" rx="4.50" ry="3.00" transform="translate(29.50 19.00) rotate(20.0)" fill="url(#g111)"/><ellipse cx="0" cy="0" rx="3.50" ry="4.00" transform="translate(28.00 44.00) rotate(0.0)" fill="url(#g112)"/><ellipse cx="0" cy="0" rx="4.60" ry="4.00" transform="translate(35.40 15.80) rotate(0.0)" fill="url(#g113)"/><ellipse cx="0" cy="0" rx="8.40" ry="4.00" transform="translate(36.40 25.60) rotate(10.0)" fill="url(#g114)"/><ellipse cx="0" cy="0" rx="6.20" ry="5.20" transform="translate(53.20 35.20) rotate(15.0)" fill="url(#g115)"/><ellipse cx="0" cy="0" rx="5.60" ry="10.80" transform="translate(36.30 43.50) rotate(-12.0)" fill="url(#g116)"/><ellipse cx="0" cy="0" rx="3.20" ry="3.20" transform="translate(35.20 38.80) rotate(0.0)" fill="url(#g117)"/><ellipse cx="0" cy="0" rx="2.60" ry="2.80" transform="translate(36.80 45.60) rotate(0.0)" fill="url(#g118)"/><ellipse cx="0" cy="0" rx="3.80" ry="5.00" transform="translate(45.20 46.40) rotate(0.0)" fill="url(#g119)"/><ellipse cx="0" cy="0" rx="3.00" ry="2.50" transform="translate(44.00 32.00) rotate(0.0)" fill="url(#g120)"/></g></svg>
<svg x="250.5" y="211.1" width="70.9" height="71.1" viewBox="0 0 72 72" preserveAspectRatio="none" overflow="hidden"><rect width="72" height="72" fill="#ff0000"/><g filter="url(#b05)"><ellipse cx="0" cy="0" rx="38.00" ry="38.00" transform="translate(35.00 35.00) rotate(0.0)" fill="url(#g121)"/><ellipse cx="0" cy="0" rx="19.00" ry="19.00" transform="translate(35.00 36.00) rotate(0.0)" fill="url(#g122)"/><ellipse cx="0" cy="0" rx="22.00" ry="22.00" transform="translate(35.70 35.50) rotate(0.0)" fill="url(#g123)"/><ellipse cx="0" cy="0" rx="31.00" ry="31.00" transform="translate(35.70 35.50) rotate(0.0)" fill="url(#g124)"/><ellipse cx="0" cy="0" rx="6.00" ry="3.60" transform="translate(47.40 21.50) rotate(-40.0)" fill="url(#g125)"/><ellipse cx="0" cy="0" rx="7.50" ry="4.80" transform="translate(27.50 46.10) rotate(28.0)" fill="url(#g126)"/><ellipse cx="0" cy="0" rx="4.80" ry="6.80" transform="translate(50.60 40.50) rotate(12.0)" fill="url(#g127)"/><ellipse cx="0" cy="0" rx="11.00" ry="8.00" transform="translate(37.00 40.00) rotate(20.0)" fill="url(#g128)"/><ellipse cx="0" cy="0" rx="8.20" ry="8.40" transform="translate(36.40 35.70) rotate(0.0)" fill="url(#g129)"/></g></svg>
<svg x="321.4" y="211.1" width="71.7" height="71.1" viewBox="0 0 72 72" preserveAspectRatio="none" overflow="hidden"><rect width="72" height="72" fill="#ff0000"/><g filter="url(#b05)"><ellipse cx="0" cy="0" rx="40.00" ry="40.00" transform="translate(36.00 36.00) rotate(0.0)" fill="url(#g130)"/><ellipse cx="0" cy="0" rx="24.00" ry="26.00" transform="translate(38.00 36.00) rotate(0.0)" fill="url(#g131)"/><ellipse cx="0" cy="0" rx="8.00" ry="5.00" transform="translate(24.00 14.00) rotate(-20.0)" fill="url(#g132)"/><ellipse cx="0" cy="0" rx="5.00" ry="9.00" transform="translate(10.00 30.00) rotate(0.0)" fill="url(#g133)"/><ellipse cx="0" cy="0" rx="5.00" ry="10.00" transform="translate(60.00 40.00) rotate(10.0)" fill="url(#g134)"/><ellipse cx="0" cy="0" rx="7.00" ry="4.00" transform="translate(53.00 15.00) rotate(30.0)" fill="url(#g135)"/><ellipse cx="0" cy="0" rx="7.00" ry="4.00" transform="translate(14.00 58.00) rotate(30.0)" fill="url(#g136)"/><ellipse cx="0" cy="0" rx="8.00" ry="3.00" transform="translate(36.00 65.00) rotate(0.0)" fill="url(#g137)"/><ellipse cx="0" cy="0" rx="5.00" ry="4.00" transform="translate(61.00 61.00) rotate(0.0)" fill="url(#g138)"/><ellipse cx="0" cy="0" rx="8.00" ry="3.00" transform="translate(38.00 7.00) rotate(0.0)" fill="url(#g139)"/><ellipse cx="0" cy="0" rx="4.00" ry="5.00" transform="translate(27.00 26.00) rotate(0.0)" fill="url(#g140)"/><ellipse cx="0" cy="0" rx="4.00" ry="5.00" transform="translate(54.00 52.00) rotate(0.0)" fill="url(#g141)"/><ellipse cx="0" cy="0" rx="4.60" ry="10.00" transform="translate(21.00 46.00) rotate(-18.0)" fill="url(#g142)"/><ellipse cx="0" cy="0" rx="4.50" ry="4.00" transform="translate(27.00 57.00) rotate(30.0)" fill="url(#g143)"/><ellipse cx="0" cy="0" rx="4.00" ry="4.00" transform="translate(24.00 55.00) rotate(0.0)" fill="url(#g144)"/><ellipse cx="0" cy="0" rx="5.00" ry="3.60" transform="translate(48.50 60.20) rotate(0.0)" fill="url(#g145)"/><ellipse cx="0" cy="0" rx="3.40" ry="5.00" transform="translate(27.50 35.00) rotate(0.0)" fill="url(#g146)"/><ellipse cx="0" cy="0" rx="10.40" ry="14.00" transform="translate(39.90 36.60) rotate(22.0)" fill="url(#g147)"/></g></svg>
<rect x="35.2" y="23.5" width="357.9" height="71.4" fill="none" stroke="#000" stroke-width="1"/>
<line x1="107.0" y1="23.5" x2="107.0" y2="94.9" stroke="#000" stroke-width="1"/>
<line x1="178.8" y1="23.5" x2="178.8" y2="94.9" stroke="#000" stroke-width="1"/>
<line x1="250.5" y1="23.5" x2="250.5" y2="94.9" stroke="#000" stroke-width="1"/>
<line x1="321.4" y1="23.5" x2="321.4" y2="94.9" stroke="#000" stroke-width="1"/>
<rect x="35.2" y="106.0" width="357.9" height="72.1" fill="none" stroke="#000" stroke-width="1"/>
<line x1="107.0" y1="106.0" x2="107.0" y2="178.1" stroke="#000" stroke-width="1"/>
<line x1="178.8" y1="106.0" x2="178.8" y2="178.1" stroke="#000" stroke-width="1"/>
<line x1="250.5" y1="106.0" x2="250.5" y2="178.1" stroke="#000" stroke-width="1"/>
<line x1="321.4" y1="106.0" x2="321.4" y2="178.1" stroke="#000" stroke-width="1"/>
<rect x="35.2" y="211.1" width="357.9" height="71.1" fill="none" stroke="#000" stroke-width="1"/>
<line x1="107.0" y1="211.1" x2="107.0" y2="282.2" stroke="#000" stroke-width="1"/>
<line x1="178.8" y1="211.1" x2="178.8" y2="282.2" stroke="#000" stroke-width="1"/>
<line x1="250.5" y1="211.1" x2="250.5" y2="282.2" stroke="#000" stroke-width="1"/>
<line x1="321.4" y1="211.1" x2="321.4" y2="282.2" stroke="#000" stroke-width="1"/>
<text x="37.2" y="32.6" font-size="9" fill="#4a0000" fill-opacity="0.9">1</text>
<text x="109.0" y="32.6" font-size="9" fill="#4a0000" fill-opacity="0.9">2</text>
<text x="180.8" y="32.6" font-size="9" fill="#4a0000" fill-opacity="0.9">3</text>
<text x="252.5" y="32.6" font-size="9" fill="#4a0000" fill-opacity="0.9">4</text>
<text x="323.4" y="32.6" font-size="9" fill="#4a0000" fill-opacity="0.9">5</text>
<line x1="35.2" y1="20.2" x2="35.2" y2="23.5" stroke="#000" stroke-width="0.9"/>
<text x="34.9" y="17.2" text-anchor="middle" font-size="4.5" fill="#222">0</text>
<line x1="47.2" y1="20.2" x2="47.2" y2="23.5" stroke="#000" stroke-width="0.9"/>
<text x="46.9" y="17.2" text-anchor="middle" font-size="4.5" fill="#222">2</text>
<line x1="59.1" y1="20.2" x2="59.1" y2="23.5" stroke="#000" stroke-width="0.9"/>
<text x="58.8" y="17.2" text-anchor="middle" font-size="4.5" fill="#222">4</text>
<line x1="71.1" y1="20.2" x2="71.1" y2="23.5" stroke="#000" stroke-width="0.9"/>
<text x="70.8" y="17.2" text-anchor="middle" font-size="4.5" fill="#222">6</text>
<line x1="83.1" y1="20.2" x2="83.1" y2="23.5" stroke="#000" stroke-width="0.9"/>
<text x="82.8" y="17.2" text-anchor="middle" font-size="4.5" fill="#222">8</text>
<line x1="95.0" y1="20.2" x2="95.0" y2="23.5" stroke="#000" stroke-width="0.9"/>
<text x="94.7" y="17.2" text-anchor="middle" font-size="4.5" fill="#222">10</text>
<line x1="107.0" y1="20.2" x2="107.0" y2="23.5" stroke="#000" stroke-width="0.9"/>
<text x="106.7" y="17.2" text-anchor="middle" font-size="4.5" fill="#222">0</text>
<line x1="119.0" y1="20.2" x2="119.0" y2="23.5" stroke="#000" stroke-width="0.9"/>
<text x="118.7" y="17.2" text-anchor="middle" font-size="4.5" fill="#222">2</text>
<line x1="130.9" y1="20.2" x2="130.9" y2="23.5" stroke="#000" stroke-width="0.9"/>
<text x="130.6" y="17.2" text-anchor="middle" font-size="4.5" fill="#222">4</text>
<line x1="142.9" y1="20.2" x2="142.9" y2="23.5" stroke="#000" stroke-width="0.9"/>
<text x="142.6" y="17.2" text-anchor="middle" font-size="4.5" fill="#222">6</text>
<line x1="154.9" y1="20.2" x2="154.9" y2="23.5" stroke="#000" stroke-width="0.9"/>
<text x="154.6" y="17.2" text-anchor="middle" font-size="4.5" fill="#222">8</text>
<line x1="166.8" y1="20.2" x2="166.8" y2="23.5" stroke="#000" stroke-width="0.9"/>
<text x="166.5" y="17.2" text-anchor="middle" font-size="4.5" fill="#222">10</text>
<line x1="178.8" y1="20.2" x2="178.8" y2="23.5" stroke="#000" stroke-width="0.9"/>
<text x="178.5" y="17.2" text-anchor="middle" font-size="4.5" fill="#222">0</text>
<line x1="190.8" y1="20.2" x2="190.8" y2="23.5" stroke="#000" stroke-width="0.9"/>
<text x="190.4" y="17.2" text-anchor="middle" font-size="4.5" fill="#222">2</text>
<line x1="202.7" y1="20.2" x2="202.7" y2="23.5" stroke="#000" stroke-width="0.9"/>
<text x="202.4" y="17.2" text-anchor="middle" font-size="4.5" fill="#222">4</text>
<line x1="214.7" y1="20.2" x2="214.7" y2="23.5" stroke="#000" stroke-width="0.9"/>
<text x="214.3" y="17.2" text-anchor="middle" font-size="4.5" fill="#222">6</text>
<line x1="226.6" y1="20.2" x2="226.6" y2="23.5" stroke="#000" stroke-width="0.9"/>
<text x="226.3" y="17.2" text-anchor="middle" font-size="4.5" fill="#222">8</text>
<line x1="238.6" y1="20.2" x2="238.6" y2="23.5" stroke="#000" stroke-width="0.9"/>
<text x="238.2" y="17.2" text-anchor="middle" font-size="4.5" fill="#222">10</text>
<line x1="250.5" y1="20.2" x2="250.5" y2="23.5" stroke="#000" stroke-width="0.9"/>
<text x="250.2" y="17.2" text-anchor="middle" font-size="4.5" fill="#222">0</text>
<line x1="262.3" y1="20.2" x2="262.3" y2="23.5" stroke="#000" stroke-width="0.9"/>
<text x="262.0" y="17.2" text-anchor="middle" font-size="4.5" fill="#222">2</text>
<line x1="274.1" y1="20.2" x2="274.1" y2="23.5" stroke="#000" stroke-width="0.9"/>
<text x="273.8" y="17.2" text-anchor="middle" font-size="4.5" fill="#222">4</text>
<line x1="285.9" y1="20.2" x2="285.9" y2="23.5" stroke="#000" stroke-width="0.9"/>
<text x="285.6" y="17.2" text-anchor="middle" font-size="4.5" fill="#222">6</text>
<line x1="297.8" y1="20.2" x2="297.8" y2="23.5" stroke="#000" stroke-width="0.9"/>
<text x="297.5" y="17.2" text-anchor="middle" font-size="4.5" fill="#222">8</text>
<line x1="309.6" y1="20.2" x2="309.6" y2="23.5" stroke="#000" stroke-width="0.9"/>
<text x="309.3" y="17.2" text-anchor="middle" font-size="4.5" fill="#222">10</text>
<line x1="321.4" y1="20.2" x2="321.4" y2="23.5" stroke="#000" stroke-width="0.9"/>
<text x="321.1" y="17.2" text-anchor="middle" font-size="4.5" fill="#222">0</text>
<line x1="333.3" y1="20.2" x2="333.3" y2="23.5" stroke="#000" stroke-width="0.9"/>
<text x="333.0" y="17.2" text-anchor="middle" font-size="4.5" fill="#222">2</text>
<line x1="345.3" y1="20.2" x2="345.3" y2="23.5" stroke="#000" stroke-width="0.9"/>
<text x="345.0" y="17.2" text-anchor="middle" font-size="4.5" fill="#222">4</text>
<line x1="357.2" y1="20.2" x2="357.2" y2="23.5" stroke="#000" stroke-width="0.9"/>
<text x="356.9" y="17.2" text-anchor="middle" font-size="4.5" fill="#222">6</text>
<line x1="369.2" y1="20.2" x2="369.2" y2="23.5" stroke="#000" stroke-width="0.9"/>
<text x="368.9" y="17.2" text-anchor="middle" font-size="4.5" fill="#222">8</text>
<line x1="381.2" y1="20.2" x2="381.2" y2="23.5" stroke="#000" stroke-width="0.9"/>
<text x="380.9" y="17.2" text-anchor="middle" font-size="4.5" fill="#222">10</text>
<line x1="393.1" y1="20.2" x2="393.1" y2="23.5" stroke="#000" stroke-width="0.9"/>
<text x="392.7" y="17.2" text-anchor="middle" font-size="4.5" fill="#222">12</text>
<line x1="32.6" y1="23.5" x2="35.2" y2="23.5" stroke="#000" stroke-width="0.9"/>
<text x="30.4" y="25.7" text-anchor="end" font-size="4.5" fill="#222">0</text>
<line x1="32.6" y1="35.4" x2="35.2" y2="35.4" stroke="#000" stroke-width="0.9"/>
<text x="30.4" y="37.6" text-anchor="end" font-size="4.5" fill="#222">2</text>
<line x1="32.6" y1="47.3" x2="35.2" y2="47.3" stroke="#000" stroke-width="0.9"/>
<text x="30.4" y="49.5" text-anchor="end" font-size="4.5" fill="#222">4</text>
<line x1="32.6" y1="59.2" x2="35.2" y2="59.2" stroke="#000" stroke-width="0.9"/>
<text x="30.4" y="61.4" text-anchor="end" font-size="4.5" fill="#222">6</text>
<line x1="32.6" y1="71.1" x2="35.2" y2="71.1" stroke="#000" stroke-width="0.9"/>
<text x="30.4" y="73.3" text-anchor="end" font-size="4.5" fill="#222">8</text>
<line x1="32.6" y1="83.0" x2="35.2" y2="83.0" stroke="#000" stroke-width="0.9"/>
<text x="30.4" y="85.2" text-anchor="end" font-size="4.5" fill="#222">10</text>
<line x1="32.6" y1="94.9" x2="35.2" y2="94.9" stroke="#000" stroke-width="0.9"/>
<text x="30.4" y="97.1" text-anchor="end" font-size="4.5" fill="#222">12</text>
<line x1="32.6" y1="106.0" x2="35.2" y2="106.0" stroke="#000" stroke-width="0.9"/>
<text x="30.4" y="108.2" text-anchor="end" font-size="4.5" fill="#222">0</text>
<line x1="32.6" y1="118.0" x2="35.2" y2="118.0" stroke="#000" stroke-width="0.9"/>
<text x="30.4" y="120.2" text-anchor="end" font-size="4.5" fill="#222">2</text>
<line x1="32.6" y1="130.0" x2="35.2" y2="130.0" stroke="#000" stroke-width="0.9"/>
<text x="30.4" y="132.2" text-anchor="end" font-size="4.5" fill="#222">4</text>
<line x1="32.6" y1="142.1" x2="35.2" y2="142.1" stroke="#000" stroke-width="0.9"/>
<text x="30.4" y="144.2" text-anchor="end" font-size="4.5" fill="#222">6</text>
<line x1="32.6" y1="154.1" x2="35.2" y2="154.1" stroke="#000" stroke-width="0.9"/>
<text x="30.4" y="156.3" text-anchor="end" font-size="4.5" fill="#222">8</text>
<line x1="32.6" y1="166.1" x2="35.2" y2="166.1" stroke="#000" stroke-width="0.9"/>
<text x="30.4" y="168.3" text-anchor="end" font-size="4.5" fill="#222">10</text>
<line x1="32.6" y1="178.1" x2="35.2" y2="178.1" stroke="#000" stroke-width="0.9"/>
<text x="30.4" y="180.3" text-anchor="end" font-size="4.5" fill="#222">12</text>
<line x1="32.6" y1="211.1" x2="35.2" y2="211.1" stroke="#000" stroke-width="0.9"/>
<text x="30.4" y="213.3" text-anchor="end" font-size="4.5" fill="#222">0</text>
<line x1="32.6" y1="228.9" x2="35.2" y2="228.9" stroke="#000" stroke-width="0.9"/>
<text x="30.4" y="231.1" text-anchor="end" font-size="4.5" fill="#222">0.05</text>
<line x1="32.6" y1="246.6" x2="35.2" y2="246.6" stroke="#000" stroke-width="0.9"/>
<text x="30.4" y="248.8" text-anchor="end" font-size="4.5" fill="#222">0.1</text>
<line x1="32.6" y1="264.4" x2="35.2" y2="264.4" stroke="#000" stroke-width="0.9"/>
<text x="30.4" y="266.6" text-anchor="end" font-size="4.5" fill="#222">0.15</text>
<line x1="32.6" y1="282.2" x2="35.2" y2="282.2" stroke="#000" stroke-width="0.9"/>
<text x="30.4" y="284.4" text-anchor="end" font-size="4.5" fill="#222">0.2</text>
<line x1="35.2" y1="282.2" x2="35.2" y2="285.6" stroke="#000" stroke-width="0.9"/>
<text x="35.8" y="291.8" text-anchor="middle" font-size="4.5" fill="#222">0</text>
<line x1="54.0" y1="282.2" x2="54.0" y2="285.6" stroke="#000" stroke-width="0.9"/>
<text x="54.6" y="291.8" text-anchor="middle" font-size="4.5" fill="#222">0.05</text>
<line x1="72.7" y1="282.2" x2="72.7" y2="285.6" stroke="#000" stroke-width="0.9"/>
<text x="73.3" y="291.8" text-anchor="middle" font-size="4.5" fill="#222">0.1</text>
<line x1="91.5" y1="282.2" x2="91.5" y2="285.6" stroke="#000" stroke-width="0.9"/>
<text x="92.0" y="291.8" text-anchor="middle" font-size="4.5" fill="#222">0.15</text>
<line x1="107.0" y1="282.2" x2="107.0" y2="285.6" stroke="#000" stroke-width="0.9"/>
<text x="107.6" y="291.8" text-anchor="middle" font-size="4.5" fill="#222">0</text>
<line x1="125.8" y1="282.2" x2="125.8" y2="285.6" stroke="#000" stroke-width="0.9"/>
<text x="126.3" y="291.8" text-anchor="middle" font-size="4.5" fill="#222">0.05</text>
<line x1="144.5" y1="282.2" x2="144.5" y2="285.6" stroke="#000" stroke-width="0.9"/>
<text x="145.1" y="291.8" text-anchor="middle" font-size="4.5" fill="#222">0.1</text>
<line x1="163.2" y1="282.2" x2="163.2" y2="285.6" stroke="#000" stroke-width="0.9"/>
<text x="163.8" y="291.8" text-anchor="middle" font-size="4.5" fill="#222">0.15</text>
<line x1="178.8" y1="282.2" x2="178.8" y2="285.6" stroke="#000" stroke-width="0.9"/>
<text x="179.4" y="291.8" text-anchor="middle" font-size="4.5" fill="#222">0</text>
<line x1="197.6" y1="282.2" x2="197.6" y2="285.6" stroke="#000" stroke-width="0.9"/>
<text x="198.2" y="291.8" text-anchor="middle" font-size="4.5" fill="#222">0.05</text>
<line x1="216.3" y1="282.2" x2="216.3" y2="285.6" stroke="#000" stroke-width="0.9"/>
<text x="216.9" y="291.8" text-anchor="middle" font-size="4.5" fill="#222">0.1</text>
<line x1="235.1" y1="282.2" x2="235.1" y2="285.6" stroke="#000" stroke-width="0.9"/>
<text x="235.7" y="291.8" text-anchor="middle" font-size="4.5" fill="#222">0.15</text>
<line x1="250.5" y1="282.2" x2="250.5" y2="285.6" stroke="#000" stroke-width="0.9"/>
<text x="251.1" y="291.8" text-anchor="middle" font-size="4.5" fill="#222">0</text>
<line x1="269.2" y1="282.2" x2="269.2" y2="285.6" stroke="#000" stroke-width="0.9"/>
<text x="269.9" y="291.8" text-anchor="middle" font-size="4.5" fill="#222">0.05</text>
<line x1="288.0" y1="282.2" x2="288.0" y2="285.6" stroke="#000" stroke-width="0.9"/>
<text x="288.6" y="291.8" text-anchor="middle" font-size="4.5" fill="#222">0.1</text>
<line x1="306.8" y1="282.2" x2="306.8" y2="285.6" stroke="#000" stroke-width="0.9"/>
<text x="307.4" y="291.8" text-anchor="middle" font-size="4.5" fill="#222">0.15</text>
<line x1="321.4" y1="282.2" x2="321.4" y2="285.6" stroke="#000" stroke-width="0.9"/>
<text x="322.0" y="291.8" text-anchor="middle" font-size="4.5" fill="#222">0</text>
<line x1="340.1" y1="282.2" x2="340.1" y2="285.6" stroke="#000" stroke-width="0.9"/>
<text x="340.8" y="291.8" text-anchor="middle" font-size="4.5" fill="#222">0.05</text>
<line x1="358.9" y1="282.2" x2="358.9" y2="285.6" stroke="#000" stroke-width="0.9"/>
<text x="359.5" y="291.8" text-anchor="middle" font-size="4.5" fill="#222">0.1</text>
<line x1="377.6" y1="282.2" x2="377.6" y2="285.6" stroke="#000" stroke-width="0.9"/>
<text x="378.2" y="291.8" text-anchor="middle" font-size="4.5" fill="#222">0.15</text>
<line x1="393.1" y1="282.2" x2="393.1" y2="285.6" stroke="#000" stroke-width="0.9"/>
<text x="394.3" y="291.8" text-anchor="middle" font-size="4.5" fill="#222">0.2</text>
<text x="207.3" y="7.4" text-anchor="middle" font-size="6.7" fill="#111">Horizontal position (mm)</text>
<text x="209.2" y="300.4" text-anchor="middle" font-size="6.7" fill="#111">Horizontal position (mm)</text>
<text transform="translate(11.8 105.4) rotate(-90)" text-anchor="middle" font-size="6.7" fill="#111">Vertical position (mm)</text>
<text transform="translate(11.8 248.2) rotate(-90)" text-anchor="middle" font-size="6.7" fill="#111">Vertical position (mm)</text>
<text x="2.2" y="16.8" font-size="13.5" font-weight="bold" fill="#000">a</text>
<text x="415.8" y="61.8" font-size="13.3" font-weight="bold" fill="#000">b</text>
<text x="10.1" y="191" font-size="6.6" fill="#111">lambda</text>
<rect x="40.4" y="184.2" width="58.5" height="7.2" fill="url(#cb)" stroke="#111" stroke-width="0.9"/>
<text x="40.2" y="199.3" font-size="5.6" fill="#111">-1.17</text>
<text x="99.2" y="199.3" font-size="5.6" fill="#111" text-anchor="end">1.12</text>
<rect x="112.2" y="184.2" width="58.5" height="7.2" fill="url(#cb)" stroke="#111" stroke-width="0.9"/>
<text x="112.0" y="199.3" font-size="5.6" fill="#111">-0.49</text>
<text x="171.0" y="199.3" font-size="5.6" fill="#111" text-anchor="end">0.49</text>
<rect x="184.0" y="184.2" width="58.5" height="7.2" fill="url(#cb)" stroke="#111" stroke-width="0.9"/>
<text x="183.8" y="199.3" font-size="5.6" fill="#111">-0.88</text>
<text x="242.8" y="199.3" font-size="5.6" fill="#111" text-anchor="end">1.39</text>
<rect x="255.7" y="184.2" width="58.5" height="7.2" fill="url(#cb)" stroke="#111" stroke-width="0.9"/>
<text x="255.5" y="199.3" font-size="5.6" fill="#111">-0.22</text>
<text x="314.5" y="199.3" font-size="5.6" fill="#111" text-anchor="end">0.28</text>
<rect x="326.6" y="184.2" width="58.5" height="7.2" fill="url(#cb)" stroke="#111" stroke-width="0.9"/>
<text x="326.4" y="199.3" font-size="5.6" fill="#111">-0.96</text>
<text x="385.4" y="199.3" font-size="5.6" fill="#111" text-anchor="end">0.69</text>
<rect x="447.4" y="54.5" width="234.2" height="174.2" fill="#fff" stroke="none"/>
<path d="M447.4 54.5 H681.6 V228.7" fill="none" stroke="#3a3a3a" stroke-width="0.8"/>
<path d="M447.4 54.1 V228.7 H682.0" fill="none" stroke="#777" stroke-width="1.3"/>
<line x1="443.0" y1="225.2" x2="446.8" y2="225.2" stroke="#222" stroke-width="0.9"/>
<text x="440.4" y="227.9" text-anchor="end" font-size="6.5" fill="#333">0</text>
<line x1="443.0" y1="192.1" x2="446.8" y2="192.1" stroke="#222" stroke-width="0.9"/>
<text x="440.4" y="194.8" text-anchor="end" font-size="6.5" fill="#333">0.1</text>
<line x1="443.0" y1="159.0" x2="446.8" y2="159.0" stroke="#222" stroke-width="0.9"/>
<text x="440.4" y="161.7" text-anchor="end" font-size="6.5" fill="#333">0.2</text>
<line x1="443.0" y1="125.9" x2="446.8" y2="125.9" stroke="#222" stroke-width="0.9"/>
<text x="440.4" y="128.6" text-anchor="end" font-size="6.5" fill="#333">0.3</text>
<line x1="443.0" y1="92.8" x2="446.8" y2="92.8" stroke="#222" stroke-width="0.9"/>
<text x="440.4" y="95.5" text-anchor="end" font-size="6.5" fill="#333">0.4</text>
<line x1="443.0" y1="59.7" x2="446.8" y2="59.7" stroke="#222" stroke-width="0.9"/>
<text x="440.4" y="62.4" text-anchor="end" font-size="6.5" fill="#333">0.5</text>
<line x1="469.4" y1="229.3" x2="469.4" y2="234.0" stroke="#222" stroke-width="0.9"/>
<text x="469.4" y="241.9" text-anchor="middle" font-size="6.5" fill="#333">10</text>
<line x1="507.3" y1="229.3" x2="507.3" y2="234.0" stroke="#222" stroke-width="0.9"/>
<text x="507.3" y="241.9" text-anchor="middle" font-size="6.5" fill="#333">12</text>
<line x1="545.2" y1="229.3" x2="545.2" y2="234.0" stroke="#222" stroke-width="0.9"/>
<text x="545.2" y="241.9" text-anchor="middle" font-size="6.5" fill="#333">14</text>
<line x1="583.1" y1="229.3" x2="583.1" y2="234.0" stroke="#222" stroke-width="0.9"/>
<text x="583.1" y="241.9" text-anchor="middle" font-size="6.5" fill="#333">16</text>
<line x1="621.0" y1="229.3" x2="621.0" y2="234.0" stroke="#222" stroke-width="0.9"/>
<text x="621.0" y="241.9" text-anchor="middle" font-size="6.5" fill="#333">18</text>
<line x1="658.9" y1="229.3" x2="658.9" y2="234.0" stroke="#222" stroke-width="0.9"/>
<text x="658.9" y="241.9" text-anchor="middle" font-size="6.5" fill="#333">20</text>
<text transform="translate(420.6 150.5) rotate(-90)" text-anchor="middle" font-size="7.58" fill="#222">Distorsions (rms, lambda)</text>
<text x="549.3" y="251.8" font-size="7" font-style="italic" fill="#222">Φ</text><text x="554.9" y="253.2" font-size="4" font-style="italic" fill="#333">Lt</text><text x="561.6" y="251.8" font-size="7.5" fill="#222">(mm)</text>
<path d="M447.8 154.5 L453.8 160.1 L453.8 154.5 L447.8 160.1 Z" fill="#fff" fill-opacity="1" stroke="#6a10b8" stroke-width="0.6" stroke-linejoin="round"/>
<path d="M485.6 111.5 L491.6 117.1 L491.6 111.5 L485.6 117.1 Z" fill="#fff" fill-opacity="1" stroke="#6a10b8" stroke-width="0.6" stroke-linejoin="round"/>
<path d="M523.5 79.4 L529.5 85.0 L529.5 79.4 L523.5 85.0 Z" fill="#fff" fill-opacity="1" stroke="#6a10b8" stroke-width="0.6" stroke-linejoin="round"/>
<path d="M447.8 208.5 L453.8 214.1 L453.8 208.5 L447.8 214.1 Z" fill="#fff" fill-opacity="1" stroke="#6a10b8" stroke-width="0.6" stroke-linejoin="round"/>
<path d="M485.6 158.5 L491.6 164.1 L491.6 158.5 L485.6 164.1 Z" fill="#fff" fill-opacity="1" stroke="#6a10b8" stroke-width="0.6" stroke-linejoin="round"/>
<path d="M523.5 151.2 L529.5 156.8 L529.5 151.2 L523.5 156.8 Z" fill="#fff" fill-opacity="1" stroke="#6a10b8" stroke-width="0.6" stroke-linejoin="round"/>
<path d="M448.4 192.8 L450.6 190.2 L452.7 192.8 L450.6 195.4 Z" fill="#fff" fill-opacity="1" stroke="#7010c8" stroke-width="0.7"/>
<path d="M524.2 119.3 L526.4 116.7 L528.5 119.3 L526.4 121.9 Z" fill="#fff" fill-opacity="1" stroke="#7010c8" stroke-width="0.7"/>
<path d="M600.0 108.7 L602.1 106.1 L604.2 108.7 L602.1 111.3 Z" fill="#fff" fill-opacity="1" stroke="#7010c8" stroke-width="0.7"/>
<path d="M675.8 81.9 L677.9 79.3 L680.0 81.9 L677.9 84.5 Z" fill="#fff" fill-opacity="1" stroke="#7010c8" stroke-width="0.7"/>
<path d="M448.4 215.6 L450.6 213.0 L452.7 215.6 L450.6 218.2 Z" fill="#fff" fill-opacity="1" stroke="#7010c8" stroke-width="0.7"/>
<path d="M524.2 191.1 L526.4 188.5 L528.5 191.1 L526.4 193.7 Z" fill="#fff" fill-opacity="1" stroke="#7010c8" stroke-width="0.7"/>
<path d="M600.0 196.4 L602.1 193.8 L604.2 196.4 L602.1 199.0 Z" fill="#fff" fill-opacity="1" stroke="#7010c8" stroke-width="0.7"/>
<path d="M675.8 169.9 L677.9 167.3 L680.0 169.9 L677.9 172.5 Z" fill="#fff" fill-opacity="1" stroke="#7010c8" stroke-width="0.7"/>
<g clip-path="url(#chartclip)">
<polyline points="450.4,157.3 488.3,114.3 526.2,82.2" fill="none" stroke="#7c08e4" stroke-width="2.6" stroke-linejoin="round"/>
<polyline points="450.4,192.8 526.2,119.3 602.0,108.7 677.8,81.9" fill="none" stroke="#7c08e4" stroke-width="2.6" stroke-linejoin="round"/>
<polyline points="450.4,211.3 488.3,161.3 526.2,154.0" fill="none" stroke="#7c08e4" stroke-width="2.6" stroke-linejoin="round" stroke-dasharray="10.3 7.4"/>
<polyline points="450.4,215.6 526.2,191.1 602.0,196.4 677.8,169.9" fill="none" stroke="#7c08e4" stroke-width="2.6" stroke-linejoin="round" stroke-dasharray="10.3 7.4"/>
</g>
<path d="M447.8 154.5 L453.8 160.1 L453.8 154.5 L447.8 160.1 Z" fill="#fff" fill-opacity="0.3" stroke="#6a10b8" stroke-width="0.6" stroke-linejoin="round"/>
<path d="M485.6 111.5 L491.6 117.1 L491.6 111.5 L485.6 117.1 Z" fill="#fff" fill-opacity="0.3" stroke="#6a10b8" stroke-width="0.6" stroke-linejoin="round"/>
<path d="M523.5 79.4 L529.5 85.0 L529.5 79.4 L523.5 85.0 Z" fill="#fff" fill-opacity="0.3" stroke="#6a10b8" stroke-width="0.6" stroke-linejoin="round"/>
<path d="M447.8 208.5 L453.8 214.1 L453.8 208.5 L447.8 214.1 Z" fill="#fff" fill-opacity="0.3" stroke="#6a10b8" stroke-width="0.6" stroke-linejoin="round"/>
<path d="M485.6 158.5 L491.6 164.1 L491.6 158.5 L485.6 164.1 Z" fill="#fff" fill-opacity="0.3" stroke="#6a10b8" stroke-width="0.6" stroke-linejoin="round"/>
<path d="M523.5 151.2 L529.5 156.8 L529.5 151.2 L523.5 156.8 Z" fill="#fff" fill-opacity="0.3" stroke="#6a10b8" stroke-width="0.6" stroke-linejoin="round"/>
<path d="M448.4 192.8 L450.6 190.2 L452.7 192.8 L450.6 195.4 Z" fill="#fff" fill-opacity="0.3" stroke="#7010c8" stroke-width="0.7"/>
<path d="M524.2 119.3 L526.4 116.7 L528.5 119.3 L526.4 121.9 Z" fill="#fff" fill-opacity="0.3" stroke="#7010c8" stroke-width="0.7"/>
<path d="M600.0 108.7 L602.1 106.1 L604.2 108.7 L602.1 111.3 Z" fill="#fff" fill-opacity="0.3" stroke="#7010c8" stroke-width="0.7"/>
<path d="M675.8 81.9 L677.9 79.3 L680.0 81.9 L677.9 84.5 Z" fill="#fff" fill-opacity="0.3" stroke="#7010c8" stroke-width="0.7"/>
<path d="M448.4 215.6 L450.6 213.0 L452.7 215.6 L450.6 218.2 Z" fill="#fff" fill-opacity="0.3" stroke="#7010c8" stroke-width="0.7"/>
<path d="M524.2 191.1 L526.4 188.5 L528.5 191.1 L526.4 193.7 Z" fill="#fff" fill-opacity="0.3" stroke="#7010c8" stroke-width="0.7"/>
<path d="M600.0 196.4 L602.1 193.8 L604.2 196.4 L602.1 199.0 Z" fill="#fff" fill-opacity="0.3" stroke="#7010c8" stroke-width="0.7"/>
<path d="M675.8 169.9 L677.9 167.3 L680.0 169.9 L677.9 172.5 Z" fill="#fff" fill-opacity="0.3" stroke="#7010c8" stroke-width="0.7"/>
<polygon points="488.8,146.8 489.5,149.9 494.2,150.6 489.5,151.2 488.8,154.4 488.2,151.2 483.4,150.6 488.2,149.9" fill="#e81010" stroke="#e01818" stroke-width="0.7"/>
<polygon points="488.8,213.5 489.5,216.6 494.2,217.3 489.5,217.9 488.8,221.1 488.2,217.9 483.4,217.3 488.2,216.6" fill="#fff" stroke="#e01818" stroke-width="0.6"/>
</svg>
</body></html>
